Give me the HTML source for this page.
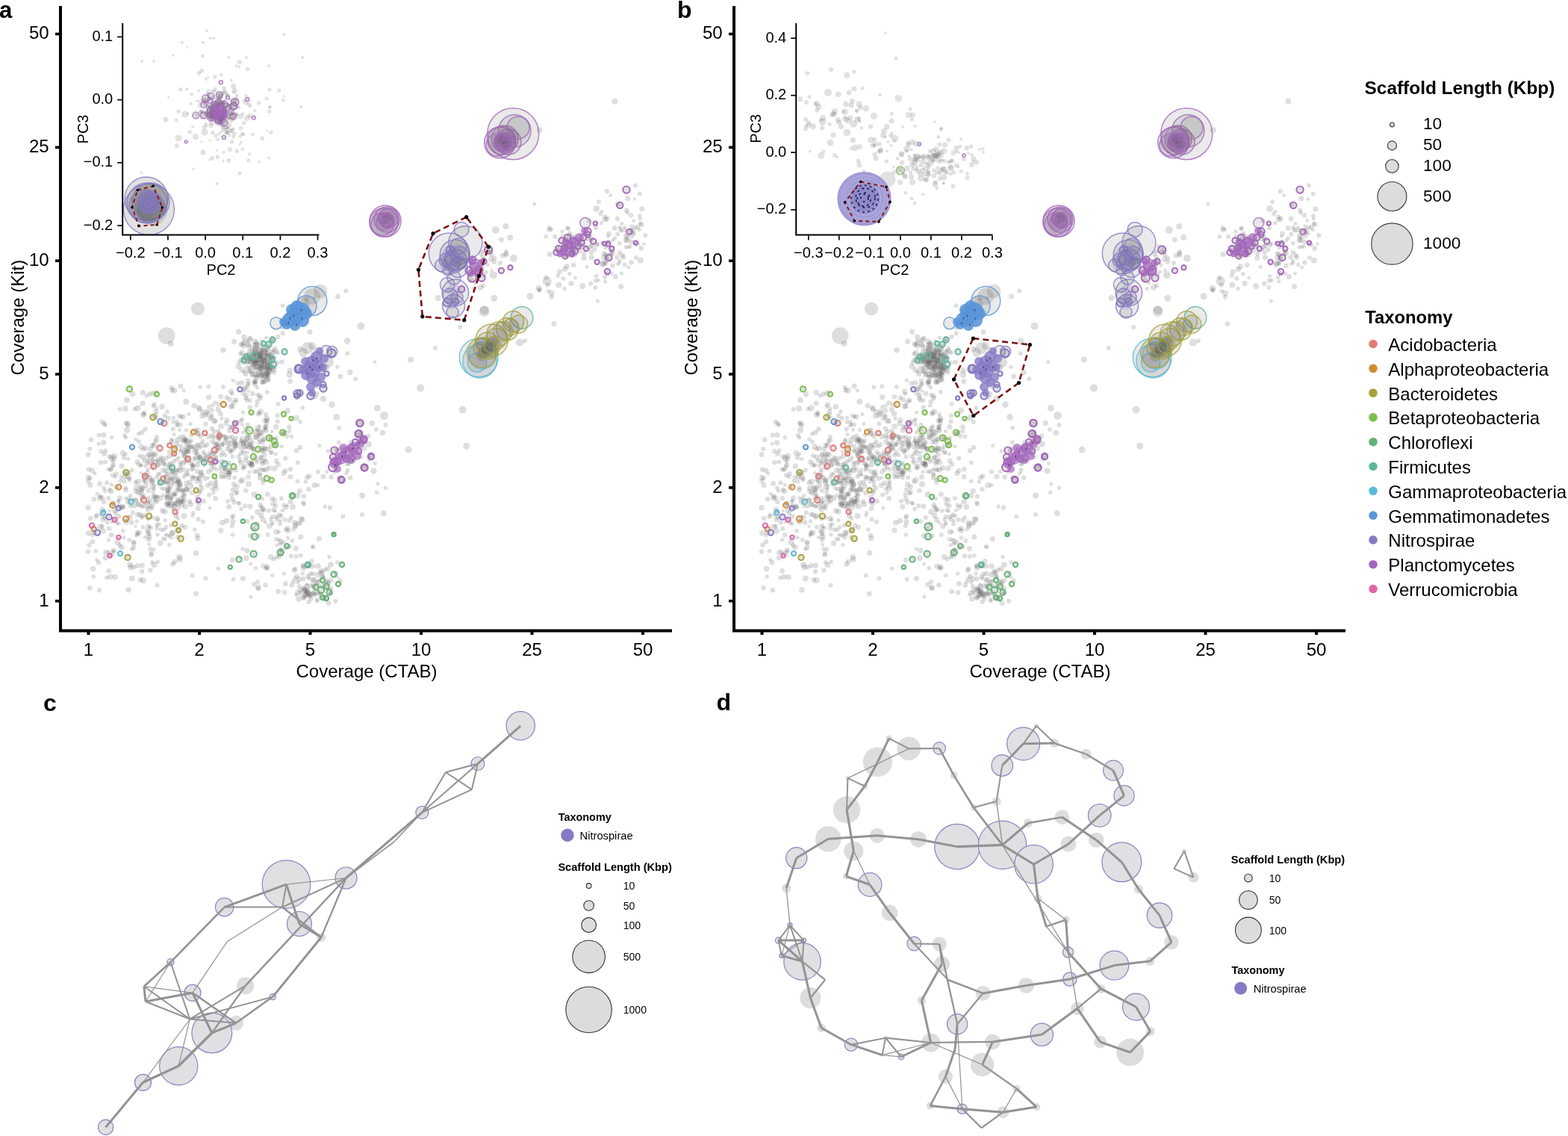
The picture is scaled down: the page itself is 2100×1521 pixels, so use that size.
<!DOCTYPE html>
<html><head><meta charset="utf-8"><style>html,body{margin:0;padding:0;background:#fff;overflow:hidden}svg{display:block}</style></head><body>
<svg width="2100" height="1521" viewBox="0 0 2100 1521" font-family="'Liberation Sans', Arial, Helvetica, sans-serif">
<rect width="100%" height="100%" fill="#fff"/>
<defs><g id="sc">
<g fill="#5a5a5a" fill-opacity="0.2">
<circle cx="246.2" cy="670.7" r="3.9"/>
<circle cx="250" cy="654.9" r="3.4"/>
<circle cx="168.6" cy="656.1" r="3.4"/>
<circle cx="345" cy="528.7" r="3"/>
<circle cx="141.3" cy="746.9" r="3.5"/>
<circle cx="394.8" cy="699.4" r="3.4"/>
<circle cx="268.2" cy="518.2" r="2.8"/>
<circle cx="249.5" cy="634.4" r="3.8"/>
<circle cx="265.5" cy="695.3" r="3.2"/>
<circle cx="307.1" cy="639.5" r="2.9"/>
<circle cx="358.7" cy="715.9" r="3"/>
<circle cx="181.6" cy="588.2" r="2.6"/>
<circle cx="337.2" cy="622.1" r="3.8"/>
<circle cx="230.3" cy="522.3" r="3.4"/>
<circle cx="340.8" cy="582.3" r="2.6"/>
<circle cx="334.8" cy="536" r="2.9"/>
<circle cx="346.1" cy="554.2" r="3.3"/>
<circle cx="244.8" cy="558.2" r="3.6"/>
<circle cx="153" cy="696.3" r="2.7"/>
<circle cx="237" cy="564.9" r="2.9"/>
<circle cx="396.6" cy="745" r="3"/>
<circle cx="371.6" cy="564.3" r="3.1"/>
<circle cx="362.8" cy="695.8" r="2.7"/>
<circle cx="401.9" cy="565" r="2.9"/>
<circle cx="339.1" cy="600.3" r="2.9"/>
<circle cx="284" cy="574.1" r="3.4"/>
<circle cx="222.8" cy="638.2" r="3.9"/>
<circle cx="255.3" cy="675.2" r="3.8"/>
<circle cx="168" cy="547" r="3.9"/>
<circle cx="352.2" cy="576.1" r="2.8"/>
<circle cx="172" cy="789.8" r="3.8"/>
<circle cx="290" cy="628.5" r="2.7"/>
<circle cx="184.1" cy="714.9" r="2.9"/>
<circle cx="353.9" cy="681.9" r="2.9"/>
<circle cx="165.9" cy="719.7" r="2.6"/>
<circle cx="181.2" cy="670.6" r="3.8"/>
<circle cx="293.1" cy="585.5" r="3.9"/>
<circle cx="193.1" cy="635.9" r="2.6"/>
<circle cx="166.1" cy="612.5" r="3.4"/>
<circle cx="153.2" cy="610.5" r="3.8"/>
<circle cx="399.3" cy="700.4" r="3.5"/>
<circle cx="284.5" cy="542.8" r="2.6"/>
<circle cx="121.2" cy="694" r="3.2"/>
<circle cx="326.8" cy="597.3" r="4"/>
<circle cx="136.8" cy="666.6" r="3.6"/>
<circle cx="376.1" cy="724.8" r="3.6"/>
<circle cx="345" cy="779.1" r="3"/>
<circle cx="367.6" cy="627.2" r="3.7"/>
<circle cx="365.4" cy="674.7" r="3.4"/>
<circle cx="225.9" cy="677.7" r="3.4"/>
<circle cx="138.3" cy="695" r="4"/>
<circle cx="370.1" cy="722.1" r="3.1"/>
<circle cx="328.2" cy="677.2" r="3.2"/>
<circle cx="289.4" cy="646.7" r="2.8"/>
<circle cx="317.5" cy="651.7" r="3.4"/>
<circle cx="381.9" cy="578" r="2.5"/>
<circle cx="202.3" cy="706.8" r="2.8"/>
<circle cx="306.4" cy="634.8" r="3.8"/>
<circle cx="209.8" cy="703.1" r="2.8"/>
<circle cx="240" cy="745.8" r="3.9"/>
<circle cx="370.3" cy="617.2" r="3.4"/>
<circle cx="206.8" cy="541.5" r="3.2"/>
<circle cx="357.8" cy="758.9" r="3.6"/>
<circle cx="390.5" cy="584.4" r="2.8"/>
<circle cx="245.7" cy="583.9" r="2.8"/>
<circle cx="235.1" cy="690.8" r="3.2"/>
<circle cx="206.5" cy="755.9" r="4"/>
<circle cx="246.2" cy="522.8" r="2.5"/>
<circle cx="320.5" cy="674" r="3"/>
<circle cx="154.4" cy="638.7" r="2.5"/>
<circle cx="355.6" cy="572.4" r="2.7"/>
<circle cx="128.6" cy="691.9" r="3.2"/>
<circle cx="297.7" cy="699.8" r="3.7"/>
<circle cx="393" cy="708.8" r="2.8"/>
<circle cx="252.8" cy="554.5" r="2.5"/>
<circle cx="166.9" cy="583.1" r="3"/>
<circle cx="317.2" cy="658.7" r="3.4"/>
<circle cx="334.3" cy="620" r="3.7"/>
<circle cx="385.5" cy="720.3" r="2.7"/>
<circle cx="246.5" cy="690.8" r="3.9"/>
<circle cx="224.3" cy="673.5" r="3.8"/>
<circle cx="346.1" cy="788" r="3.2"/>
<circle cx="303.9" cy="562.5" r="3.6"/>
<circle cx="352.3" cy="695.7" r="3.6"/>
<circle cx="176.9" cy="774.5" r="4"/>
<circle cx="398.4" cy="663.8" r="3.7"/>
<circle cx="363.2" cy="606.3" r="2.6"/>
<circle cx="242.9" cy="667.8" r="3.7"/>
<circle cx="347" cy="552.7" r="3"/>
<circle cx="343.5" cy="542.9" r="2.7"/>
<circle cx="264.8" cy="720.7" r="3.8"/>
<circle cx="139.9" cy="567.5" r="3.3"/>
<circle cx="199.1" cy="722.3" r="3.5"/>
<circle cx="277.4" cy="595.1" r="3.1"/>
<circle cx="175.4" cy="759.5" r="4"/>
<circle cx="267" cy="674.8" r="2.8"/>
<circle cx="270.4" cy="653.5" r="3.4"/>
<circle cx="264.6" cy="622.2" r="3.7"/>
<circle cx="278.2" cy="649.8" r="3.5"/>
<circle cx="134.1" cy="664.3" r="3.1"/>
<circle cx="193.1" cy="644.3" r="2.7"/>
<circle cx="240.8" cy="748.8" r="3.9"/>
<circle cx="253.2" cy="596.8" r="2.8"/>
<circle cx="152.5" cy="737.7" r="2.5"/>
<circle cx="171.3" cy="569.3" r="3.5"/>
<circle cx="208.4" cy="608.4" r="3.4"/>
<circle cx="145.4" cy="722.9" r="2.7"/>
<circle cx="263" cy="576.4" r="2.8"/>
<circle cx="268.8" cy="633.2" r="3.1"/>
<circle cx="234.9" cy="661.5" r="2.7"/>
<circle cx="174.2" cy="692.6" r="3.5"/>
<circle cx="292.4" cy="761.3" r="2.8"/>
<circle cx="329.8" cy="747.2" r="3.9"/>
<circle cx="206.6" cy="596.1" r="3.9"/>
<circle cx="372.4" cy="540.8" r="2.9"/>
<circle cx="325.7" cy="579.1" r="2.6"/>
<circle cx="356.3" cy="628.6" r="3.7"/>
<circle cx="151.5" cy="622.8" r="3.5"/>
<circle cx="260.8" cy="709.1" r="2.8"/>
<circle cx="125.9" cy="668.3" r="3.3"/>
<circle cx="279.9" cy="544.7" r="2.8"/>
<circle cx="174.1" cy="756.3" r="4"/>
<circle cx="133" cy="790.2" r="3.2"/>
<circle cx="336.8" cy="599.7" r="3.2"/>
<circle cx="264.4" cy="631.2" r="3.4"/>
<circle cx="118.8" cy="713.8" r="3.8"/>
<circle cx="167.6" cy="638.5" r="3.6"/>
<circle cx="232.5" cy="559.5" r="2.7"/>
<circle cx="374" cy="744.5" r="3.6"/>
<circle cx="364.6" cy="692" r="3.1"/>
<circle cx="288.9" cy="653.8" r="4"/>
<circle cx="348.4" cy="578.8" r="3.9"/>
<circle cx="330.9" cy="737.3" r="3.7"/>
<circle cx="370.2" cy="711.9" r="3.7"/>
<circle cx="336.9" cy="623.8" r="3.6"/>
<circle cx="135.5" cy="604.2" r="3.2"/>
<circle cx="118.1" cy="608.5" r="3.5"/>
<circle cx="296" cy="570.8" r="3.9"/>
<circle cx="308.2" cy="603" r="3.5"/>
<circle cx="280.2" cy="662.6" r="3.1"/>
<circle cx="405" cy="695.9" r="3.6"/>
<circle cx="335.9" cy="798.9" r="2.5"/>
<circle cx="189.4" cy="622.5" r="2.6"/>
<circle cx="171.7" cy="614.6" r="2.6"/>
<circle cx="187.8" cy="776.2" r="3.3"/>
<circle cx="262.3" cy="795" r="3.4"/>
<circle cx="403.6" cy="694.6" r="3.7"/>
<circle cx="137.1" cy="682.2" r="3.6"/>
<circle cx="161.4" cy="643.9" r="2.8"/>
<circle cx="258.7" cy="686.4" r="2.6"/>
<circle cx="389.1" cy="628.3" r="3.3"/>
<circle cx="288.4" cy="611.5" r="2.9"/>
<circle cx="305" cy="671" r="2.9"/>
<circle cx="322.8" cy="590.3" r="2.5"/>
<circle cx="160.4" cy="730.2" r="3.1"/>
<circle cx="375.3" cy="728.3" r="2.6"/>
<circle cx="239.6" cy="645.7" r="4"/>
<circle cx="185.7" cy="659.6" r="3.9"/>
<circle cx="324.6" cy="642.8" r="4"/>
<circle cx="351.8" cy="684.1" r="2.7"/>
<circle cx="296" cy="639" r="2.8"/>
<circle cx="130.1" cy="661.1" r="2.7"/>
<circle cx="243.4" cy="703.7" r="3.2"/>
<circle cx="191" cy="677.6" r="3.1"/>
<circle cx="340.6" cy="661.9" r="4"/>
<circle cx="391.3" cy="724" r="2.9"/>
<circle cx="148" cy="772.3" r="3.7"/>
<circle cx="296.2" cy="609.6" r="2.9"/>
<circle cx="313.7" cy="672.3" r="3.4"/>
<circle cx="170" cy="575.9" r="4"/>
<circle cx="380.6" cy="768" r="2.6"/>
<circle cx="132.6" cy="582.6" r="3.1"/>
<circle cx="295.8" cy="531.3" r="3.3"/>
<circle cx="311.1" cy="667.9" r="3.4"/>
<circle cx="223.2" cy="646" r="2.8"/>
<circle cx="214.7" cy="727.2" r="3.8"/>
<circle cx="349.7" cy="690.2" r="3.7"/>
<circle cx="176.8" cy="629.4" r="2.9"/>
<circle cx="349.9" cy="612.5" r="3.5"/>
<circle cx="401.9" cy="599.2" r="3.3"/>
<circle cx="239" cy="612.6" r="2.6"/>
<circle cx="139.1" cy="672.1" r="3.2"/>
<circle cx="313.7" cy="591.2" r="3.7"/>
<circle cx="137.1" cy="565" r="3.5"/>
<circle cx="138.7" cy="592.7" r="3.6"/>
<circle cx="316.3" cy="586.3" r="2.7"/>
<circle cx="218.8" cy="721.4" r="3"/>
<circle cx="149" cy="716.3" r="3.4"/>
<circle cx="379.9" cy="633.6" r="3.7"/>
<circle cx="203.4" cy="596.9" r="3.1"/>
<circle cx="187" cy="610.3" r="3"/>
<circle cx="220.4" cy="620.7" r="3.1"/>
<circle cx="171.5" cy="672" r="3.7"/>
<circle cx="278.2" cy="553.9" r="3.6"/>
<circle cx="370.5" cy="585.8" r="2.5"/>
<circle cx="264.5" cy="666" r="3.4"/>
<circle cx="133.6" cy="666.8" r="3.7"/>
<circle cx="139.6" cy="693.4" r="2.7"/>
<circle cx="331.3" cy="697.9" r="2.9"/>
<circle cx="178.9" cy="733.4" r="3.3"/>
<circle cx="336.8" cy="620.3" r="3"/>
<circle cx="395.8" cy="705.1" r="3.2"/>
<circle cx="234.1" cy="752" r="3.5"/>
<circle cx="362.5" cy="745.8" r="3.8"/>
<circle cx="372.7" cy="792.1" r="3.5"/>
<circle cx="347.7" cy="628.6" r="3.1"/>
<circle cx="157.4" cy="726.1" r="4"/>
<circle cx="223.9" cy="551.1" r="2.8"/>
<circle cx="238.2" cy="589.1" r="4"/>
<circle cx="132.2" cy="594.1" r="2.7"/>
<circle cx="248" cy="678.1" r="3.9"/>
<circle cx="168.5" cy="566.3" r="2.9"/>
<circle cx="323" cy="681.4" r="2.8"/>
<circle cx="168.6" cy="585.7" r="2.8"/>
<circle cx="334.7" cy="595.1" r="3.3"/>
<circle cx="352" cy="646.2" r="2.9"/>
<circle cx="214.2" cy="666.9" r="3.9"/>
<circle cx="255" cy="567.4" r="2.6"/>
<circle cx="389.8" cy="744.4" r="3.1"/>
<circle cx="268" cy="657.3" r="2.9"/>
<circle cx="402.2" cy="700.6" r="2.9"/>
<circle cx="118.2" cy="644.2" r="3.1"/>
<circle cx="346.1" cy="717.6" r="3.4"/>
<circle cx="160.6" cy="547.9" r="3"/>
<circle cx="190.2" cy="765.1" r="3.3"/>
<circle cx="192.3" cy="663" r="2.7"/>
<circle cx="353.2" cy="758.1" r="3.7"/>
<circle cx="138.9" cy="582.3" r="3.6"/>
<circle cx="143.2" cy="646.4" r="3.2"/>
<circle cx="392.1" cy="678.9" r="3.8"/>
<circle cx="203" cy="740.7" r="3.1"/>
<circle cx="354.6" cy="563.6" r="3.3"/>
<circle cx="267.4" cy="548.1" r="3.7"/>
<circle cx="205.3" cy="594.8" r="2.6"/>
<circle cx="203.7" cy="642.5" r="3.6"/>
<circle cx="219.3" cy="709.6" r="2.7"/>
<circle cx="229.3" cy="640.8" r="4"/>
<circle cx="355.6" cy="699.5" r="2.5"/>
<circle cx="224.4" cy="716.6" r="2.9"/>
<circle cx="278.6" cy="639.7" r="2.5"/>
<circle cx="402.6" cy="743.8" r="2.8"/>
<circle cx="293.7" cy="588.6" r="3.1"/>
<circle cx="271.5" cy="591" r="3"/>
<circle cx="228.7" cy="703.3" r="2.9"/>
<circle cx="173" cy="723.1" r="3"/>
<circle cx="389.1" cy="671.7" r="3.6"/>
<circle cx="211.2" cy="752.2" r="2.6"/>
<circle cx="311.5" cy="716" r="2.8"/>
<circle cx="231.7" cy="755.3" r="3.4"/>
<circle cx="141.1" cy="569.1" r="2.7"/>
<circle cx="151" cy="624.1" r="2.6"/>
<circle cx="382" cy="630.2" r="3.3"/>
<circle cx="353.1" cy="617.7" r="3"/>
<circle cx="231.2" cy="713.5" r="4"/>
<circle cx="344" cy="701.4" r="3.4"/>
<circle cx="120.4" cy="601" r="3"/>
<circle cx="303.7" cy="532.4" r="3.1"/>
<circle cx="262.7" cy="740.5" r="3.7"/>
<circle cx="292.3" cy="548.3" r="3.6"/>
<circle cx="376.9" cy="667.2" r="3"/>
<circle cx="260.1" cy="543.2" r="3.6"/>
<circle cx="401.2" cy="657.4" r="3.6"/>
<circle cx="357.3" cy="560.1" r="3.9"/>
<circle cx="296.9" cy="560.4" r="2.6"/>
<circle cx="185.9" cy="675.8" r="3.5"/>
<circle cx="210.5" cy="783.4" r="3"/>
<circle cx="249.3" cy="537.8" r="4"/>
<circle cx="272.6" cy="671" r="3.3"/>
<circle cx="191.7" cy="777.3" r="4"/>
<circle cx="354.1" cy="588" r="3.8"/>
<circle cx="184.8" cy="674.9" r="3.7"/>
<circle cx="168.8" cy="667.1" r="2.6"/>
<circle cx="305.9" cy="593.8" r="3.5"/>
<circle cx="328.9" cy="616.4" r="3.4"/>
<circle cx="172.9" cy="642.7" r="2.7"/>
<circle cx="227" cy="673.7" r="2.8"/>
<circle cx="265.7" cy="580.4" r="3.4"/>
<circle cx="211.3" cy="695.7" r="2.6"/>
<circle cx="309.6" cy="544.1" r="3.9"/>
<circle cx="289" cy="643.3" r="3.1"/>
<circle cx="295.9" cy="710.2" r="3.6"/>
<circle cx="333" cy="648.2" r="4"/>
<circle cx="358.1" cy="760.8" r="3.1"/>
<circle cx="240.8" cy="672.6" r="3.9"/>
<circle cx="267.5" cy="660.1" r="3.1"/>
<circle cx="377.2" cy="597.8" r="2.6"/>
<circle cx="325.4" cy="774.5" r="3.6"/>
<circle cx="203.4" cy="681" r="2.6"/>
<circle cx="151.1" cy="636.3" r="3.3"/>
<circle cx="316.5" cy="660.5" r="2.9"/>
<circle cx="203.8" cy="620.6" r="2.9"/>
<circle cx="395.3" cy="703" r="3.8"/>
<circle cx="179.3" cy="727.7" r="3.4"/>
<circle cx="344.8" cy="537.8" r="3.3"/>
<circle cx="185.7" cy="591.3" r="3"/>
<circle cx="351.5" cy="621.2" r="3"/>
<circle cx="204.3" cy="652" r="3.9"/>
<circle cx="398.4" cy="644.2" r="2.8"/>
<circle cx="207.8" cy="556.5" r="4"/>
<circle cx="193.3" cy="552.7" r="3.1"/>
<circle cx="233.5" cy="522.7" r="4"/>
<circle cx="309.3" cy="524.1" r="3.6"/>
<circle cx="192.8" cy="554.6" r="2.6"/>
<circle cx="180.4" cy="547.7" r="3"/>
<circle cx="295.5" cy="554.1" r="3.7"/>
<circle cx="184.6" cy="546.3" r="4.1"/>
<circle cx="229.5" cy="518.6" r="2.9"/>
<circle cx="209.5" cy="547" r="2.8"/>
<circle cx="191.2" cy="525.6" r="3.6"/>
<circle cx="279.6" cy="531.8" r="3.6"/>
<circle cx="293.2" cy="541.5" r="2.9"/>
<circle cx="205.1" cy="543.8" r="2.7"/>
<circle cx="307.5" cy="534.8" r="3.4"/>
<circle cx="242" cy="517" r="3.5"/>
<circle cx="206.3" cy="526.3" r="3.9"/>
<circle cx="177.6" cy="527.8" r="3.8"/>
<circle cx="200.7" cy="527.6" r="3.4"/>
<circle cx="192" cy="555.4" r="4.2"/>
<circle cx="169.9" cy="535.8" r="3.8"/>
<circle cx="220.8" cy="556.8" r="3.3"/>
<circle cx="191.1" cy="540" r="3.6"/>
<circle cx="217.1" cy="544.6" r="3.8"/>
<circle cx="141.8" cy="739.7" r="3.8"/>
<circle cx="149.8" cy="741.4" r="3.9"/>
<circle cx="125.3" cy="772" r="2.7"/>
<circle cx="146.2" cy="707.8" r="3.2"/>
<circle cx="154.1" cy="772.8" r="3.7"/>
<circle cx="128.3" cy="737.7" r="2.8"/>
<circle cx="144.8" cy="738.9" r="2.6"/>
<circle cx="145.6" cy="764.3" r="3.4"/>
<circle cx="158.9" cy="701.2" r="2.7"/>
<circle cx="117.9" cy="738.5" r="3.2"/>
<circle cx="138.2" cy="711" r="3.7"/>
<circle cx="120.5" cy="787.1" r="3.4"/>
<circle cx="143.1" cy="773.4" r="2.9"/>
<circle cx="124" cy="716.7" r="2.6"/>
<circle cx="132.1" cy="753.3" r="3.3"/>
<circle cx="129.7" cy="749.5" r="2.6"/>
<circle cx="156.4" cy="700.2" r="2.9"/>
<circle cx="124.7" cy="761.5" r="3.7"/>
<circle cx="154.8" cy="687.2" r="3.1"/>
<circle cx="134.5" cy="705.5" r="4"/>
<circle cx="118.4" cy="639.2" r="3.6"/>
<circle cx="149.5" cy="611.6" r="3.2"/>
<circle cx="141.6" cy="603.1" r="2.9"/>
<circle cx="146.4" cy="611.3" r="3.1"/>
<circle cx="126.8" cy="634" r="2.6"/>
<circle cx="118.1" cy="679.7" r="3.6"/>
<circle cx="141.2" cy="618.4" r="2.9"/>
<circle cx="135.2" cy="619.3" r="3.2"/>
<circle cx="147.8" cy="629.1" r="3"/>
<circle cx="149.4" cy="648.9" r="2.6"/>
<circle cx="198.8" cy="666.3" r="2.6"/>
<circle cx="194.6" cy="574.5" r="3.3"/>
<circle cx="203.7" cy="643.7" r="3.7"/>
<circle cx="254.4" cy="591.7" r="3"/>
<circle cx="221.1" cy="622.4" r="2.8"/>
<circle cx="210.3" cy="639" r="3.1"/>
<circle cx="185.7" cy="580.9" r="2.8"/>
<circle cx="339.7" cy="604.2" r="3"/>
<circle cx="290.9" cy="603" r="2.9"/>
<circle cx="324.4" cy="561.7" r="2.9"/>
<circle cx="352.6" cy="642.2" r="3"/>
<circle cx="209.1" cy="559.4" r="2.5"/>
<circle cx="241" cy="630.2" r="3.7"/>
<circle cx="249.4" cy="575.9" r="2.6"/>
<circle cx="259.6" cy="623.1" r="2.7"/>
<circle cx="304.2" cy="601" r="3.1"/>
<circle cx="326.4" cy="626.9" r="2.9"/>
<circle cx="233.4" cy="606.9" r="2.8"/>
<circle cx="230" cy="590.9" r="3"/>
<circle cx="271.8" cy="636.6" r="3"/>
<circle cx="267.7" cy="611.8" r="3.4"/>
<circle cx="279.3" cy="517.5" r="2.9"/>
<circle cx="284.8" cy="591.2" r="3.5"/>
<circle cx="355.9" cy="554.9" r="2.8"/>
<circle cx="311.4" cy="611.7" r="3"/>
<circle cx="225.3" cy="647.6" r="3.2"/>
<circle cx="295.9" cy="627.9" r="3.2"/>
<circle cx="226.4" cy="604.5" r="2.6"/>
<circle cx="230.1" cy="634.3" r="3.3"/>
<circle cx="167.3" cy="632.9" r="2.5"/>
<circle cx="245.1" cy="628.4" r="3.1"/>
<circle cx="181.6" cy="645.9" r="3.2"/>
<circle cx="257.4" cy="621.6" r="3"/>
<circle cx="211.5" cy="621.8" r="3.4"/>
<circle cx="182.7" cy="653.4" r="3.8"/>
<circle cx="123.8" cy="630" r="3.6"/>
<circle cx="205" cy="610.8" r="3.1"/>
<circle cx="288.3" cy="539.2" r="3"/>
<circle cx="285.7" cy="607" r="3.2"/>
<circle cx="182.6" cy="717.1" r="2.7"/>
<circle cx="284.3" cy="654.8" r="2.8"/>
<circle cx="198.2" cy="628.6" r="2.8"/>
<circle cx="201.6" cy="601.3" r="3.4"/>
<circle cx="298.9" cy="517.9" r="3"/>
<circle cx="284.6" cy="583.4" r="3.5"/>
<circle cx="170.9" cy="567" r="3.7"/>
<circle cx="198.7" cy="610" r="3.3"/>
<circle cx="253.9" cy="671.4" r="3.2"/>
<circle cx="265.8" cy="641.2" r="2.7"/>
<circle cx="272.2" cy="616.9" r="2.6"/>
<circle cx="241.7" cy="604.2" r="3.1"/>
<circle cx="223" cy="630.4" r="3.7"/>
<circle cx="298.2" cy="606.2" r="3.2"/>
<circle cx="198.1" cy="672.3" r="2.9"/>
<circle cx="241.3" cy="648.1" r="3.6"/>
<circle cx="275.4" cy="567.4" r="3.1"/>
<circle cx="164.1" cy="606.3" r="3.6"/>
<circle cx="208.2" cy="669.8" r="2.8"/>
<circle cx="329.9" cy="588.7" r="3.8"/>
<circle cx="325.2" cy="625.8" r="3.1"/>
<circle cx="168.7" cy="698.4" r="3.9"/>
<circle cx="242.8" cy="603.1" r="2.6"/>
<circle cx="196.3" cy="529.7" r="2.7"/>
<circle cx="326.1" cy="593.4" r="3.2"/>
<circle cx="238.7" cy="679.3" r="3.7"/>
<circle cx="205.5" cy="665.1" r="3.6"/>
<circle cx="201.1" cy="670.8" r="3.3"/>
<circle cx="281.8" cy="621.3" r="2.6"/>
<circle cx="268.3" cy="649.6" r="2.7"/>
<circle cx="328.2" cy="590.8" r="2.7"/>
<circle cx="257.5" cy="638.5" r="3.2"/>
<circle cx="257.8" cy="625" r="2.6"/>
<circle cx="251.3" cy="629.5" r="2.8"/>
<circle cx="292.2" cy="599.5" r="3.7"/>
<circle cx="179.4" cy="677.6" r="3.1"/>
<circle cx="172.2" cy="632.7" r="3.4"/>
<circle cx="349.2" cy="551.1" r="3.9"/>
<circle cx="283.2" cy="555.6" r="2.7"/>
<circle cx="273.9" cy="622.5" r="2.6"/>
<circle cx="245.7" cy="589" r="3.2"/>
<circle cx="319.3" cy="673.6" r="2.5"/>
<circle cx="271.6" cy="551.4" r="3.5"/>
<circle cx="382.3" cy="613.7" r="3.1"/>
<circle cx="280.9" cy="680.2" r="2.5"/>
<circle cx="274.6" cy="640.9" r="3"/>
<circle cx="264.1" cy="580.8" r="3.4"/>
<circle cx="225.5" cy="675.8" r="2.8"/>
<circle cx="169.3" cy="634.7" r="2.7"/>
<circle cx="295.9" cy="623.5" r="3.1"/>
<circle cx="198.3" cy="637.4" r="3"/>
<circle cx="288.6" cy="594.5" r="3.7"/>
<circle cx="250" cy="600.5" r="3.9"/>
<circle cx="291.1" cy="594.7" r="3.1"/>
<circle cx="283.1" cy="628.4" r="3.4"/>
<circle cx="246.3" cy="638.3" r="3"/>
<circle cx="315.8" cy="629.7" r="3"/>
<circle cx="199.2" cy="608" r="3.3"/>
<circle cx="283.8" cy="558.3" r="3.1"/>
<circle cx="212.8" cy="648.6" r="2.8"/>
<circle cx="188.6" cy="623.5" r="2.5"/>
<circle cx="189.8" cy="656.5" r="3.3"/>
<circle cx="302.2" cy="627.6" r="3.9"/>
<circle cx="238" cy="673.9" r="3.9"/>
<circle cx="269.9" cy="595.7" r="3.9"/>
<circle cx="288.5" cy="667.3" r="3.4"/>
<circle cx="283.7" cy="549.2" r="3.2"/>
<circle cx="367.8" cy="597" r="3.5"/>
<circle cx="264.2" cy="575.7" r="3.3"/>
<circle cx="279.2" cy="631.6" r="3.4"/>
<circle cx="155.8" cy="634.5" r="3.2"/>
<circle cx="266.4" cy="545.9" r="3.6"/>
<circle cx="325.4" cy="552.1" r="2.7"/>
<circle cx="269.2" cy="614.8" r="3"/>
<circle cx="263.8" cy="596.5" r="2.8"/>
<circle cx="286.5" cy="563.4" r="3.8"/>
<circle cx="292.1" cy="598.2" r="3.4"/>
<circle cx="242" cy="597.6" r="3.4"/>
<circle cx="306.5" cy="597.2" r="2.9"/>
<circle cx="257.5" cy="660.1" r="3.5"/>
<circle cx="327.6" cy="623.9" r="3.2"/>
<circle cx="372.7" cy="622.1" r="3.4"/>
<circle cx="351.6" cy="681.6" r="3.5"/>
<circle cx="232.3" cy="647.1" r="3.1"/>
<circle cx="206" cy="608.1" r="3.6"/>
<circle cx="195.1" cy="650.2" r="3.8"/>
<circle cx="234.9" cy="598.9" r="3.3"/>
<circle cx="279.8" cy="584.6" r="3.7"/>
<circle cx="138.4" cy="684.6" r="3"/>
<circle cx="198.4" cy="615.5" r="2.6"/>
<circle cx="256" cy="651.1" r="3.8"/>
<circle cx="210" cy="584.7" r="2.8"/>
<circle cx="353.5" cy="629.3" r="2.9"/>
<circle cx="217.5" cy="683.8" r="3.7"/>
<circle cx="229" cy="621" r="3.8"/>
<circle cx="228.5" cy="651" r="3.5"/>
<circle cx="210.2" cy="694.4" r="3.8"/>
<circle cx="203" cy="607.2" r="3"/>
<circle cx="237.9" cy="669" r="3.3"/>
<circle cx="421.8" cy="531.7" r="3.1"/>
<circle cx="189.1" cy="598.2" r="3.9"/>
<circle cx="194.9" cy="674.2" r="2.6"/>
<circle cx="195.4" cy="600.3" r="3.5"/>
<circle cx="270.8" cy="556.8" r="3.6"/>
<circle cx="245.7" cy="620" r="3.7"/>
<circle cx="263.2" cy="607.1" r="3"/>
<circle cx="227.4" cy="622.6" r="3.6"/>
<circle cx="226" cy="625.9" r="3.3"/>
<circle cx="319.2" cy="610.9" r="2.9"/>
<circle cx="268.6" cy="645.2" r="2.6"/>
<circle cx="191.7" cy="653.7" r="3.1"/>
<circle cx="355.2" cy="615.5" r="2.7"/>
<circle cx="197" cy="632.9" r="3.4"/>
<circle cx="308.2" cy="585.5" r="2.5"/>
<circle cx="275" cy="555.8" r="3.5"/>
<circle cx="241.3" cy="618.9" r="2.7"/>
<circle cx="329.4" cy="574.5" r="3.7"/>
<circle cx="238" cy="628.9" r="2.9"/>
<circle cx="293.1" cy="584.5" r="3.2"/>
<circle cx="338" cy="526.9" r="3.3"/>
<circle cx="294" cy="579.6" r="2.9"/>
<circle cx="263.7" cy="644.5" r="3.1"/>
<circle cx="227.7" cy="654.5" r="3.1"/>
<circle cx="261.5" cy="601.8" r="3.2"/>
<circle cx="228.1" cy="640.3" r="2.6"/>
<circle cx="242.5" cy="656.6" r="2.8"/>
<circle cx="247.7" cy="618.3" r="3.1"/>
<circle cx="330.3" cy="586.6" r="3.8"/>
<circle cx="204.8" cy="616.1" r="2.9"/>
<circle cx="208.5" cy="617.8" r="3.2"/>
<circle cx="251.5" cy="605" r="2.6"/>
<circle cx="263.7" cy="672.5" r="3.1"/>
<circle cx="223.4" cy="644.1" r="3.5"/>
<circle cx="357.2" cy="567.2" r="3"/>
<circle cx="277.2" cy="550.9" r="3.4"/>
<circle cx="252.7" cy="605.1" r="3.4"/>
<circle cx="318.7" cy="567.5" r="2.5"/>
<circle cx="240.5" cy="575.4" r="2.5"/>
<circle cx="190.7" cy="666.5" r="3.9"/>
<circle cx="350.9" cy="603.5" r="3.1"/>
<circle cx="220.5" cy="655.1" r="3.1"/>
<circle cx="234.1" cy="674.3" r="2.6"/>
<circle cx="281.2" cy="560.3" r="3.3"/>
<circle cx="297.3" cy="618.1" r="3.8"/>
<circle cx="265" cy="596" r="3.7"/>
<circle cx="315.5" cy="597.7" r="3"/>
<circle cx="307.3" cy="576.3" r="3.5"/>
<circle cx="254.1" cy="599.3" r="3.5"/>
<circle cx="218.8" cy="617.7" r="3"/>
<circle cx="224.3" cy="664.8" r="3.2"/>
<circle cx="149.1" cy="627.9" r="3"/>
<circle cx="268.7" cy="636.2" r="3.5"/>
<circle cx="258.5" cy="626.2" r="3.7"/>
<circle cx="230.1" cy="589.1" r="3.4"/>
<circle cx="371.6" cy="556.4" r="3.1"/>
<circle cx="285.8" cy="659.9" r="2.6"/>
<circle cx="260.9" cy="605.1" r="3.5"/>
<circle cx="204.1" cy="625.7" r="2.7"/>
<circle cx="242.7" cy="557.8" r="2.6"/>
<circle cx="270.1" cy="631.4" r="3.2"/>
<circle cx="337.7" cy="622" r="3.3"/>
<circle cx="322.1" cy="563.6" r="3"/>
<circle cx="236.2" cy="594.5" r="3.7"/>
<circle cx="260.1" cy="638.9" r="2.5"/>
<circle cx="263.9" cy="640.1" r="2.9"/>
<circle cx="211.7" cy="635.1" r="2.9"/>
<circle cx="140.6" cy="657.2" r="2.7"/>
<circle cx="288.6" cy="564" r="3.3"/>
<circle cx="171.4" cy="637.9" r="3.8"/>
<circle cx="255.9" cy="590.2" r="3.1"/>
<circle cx="209.1" cy="551.5" r="3.2"/>
<circle cx="238.6" cy="642" r="3.8"/>
<circle cx="324.4" cy="568.5" r="2.6"/>
<circle cx="321.8" cy="614.6" r="2.7"/>
<circle cx="236.6" cy="687.6" r="2.6"/>
<circle cx="268.6" cy="613" r="3.3"/>
<circle cx="190" cy="579" r="3.6"/>
<circle cx="322.1" cy="607.6" r="2.8"/>
<circle cx="226.3" cy="658.8" r="2.8"/>
<circle cx="206.2" cy="654.5" r="2.6"/>
<circle cx="249.7" cy="646.8" r="3.5"/>
<circle cx="385.2" cy="549.7" r="3.8"/>
<circle cx="264.3" cy="608.5" r="3.2"/>
<circle cx="209.7" cy="589.6" r="3.4"/>
<circle cx="356.3" cy="619" r="3.8"/>
<circle cx="362.1" cy="584.7" r="3.5"/>
<circle cx="163.2" cy="624.1" r="3.6"/>
<circle cx="353.9" cy="600.5" r="3.9"/>
<circle cx="218.9" cy="646.7" r="3"/>
<circle cx="251.2" cy="589.8" r="3.3"/>
<circle cx="227.8" cy="670.5" r="3.1"/>
<circle cx="214.3" cy="634.1" r="2.6"/>
<circle cx="129.4" cy="689.3" r="2.9"/>
<circle cx="173.8" cy="640.7" r="3.1"/>
<circle cx="184.3" cy="713.4" r="3.3"/>
<circle cx="182.2" cy="657.7" r="3.5"/>
<circle cx="220.9" cy="685.1" r="3.8"/>
<circle cx="163" cy="732.7" r="3.8"/>
<circle cx="265.1" cy="680.8" r="3.5"/>
<circle cx="199.1" cy="620.1" r="2.8"/>
<circle cx="183.8" cy="618.6" r="3.5"/>
<circle cx="158.7" cy="670.3" r="2.5"/>
<circle cx="224.2" cy="666" r="3.6"/>
<circle cx="230.6" cy="629.6" r="3.7"/>
<circle cx="149.3" cy="585.8" r="2.7"/>
<circle cx="139.6" cy="607.6" r="3.4"/>
<circle cx="164.2" cy="678.3" r="2.6"/>
<circle cx="213.4" cy="644.7" r="2.7"/>
<circle cx="237.6" cy="651" r="2.7"/>
<circle cx="145.5" cy="667" r="3.2"/>
<circle cx="237" cy="656.4" r="3.5"/>
<circle cx="174.8" cy="663.6" r="2.9"/>
<circle cx="199.7" cy="718.6" r="3.8"/>
<circle cx="120.8" cy="640.3" r="3.1"/>
<circle cx="298.3" cy="583.8" r="2.4"/>
<circle cx="191.1" cy="665.4" r="2.6"/>
<circle cx="189.3" cy="633.3" r="2.4"/>
<circle cx="201.7" cy="612.7" r="3.3"/>
<circle cx="205" cy="659.1" r="2.8"/>
<circle cx="212.7" cy="702" r="2.9"/>
<circle cx="166.4" cy="644.4" r="2.9"/>
<circle cx="155.6" cy="652.3" r="3.2"/>
<circle cx="176.7" cy="735.1" r="2.7"/>
<circle cx="233" cy="581.6" r="2.6"/>
<circle cx="233.8" cy="639.7" r="2.6"/>
<circle cx="221" cy="696.4" r="2.6"/>
<circle cx="148.7" cy="657.8" r="3.7"/>
<circle cx="198.7" cy="656.9" r="3.1"/>
<circle cx="139" cy="653.5" r="3"/>
<circle cx="151.7" cy="673.2" r="3.3"/>
<circle cx="204.1" cy="693.1" r="2.5"/>
<circle cx="230.1" cy="713.7" r="3.5"/>
<circle cx="232.9" cy="617.7" r="3"/>
<circle cx="241.6" cy="625.4" r="3.1"/>
<circle cx="215.2" cy="612.4" r="2.9"/>
<circle cx="239.5" cy="709.5" r="3.5"/>
<circle cx="246.7" cy="609.8" r="3.5"/>
<circle cx="207.8" cy="589.9" r="2.6"/>
<circle cx="198.1" cy="682" r="3.7"/>
<circle cx="160.5" cy="666.8" r="3.5"/>
<circle cx="268.5" cy="584.2" r="3.3"/>
<circle cx="184.9" cy="644.9" r="3.8"/>
<circle cx="197" cy="678.3" r="3.4"/>
<circle cx="257.2" cy="629.3" r="2.6"/>
<circle cx="288" cy="649.9" r="3.5"/>
<circle cx="227.4" cy="610.6" r="3.7"/>
<circle cx="159" cy="671.8" r="2.9"/>
<circle cx="258.1" cy="690.1" r="2.7"/>
<circle cx="192.1" cy="601.2" r="3.1"/>
<circle cx="203.7" cy="677.4" r="3.3"/>
<circle cx="231.6" cy="631.6" r="3.7"/>
<circle cx="202.3" cy="743" r="3.3"/>
<circle cx="195.1" cy="623.6" r="2.8"/>
<circle cx="188.9" cy="659.8" r="3.6"/>
<circle cx="134.5" cy="689.2" r="2.7"/>
<circle cx="168.2" cy="653.1" r="2.9"/>
<circle cx="241.1" cy="651.3" r="3.1"/>
<circle cx="162.5" cy="639" r="3"/>
<circle cx="153.1" cy="614" r="3.2"/>
<circle cx="274.7" cy="597.4" r="2.8"/>
<circle cx="251.5" cy="635.5" r="2.7"/>
<circle cx="225" cy="653.3" r="3.2"/>
<circle cx="168.2" cy="607.7" r="2.8"/>
<circle cx="145.4" cy="628.2" r="3"/>
<circle cx="246.1" cy="664.5" r="3.7"/>
<circle cx="216.8" cy="653.8" r="2.8"/>
<circle cx="182" cy="669" r="3"/>
<circle cx="186.3" cy="622.2" r="3.3"/>
<circle cx="187.8" cy="651.8" r="3.4"/>
<circle cx="249.7" cy="651.2" r="2.4"/>
<circle cx="171.7" cy="691.8" r="2.5"/>
<circle cx="218.1" cy="613.9" r="3.2"/>
<circle cx="220.6" cy="645.6" r="2.8"/>
<circle cx="222.8" cy="613.5" r="3"/>
<circle cx="218.7" cy="629.5" r="3.5"/>
<circle cx="165.4" cy="678.9" r="3"/>
<circle cx="191.7" cy="705.8" r="3"/>
<circle cx="193.6" cy="616.7" r="3.1"/>
<circle cx="163.9" cy="678.3" r="3.7"/>
<circle cx="197.7" cy="619" r="3.3"/>
<circle cx="199" cy="712.6" r="3.7"/>
<circle cx="191.9" cy="612" r="3.8"/>
<circle cx="227.6" cy="644" r="3.7"/>
<circle cx="120.9" cy="649.4" r="3.6"/>
<circle cx="133.6" cy="647.6" r="3.5"/>
<circle cx="186.4" cy="713.4" r="3.7"/>
<circle cx="146.7" cy="655.7" r="3.1"/>
<circle cx="118.9" cy="628.6" r="3.3"/>
<circle cx="203.5" cy="617.2" r="2.6"/>
<circle cx="153.3" cy="683.3" r="3.8"/>
<circle cx="234.5" cy="632.4" r="3.5"/>
<circle cx="197.3" cy="710.3" r="3.4"/>
<circle cx="306.6" cy="619.5" r="2.9"/>
<circle cx="351.7" cy="588.8" r="3.3"/>
<circle cx="313.4" cy="648.8" r="3.7"/>
<circle cx="331.1" cy="605.7" r="2.5"/>
<circle cx="311" cy="585.2" r="3.1"/>
<circle cx="380.7" cy="579.6" r="3.6"/>
<circle cx="292" cy="577" r="2.9"/>
<circle cx="337.4" cy="618.8" r="2.8"/>
<circle cx="330.3" cy="612.2" r="3.3"/>
<circle cx="346.4" cy="582.8" r="3"/>
<circle cx="334.8" cy="545.5" r="3.3"/>
<circle cx="301" cy="638.9" r="2.7"/>
<circle cx="331" cy="582.4" r="2.9"/>
<circle cx="315.2" cy="594.8" r="3.4"/>
<circle cx="331.7" cy="569" r="3.2"/>
<circle cx="350.9" cy="591.8" r="3.8"/>
<circle cx="324.9" cy="591.1" r="2.5"/>
<circle cx="308.1" cy="591.3" r="2.8"/>
<circle cx="302.9" cy="587.8" r="3.1"/>
<circle cx="289.2" cy="605.8" r="2.9"/>
<circle cx="320.5" cy="618" r="2.4"/>
<circle cx="295" cy="601.2" r="2.6"/>
<circle cx="284.9" cy="622" r="2.8"/>
<circle cx="308.1" cy="571.6" r="3.3"/>
<circle cx="287.2" cy="615.2" r="2.9"/>
<circle cx="333.5" cy="582.9" r="2.4"/>
<circle cx="378.8" cy="581.2" r="3.3"/>
<circle cx="360.5" cy="626.7" r="3.6"/>
<circle cx="286.9" cy="578" r="3"/>
<circle cx="251.9" cy="615.4" r="3.8"/>
<circle cx="323.2" cy="590.3" r="2.7"/>
<circle cx="280.2" cy="610.7" r="2.8"/>
<circle cx="220.9" cy="638.4" r="2.5"/>
<circle cx="338.3" cy="592.6" r="2.9"/>
<circle cx="359" cy="601.8" r="3.7"/>
<circle cx="310.9" cy="571.8" r="3.2"/>
<circle cx="258.1" cy="640.6" r="3.3"/>
<circle cx="286.3" cy="625.7" r="2.9"/>
<circle cx="314.6" cy="599.1" r="2.7"/>
<circle cx="326.3" cy="606.3" r="3.5"/>
<circle cx="356" cy="575.1" r="2.5"/>
<circle cx="332.5" cy="638.6" r="3.4"/>
<circle cx="328.7" cy="598.2" r="3.5"/>
<circle cx="324.5" cy="603.6" r="2.6"/>
<circle cx="344.8" cy="582.9" r="2.8"/>
<circle cx="350.1" cy="617.5" r="3.3"/>
<circle cx="362.5" cy="588.6" r="2.9"/>
<circle cx="334" cy="631.9" r="2.7"/>
<circle cx="341.7" cy="586.3" r="2.8"/>
<circle cx="311.6" cy="595.9" r="2.7"/>
<circle cx="322.2" cy="644.4" r="3.4"/>
<circle cx="287" cy="585.5" r="2.9"/>
<circle cx="309.1" cy="605.4" r="3.1"/>
<circle cx="309.6" cy="603.4" r="2.4"/>
<circle cx="306.4" cy="622.1" r="2.6"/>
<circle cx="334.2" cy="585.6" r="3.1"/>
<circle cx="312.1" cy="572.5" r="2.7"/>
<circle cx="314.3" cy="593" r="3.6"/>
<circle cx="342.9" cy="614.6" r="3.6"/>
<circle cx="302.9" cy="566.9" r="3.4"/>
<circle cx="323.5" cy="586.2" r="2.6"/>
<circle cx="387.3" cy="577.4" r="2.9"/>
<circle cx="384" cy="583.7" r="3.2"/>
<circle cx="336.1" cy="595.2" r="2.8"/>
<circle cx="340.2" cy="601.1" r="3.3"/>
<circle cx="349.3" cy="612.6" r="2.9"/>
<circle cx="281" cy="606.2" r="2.9"/>
<circle cx="365.6" cy="587" r="2.7"/>
<circle cx="387.4" cy="571.6" r="3.2"/>
<circle cx="241.6" cy="621.6" r="2.6"/>
<circle cx="303.4" cy="585.1" r="3.4"/>
<circle cx="347" cy="592.4" r="2.8"/>
<circle cx="316.4" cy="564.9" r="3.7"/>
<circle cx="282.6" cy="646.9" r="3.5"/>
<circle cx="369.7" cy="571.7" r="3.6"/>
<circle cx="388.7" cy="510.5" r="3.6"/>
<circle cx="335.8" cy="589.3" r="3"/>
<circle cx="369.3" cy="608.1" r="2.5"/>
<circle cx="322.9" cy="619.7" r="3.2"/>
<circle cx="266.7" cy="640.4" r="3.8"/>
<circle cx="298.3" cy="638" r="2.7"/>
<circle cx="344.1" cy="618.1" r="2.9"/>
<circle cx="322" cy="599.1" r="2.9"/>
<circle cx="364.4" cy="577.4" r="2.5"/>
<circle cx="334.6" cy="620.9" r="3.4"/>
<circle cx="346.6" cy="577.6" r="2.8"/>
<circle cx="314.1" cy="639.6" r="3"/>
<circle cx="190.3" cy="757.1" r="3.6"/>
<circle cx="146.7" cy="684.1" r="2.2"/>
<circle cx="179.8" cy="759.2" r="3"/>
<circle cx="170.2" cy="697.2" r="2.3"/>
<circle cx="177.9" cy="669.7" r="2.4"/>
<circle cx="181.4" cy="704.6" r="2.2"/>
<circle cx="194" cy="719.2" r="2.4"/>
<circle cx="172.4" cy="667.2" r="2.4"/>
<circle cx="151.6" cy="617.7" r="3"/>
<circle cx="189.4" cy="654.4" r="3.6"/>
<circle cx="136.8" cy="704.6" r="3"/>
<circle cx="149.6" cy="699.1" r="2.4"/>
<circle cx="122.1" cy="588.9" r="3.3"/>
<circle cx="125.8" cy="713.1" r="3.3"/>
<circle cx="190.3" cy="678" r="2.8"/>
<circle cx="199.6" cy="728.8" r="2.4"/>
<circle cx="123.9" cy="725.2" r="3.3"/>
<circle cx="152" cy="736.8" r="3.4"/>
<circle cx="222.3" cy="706" r="2.9"/>
<circle cx="201.4" cy="763.5" r="3.2"/>
<circle cx="150.6" cy="675.3" r="2.8"/>
<circle cx="226.7" cy="729.4" r="2.7"/>
<circle cx="162.7" cy="681.1" r="2.3"/>
<circle cx="199.2" cy="715.2" r="2.9"/>
<circle cx="177.8" cy="686.4" r="3.1"/>
<circle cx="224.9" cy="655" r="3.1"/>
<circle cx="149.4" cy="614.7" r="3.3"/>
<circle cx="143.5" cy="699.4" r="3"/>
<circle cx="175" cy="677.3" r="3"/>
<circle cx="184.3" cy="757.5" r="3.3"/>
<circle cx="119.4" cy="729.7" r="3.2"/>
<circle cx="226.6" cy="717.6" r="2.4"/>
<circle cx="164.7" cy="710.8" r="2.7"/>
<circle cx="257.5" cy="770.6" r="3"/>
<circle cx="201.2" cy="677.7" r="3.1"/>
<circle cx="159.4" cy="677.8" r="3.6"/>
<circle cx="194.8" cy="690.6" r="2.8"/>
<circle cx="231.2" cy="674.3" r="3.4"/>
<circle cx="198.4" cy="695.1" r="2.6"/>
<circle cx="238.7" cy="656.2" r="2.6"/>
<circle cx="229.4" cy="719.3" r="3.1"/>
<circle cx="238.2" cy="719.6" r="3.3"/>
<circle cx="238.5" cy="693.8" r="2.9"/>
<circle cx="205.7" cy="735.4" r="2.6"/>
<circle cx="264.1" cy="716.7" r="3.3"/>
<circle cx="221.4" cy="721.8" r="2.3"/>
<circle cx="210.1" cy="707.4" r="2.8"/>
<circle cx="211.1" cy="716" r="2.8"/>
<circle cx="247.6" cy="705.9" r="3.5"/>
<circle cx="198.8" cy="704.2" r="3.3"/>
<circle cx="200.2" cy="706" r="2.3"/>
<circle cx="275.4" cy="774.6" r="3"/>
<circle cx="271.8" cy="698.6" r="3.1"/>
<circle cx="224" cy="673.4" r="2.4"/>
<circle cx="178.9" cy="725.6" r="3.2"/>
<circle cx="159.1" cy="691.3" r="3.4"/>
<circle cx="221.7" cy="716.1" r="2.4"/>
<circle cx="201.2" cy="735" r="2.9"/>
<circle cx="203.8" cy="752.7" r="2.7"/>
<circle cx="215.6" cy="708.9" r="3"/>
<circle cx="248.9" cy="587.4" r="2.8"/>
<circle cx="241.3" cy="584.9" r="3"/>
<circle cx="249.1" cy="593.3" r="2.8"/>
<circle cx="249.6" cy="590" r="2.7"/>
<circle cx="247.2" cy="588.3" r="3.6"/>
<circle cx="245.4" cy="590.3" r="3.4"/>
<circle cx="251.2" cy="595.3" r="3.4"/>
<circle cx="248.2" cy="590.7" r="2.7"/>
<circle cx="256.4" cy="582.7" r="3"/>
<circle cx="301.6" cy="586.1" r="3"/>
<circle cx="296.9" cy="594.5" r="3.3"/>
<circle cx="297.7" cy="596.1" r="2.7"/>
<circle cx="290" cy="595.7" r="3.4"/>
<circle cx="298.7" cy="594.8" r="2.8"/>
<circle cx="292.6" cy="586.3" r="2.9"/>
<circle cx="301.4" cy="591.4" r="3.3"/>
<circle cx="299.3" cy="583" r="2.6"/>
<circle cx="331.6" cy="598" r="3.3"/>
<circle cx="330.5" cy="592.2" r="3"/>
<circle cx="334.3" cy="599.1" r="3.5"/>
<circle cx="346.4" cy="588.2" r="2.7"/>
<circle cx="337.8" cy="598.6" r="2.6"/>
<circle cx="326.1" cy="594" r="3.2"/>
<circle cx="343" cy="585.5" r="3.1"/>
<circle cx="334.1" cy="594.5" r="3"/>
<circle cx="259.9" cy="599.2" r="2.6"/>
<circle cx="267.1" cy="599.8" r="2.8"/>
<circle cx="272.5" cy="605.4" r="3.1"/>
<circle cx="263.8" cy="602.4" r="2.5"/>
<circle cx="274.6" cy="608.6" r="3.1"/>
<circle cx="247.6" cy="612.5" r="3.1"/>
<circle cx="257.6" cy="598.1" r="3.3"/>
<circle cx="246.2" cy="607.6" r="3.1"/>
<circle cx="256.4" cy="598.2" r="2.6"/>
<circle cx="247.2" cy="602.2" r="3.5"/>
<circle cx="247.4" cy="607" r="3.5"/>
<circle cx="249.6" cy="605.3" r="3.3"/>
<circle cx="251.8" cy="602.5" r="3.5"/>
<circle cx="354.1" cy="608.7" r="3.5"/>
<circle cx="352.5" cy="603.3" r="3.3"/>
<circle cx="363.6" cy="605.4" r="3.1"/>
<circle cx="348.3" cy="602" r="2.6"/>
<circle cx="355.2" cy="600.6" r="3"/>
<circle cx="351.7" cy="599.6" r="2.9"/>
<circle cx="362.7" cy="597.4" r="3.4"/>
<circle cx="312.7" cy="601.6" r="3.2"/>
<circle cx="301.6" cy="609.2" r="2.8"/>
<circle cx="316.8" cy="596.6" r="2.8"/>
<circle cx="316.3" cy="593.1" r="2.6"/>
<circle cx="321.9" cy="594.1" r="3"/>
<circle cx="313.3" cy="589.2" r="2.8"/>
<circle cx="260.5" cy="614.7" r="3.2"/>
<circle cx="266.2" cy="617.5" r="2.7"/>
<circle cx="273.6" cy="614.9" r="3.4"/>
<circle cx="265.6" cy="612.9" r="2.6"/>
<circle cx="267.7" cy="610.7" r="2.5"/>
<circle cx="262.1" cy="612.9" r="3.5"/>
<circle cx="255.7" cy="620.3" r="3.2"/>
<circle cx="258" cy="622.9" r="2.6"/>
<circle cx="300.7" cy="625.9" r="3"/>
<circle cx="296.1" cy="633.9" r="3.1"/>
<circle cx="305.9" cy="632.4" r="2.8"/>
<circle cx="302.6" cy="636" r="3.3"/>
<circle cx="301.5" cy="631.6" r="3.5"/>
<circle cx="301.3" cy="627.4" r="2.9"/>
<circle cx="307.2" cy="634.6" r="2.6"/>
<circle cx="306.9" cy="629.5" r="3.2"/>
<circle cx="309" cy="630.6" r="3.6"/>
<circle cx="307.4" cy="632.8" r="3.2"/>
<circle cx="230.8" cy="641.3" r="2.5"/>
<circle cx="224.1" cy="634.9" r="3.2"/>
<circle cx="236.5" cy="630.4" r="3"/>
<circle cx="233.8" cy="644.5" r="2.9"/>
<circle cx="239.4" cy="643.9" r="2.8"/>
<circle cx="237.9" cy="646.3" r="2.9"/>
<circle cx="237.7" cy="643.7" r="3.1"/>
<circle cx="235.4" cy="637.2" r="3.2"/>
<circle cx="246.2" cy="655.7" r="2.6"/>
<circle cx="254.4" cy="645.7" r="3.4"/>
<circle cx="239.9" cy="654.6" r="3.2"/>
<circle cx="252.2" cy="656.1" r="2.8"/>
<circle cx="244.9" cy="658.3" r="3.2"/>
<circle cx="247.1" cy="660.9" r="3.2"/>
<circle cx="240.8" cy="648.8" r="3.6"/>
<circle cx="249.7" cy="655.6" r="3.4"/>
<circle cx="244.6" cy="656.3" r="2.6"/>
<circle cx="229.4" cy="668.2" r="3.1"/>
<circle cx="224.3" cy="661.6" r="3.5"/>
<circle cx="218.4" cy="663.2" r="2.5"/>
<circle cx="229.7" cy="664.4" r="3.5"/>
<circle cx="224.7" cy="657.2" r="3"/>
<circle cx="223.1" cy="666.8" r="3.5"/>
<circle cx="224.4" cy="658.8" r="2.7"/>
<circle cx="231.9" cy="661.4" r="3.6"/>
<circle cx="245.5" cy="670" r="2.6"/>
<circle cx="233.7" cy="661.2" r="2.8"/>
<circle cx="243.2" cy="671.5" r="2.5"/>
<circle cx="238.5" cy="671.1" r="3.5"/>
<circle cx="245.6" cy="664.1" r="2.6"/>
<circle cx="234.8" cy="663.2" r="2.6"/>
<circle cx="243.5" cy="675.8" r="3.4"/>
<circle cx="242.8" cy="671.6" r="3.6"/>
<circle cx="211.5" cy="665.2" r="2.6"/>
<circle cx="207.6" cy="666.9" r="2.8"/>
<circle cx="209.4" cy="664.9" r="2.6"/>
<circle cx="207.5" cy="672.4" r="3.2"/>
<circle cx="211.1" cy="671" r="2.6"/>
<circle cx="207.4" cy="664.5" r="3.4"/>
<circle cx="199.1" cy="672.8" r="2.5"/>
<circle cx="223.2" cy="675.7" r="3.5"/>
<circle cx="231.5" cy="680.3" r="3"/>
<circle cx="228.9" cy="676.7" r="3.3"/>
<circle cx="233.3" cy="678" r="3.5"/>
<circle cx="234.5" cy="674.3" r="3.6"/>
<circle cx="229.1" cy="666.7" r="2.7"/>
<circle cx="347.8" cy="582.4" r="3.2"/>
<circle cx="344.6" cy="575.7" r="2.8"/>
<circle cx="342.1" cy="578" r="3.5"/>
<circle cx="345.4" cy="573" r="3.5"/>
<circle cx="347.6" cy="570.7" r="2.7"/>
<circle cx="351.3" cy="580.6" r="3"/>
<circle cx="356.2" cy="576.6" r="3.5"/>
<circle cx="357.9" cy="562.7" r="3.5"/>
<circle cx="356.2" cy="570.9" r="3.2"/>
<circle cx="354.7" cy="571.9" r="3.1"/>
<circle cx="356.8" cy="563.2" r="3"/>
<circle cx="241.6" cy="568.7" r="3.1"/>
<circle cx="236.7" cy="569.9" r="2.6"/>
<circle cx="237.9" cy="568.3" r="2.7"/>
<circle cx="225.6" cy="560.2" r="3.1"/>
<circle cx="231.7" cy="574.5" r="3.1"/>
<circle cx="232.2" cy="565" r="2.7"/>
<circle cx="240" cy="557" r="3.2"/>
<circle cx="381.4" cy="695.8" r="3"/>
<circle cx="375.2" cy="697.3" r="2.5"/>
<circle cx="378.4" cy="683.6" r="2.7"/>
<circle cx="370.1" cy="691.9" r="3.2"/>
<circle cx="374" cy="689.4" r="3.2"/>
<circle cx="187.2" cy="688.9" r="3.5"/>
<circle cx="183.3" cy="698" r="2.8"/>
<circle cx="190.3" cy="693" r="2.8"/>
<circle cx="184.1" cy="689" r="3.3"/>
<circle cx="176" cy="699.4" r="3.4"/>
<circle cx="190.4" cy="690.7" r="3.5"/>
<circle cx="344.2" cy="631.5" r="2.9"/>
<circle cx="348.1" cy="639.9" r="3.5"/>
<circle cx="348.2" cy="634.6" r="2.9"/>
<circle cx="351.6" cy="628.8" r="3.1"/>
<circle cx="340.9" cy="631.3" r="3.1"/>
<circle cx="348.2" cy="635.8" r="3"/>
<circle cx="289.7" cy="613.5" r="3.1"/>
<circle cx="281.4" cy="616" r="3.4"/>
<circle cx="285.7" cy="619.3" r="2.7"/>
<circle cx="291.4" cy="618.2" r="2.7"/>
<circle cx="278.2" cy="610.5" r="3"/>
<circle cx="283.1" cy="620.8" r="3.3"/>
<circle cx="284.2" cy="607.9" r="3.6"/>
<circle cx="275.2" cy="612.2" r="2.8"/>
<circle cx="211.1" cy="623.6" r="3.3"/>
<circle cx="236.3" cy="615.6" r="3"/>
<circle cx="215.7" cy="616.3" r="2.6"/>
<circle cx="212" cy="615.3" r="3.2"/>
<circle cx="211.5" cy="617.6" r="3.1"/>
<circle cx="216.4" cy="620.4" r="3.1"/>
<circle cx="206.4" cy="649.8" r="2.7"/>
<circle cx="203.5" cy="645.7" r="3.6"/>
<circle cx="200.4" cy="639.5" r="3.6"/>
<circle cx="191.9" cy="642.5" r="3"/>
<circle cx="196" cy="644.6" r="3.5"/>
<circle cx="193.4" cy="638.5" r="3.1"/>
<circle cx="339.8" cy="477.9" r="4.1"/>
<circle cx="355.1" cy="502.4" r="4"/>
<circle cx="337.8" cy="471.7" r="3.1"/>
<circle cx="357.1" cy="498.6" r="3.3"/>
<circle cx="355.7" cy="504.4" r="3.4"/>
<circle cx="348.8" cy="471.6" r="4.2"/>
<circle cx="349.6" cy="494.4" r="3.7"/>
<circle cx="342.9" cy="473.6" r="4"/>
<circle cx="353.3" cy="468.5" r="3.2"/>
<circle cx="336.1" cy="485" r="3.5"/>
<circle cx="347.4" cy="476.5" r="4.2"/>
<circle cx="371.3" cy="485.5" r="3"/>
<circle cx="361.1" cy="496.7" r="3.9"/>
<circle cx="351.6" cy="484.8" r="2.7"/>
<circle cx="323.7" cy="495.1" r="3.6"/>
<circle cx="324.4" cy="472.1" r="3.7"/>
<circle cx="346.3" cy="498.3" r="2.8"/>
<circle cx="343.5" cy="486.6" r="3.4"/>
<circle cx="360.7" cy="497.8" r="3.7"/>
<circle cx="338.1" cy="466.4" r="3.8"/>
<circle cx="348.5" cy="533" r="3.3"/>
<circle cx="354" cy="488" r="3.6"/>
<circle cx="354.7" cy="482.8" r="3.5"/>
<circle cx="357.8" cy="509.1" r="3.3"/>
<circle cx="319.6" cy="444.2" r="3.6"/>
<circle cx="332.3" cy="483.1" r="3.9"/>
<circle cx="359.7" cy="509.1" r="2.8"/>
<circle cx="343.2" cy="484.9" r="3.5"/>
<circle cx="358.3" cy="473.7" r="3.9"/>
<circle cx="335.8" cy="496.7" r="3.4"/>
<circle cx="366.4" cy="494.6" r="4.1"/>
<circle cx="350.9" cy="501.6" r="3.2"/>
<circle cx="349.5" cy="481.2" r="3.4"/>
<circle cx="367.2" cy="498.8" r="3"/>
<circle cx="357.6" cy="503.2" r="3.3"/>
<circle cx="338.2" cy="500.8" r="3.5"/>
<circle cx="342.3" cy="486.4" r="3.1"/>
<circle cx="334.3" cy="492.2" r="2.8"/>
<circle cx="358" cy="488.2" r="2.8"/>
<circle cx="364.5" cy="453.5" r="3.2"/>
<circle cx="340.4" cy="461.5" r="2.7"/>
<circle cx="358.5" cy="485" r="3.8"/>
<circle cx="357.7" cy="500.4" r="3.9"/>
<circle cx="342.9" cy="483.9" r="2.7"/>
<circle cx="335.1" cy="484.9" r="3.3"/>
<circle cx="333.2" cy="479.5" r="3.3"/>
<circle cx="326.9" cy="484.5" r="4.2"/>
<circle cx="343.9" cy="459.4" r="3.5"/>
<circle cx="367" cy="491.8" r="3"/>
<circle cx="334.3" cy="481.6" r="3.3"/>
<circle cx="352.7" cy="506.8" r="4"/>
<circle cx="351.1" cy="499.7" r="3.3"/>
<circle cx="341.3" cy="457.1" r="3.9"/>
<circle cx="360" cy="476.1" r="3.3"/>
<circle cx="351.9" cy="511.8" r="3.3"/>
<circle cx="339.6" cy="484.8" r="2.6"/>
<circle cx="326.9" cy="497.7" r="2.8"/>
<circle cx="366.4" cy="471.9" r="3"/>
<circle cx="351.4" cy="478.1" r="3.1"/>
<circle cx="332.1" cy="461.4" r="3.9"/>
<circle cx="345.3" cy="484.5" r="3.2"/>
<circle cx="349.4" cy="470.4" r="3.7"/>
<circle cx="351.8" cy="488.3" r="3.5"/>
<circle cx="342" cy="468.6" r="4.1"/>
<circle cx="326.3" cy="477.2" r="2.9"/>
<circle cx="377.6" cy="484.8" r="3.3"/>
<circle cx="343.4" cy="461.5" r="4"/>
<circle cx="355.8" cy="500.1" r="3.3"/>
<circle cx="343.4" cy="480.7" r="3"/>
<circle cx="363.6" cy="481.6" r="3.8"/>
<circle cx="357.2" cy="466.9" r="3.7"/>
<circle cx="354.7" cy="471.9" r="4"/>
<circle cx="362.5" cy="470.8" r="2.9"/>
<circle cx="360.2" cy="493.2" r="3.2"/>
<circle cx="348.5" cy="491.2" r="3.2"/>
<circle cx="347.8" cy="468.5" r="3.7"/>
<circle cx="369.2" cy="470.4" r="3.7"/>
<circle cx="363.9" cy="457.6" r="3.3"/>
<circle cx="361.1" cy="485.8" r="3.1"/>
<circle cx="367.7" cy="477.9" r="2.7"/>
<circle cx="331.2" cy="492.9" r="3.6"/>
<circle cx="342.7" cy="474.9" r="3.6"/>
<circle cx="357.9" cy="476" r="3"/>
<circle cx="326.8" cy="456" r="2.7"/>
<circle cx="341.7" cy="466.4" r="3.7"/>
<circle cx="353.7" cy="484.6" r="2.9"/>
<circle cx="357.6" cy="493" r="2.8"/>
<circle cx="331.4" cy="485.4" r="2.9"/>
<circle cx="347.2" cy="477.1" r="2.8"/>
<circle cx="353.9" cy="510.1" r="3.4"/>
<circle cx="349.2" cy="486.2" r="3.9"/>
<circle cx="350" cy="475.9" r="3.3"/>
<circle cx="363" cy="478.3" r="3.8"/>
<circle cx="347.2" cy="479.5" r="3.1"/>
<circle cx="344.7" cy="465.5" r="3.1"/>
<circle cx="340.9" cy="484.5" r="3.2"/>
<circle cx="353.2" cy="483.6" r="4.1"/>
<circle cx="322.8" cy="481.8" r="3.5"/>
<circle cx="362.3" cy="489.7" r="3.6"/>
<circle cx="340.5" cy="473.7" r="3.6"/>
<circle cx="339.5" cy="488" r="3.4"/>
<circle cx="359.4" cy="506.5" r="2.9"/>
<circle cx="363.9" cy="477.1" r="3.8"/>
<circle cx="359" cy="476.4" r="3.2"/>
<circle cx="362.5" cy="481.5" r="3"/>
<circle cx="341.8" cy="470" r="3.5"/>
<circle cx="360.9" cy="491.5" r="4.1"/>
<circle cx="342.4" cy="491.5" r="3.4"/>
<circle cx="359.6" cy="502.4" r="3.5"/>
<circle cx="336.4" cy="479.7" r="3.7"/>
<circle cx="354.9" cy="493.4" r="3.1"/>
<circle cx="360.4" cy="488.1" r="3.7"/>
<circle cx="350.3" cy="491.7" r="3.8"/>
<circle cx="346.3" cy="486.2" r="3.8"/>
<circle cx="348.2" cy="474.5" r="3.7"/>
<circle cx="347.1" cy="502" r="3"/>
<circle cx="342.5" cy="501.5" r="3.7"/>
<circle cx="364.1" cy="492.8" r="4"/>
<circle cx="358.4" cy="502" r="2.8"/>
<circle cx="350.7" cy="511.9" r="2.8"/>
<circle cx="343.1" cy="472.6" r="3.2"/>
<circle cx="353.4" cy="464.3" r="4.1"/>
<circle cx="362.2" cy="492.5" r="3.7"/>
<circle cx="342.8" cy="495.7" r="3.9"/>
<circle cx="349.8" cy="490.2" r="3.6"/>
<circle cx="357" cy="482" r="3.8"/>
<circle cx="359.2" cy="498.4" r="3.4"/>
<circle cx="352.2" cy="497.2" r="3.8"/>
<circle cx="350.8" cy="471.7" r="2.9"/>
<circle cx="345.3" cy="491.8" r="4"/>
<circle cx="357.5" cy="486.3" r="2.9"/>
<circle cx="340.1" cy="482.6" r="3.6"/>
<circle cx="341" cy="486.5" r="3.2"/>
<circle cx="357.5" cy="495.4" r="3.3"/>
<circle cx="345.1" cy="482.2" r="3.7"/>
<circle cx="347.6" cy="481.7" r="3.6"/>
<circle cx="348.5" cy="476.1" r="4.1"/>
<circle cx="348.5" cy="478.9" r="3.2"/>
<circle cx="354.4" cy="491.2" r="2.9"/>
<circle cx="343.8" cy="505.9" r="3.9"/>
<circle cx="349.4" cy="496.1" r="2.9"/>
<circle cx="351.8" cy="480.9" r="2.8"/>
<circle cx="345.7" cy="502.1" r="3.4"/>
<circle cx="358.4" cy="490.8" r="3.7"/>
<circle cx="353.6" cy="481.9" r="3.7"/>
<circle cx="354.9" cy="479.6" r="2.9"/>
<circle cx="338.3" cy="491.5" r="3.7"/>
<circle cx="354.3" cy="512.1" r="2.9"/>
<circle cx="353.3" cy="490.2" r="4.1"/>
<circle cx="349.9" cy="484.2" r="3.4"/>
<circle cx="356.4" cy="479.6" r="3.1"/>
<circle cx="341.6" cy="490.4" r="3.1"/>
<circle cx="351.1" cy="503" r="2.9"/>
<circle cx="346.8" cy="491.2" r="3.2"/>
<circle cx="346.9" cy="474.9" r="3.9"/>
<circle cx="341.6" cy="481.3" r="3.5"/>
<circle cx="338.1" cy="483.4" r="2.9"/>
<circle cx="326.7" cy="451.1" r="3.7"/>
<circle cx="337.4" cy="478.4" r="3.4"/>
<circle cx="324.3" cy="461" r="2.9"/>
<circle cx="356.7" cy="452.3" r="2.8"/>
<circle cx="334.1" cy="469.2" r="3.1"/>
<circle cx="333.4" cy="473.5" r="2.9"/>
<circle cx="322" cy="473.7" r="2.9"/>
<circle cx="345.6" cy="462.3" r="3.7"/>
<circle cx="335.4" cy="452.7" r="3.1"/>
<circle cx="330.6" cy="475" r="3.2"/>
<circle cx="333.2" cy="462.5" r="3.3"/>
<circle cx="313.6" cy="457.3" r="3.6"/>
<circle cx="333.9" cy="454.7" r="3.9"/>
<circle cx="326.9" cy="459.3" r="3.3"/>
<circle cx="332.6" cy="476.2" r="3.3"/>
<circle cx="331.2" cy="456.1" r="2.6"/>
<circle cx="326.2" cy="463.2" r="3.6"/>
<circle cx="322.7" cy="460.8" r="3.5"/>
<circle cx="298.9" cy="468.7" r="3.8"/>
<circle cx="342.2" cy="511.6" r="2.9"/>
<circle cx="342.4" cy="504.1" r="3.2"/>
<circle cx="357.8" cy="524.9" r="2.9"/>
<circle cx="336.2" cy="498" r="3"/>
<circle cx="343" cy="476.2" r="2.7"/>
<circle cx="334.4" cy="478" r="3.5"/>
<circle cx="341" cy="512.4" r="2.9"/>
<circle cx="333.5" cy="514.1" r="2.7"/>
<circle cx="338" cy="502.3" r="3.2"/>
<circle cx="328.1" cy="519.4" r="3.6"/>
<circle cx="348" cy="493.2" r="3.5"/>
<circle cx="312.3" cy="509.5" r="2.7"/>
<circle cx="320.3" cy="485.2" r="2.8"/>
<circle cx="318.9" cy="513.3" r="3.3"/>
<circle cx="342.3" cy="510.6" r="3.3"/>
<circle cx="339.7" cy="510.8" r="3"/>
<circle cx="349.6" cy="503.1" r="3.7"/>
<circle cx="328.9" cy="500.4" r="3.6"/>
<circle cx="319.3" cy="490.5" r="3.7"/>
<circle cx="332.1" cy="509.9" r="3.3"/>
<circle cx="333" cy="497.3" r="2.6"/>
<circle cx="341.5" cy="514.8" r="3.2"/>
<circle cx="338.2" cy="489.1" r="2.7"/>
<circle cx="344.5" cy="518.7" r="2.7"/>
<circle cx="324.1" cy="512.6" r="3.4"/>
<circle cx="331.3" cy="517.6" r="2.9"/>
<circle cx="331.4" cy="514.1" r="2.8"/>
<circle cx="359.9" cy="463.6" r="3.3"/>
<circle cx="351.3" cy="467.4" r="2.8"/>
<circle cx="362.6" cy="473.9" r="2.6"/>
<circle cx="353.6" cy="474" r="3"/>
<circle cx="356.4" cy="475.5" r="2.5"/>
<circle cx="350.3" cy="456.5" r="2.4"/>
<circle cx="352.8" cy="477.7" r="3.4"/>
<circle cx="356.8" cy="469" r="2.2"/>
<circle cx="355.3" cy="470.3" r="2.7"/>
<circle cx="359.4" cy="466.6" r="2.6"/>
<circle cx="356.5" cy="492.6" r="3.2"/>
<circle cx="356.3" cy="472.2" r="3"/>
<circle cx="372.3" cy="451" r="3.3"/>
<circle cx="365.6" cy="469.1" r="2.3"/>
<circle cx="368.1" cy="466.8" r="3.2"/>
<circle cx="372.3" cy="472.4" r="2.6"/>
<circle cx="310.8" cy="527.2" r="2.9"/>
<circle cx="327.1" cy="521.4" r="3.4"/>
<circle cx="316.9" cy="537.1" r="2.3"/>
<circle cx="348.3" cy="530.4" r="3.3"/>
<circle cx="329.2" cy="533" r="3.3"/>
<circle cx="330.7" cy="535.9" r="3"/>
<circle cx="312.9" cy="538.9" r="3.2"/>
<circle cx="329.7" cy="529.6" r="3.3"/>
<circle cx="332.8" cy="523.6" r="2.4"/>
<circle cx="325.9" cy="526.5" r="3.4"/>
<circle cx="311.1" cy="543.9" r="3.2"/>
<circle cx="315.4" cy="535.6" r="3.3"/>
<circle cx="413.4" cy="654.9" r="3.2"/>
<circle cx="384.7" cy="676.5" r="2.4"/>
<circle cx="407.2" cy="758.2" r="3.4"/>
<circle cx="339.9" cy="708.5" r="3.5"/>
<circle cx="311.2" cy="749.8" r="3.4"/>
<circle cx="355.5" cy="783.2" r="3.3"/>
<circle cx="406.1" cy="673.2" r="3"/>
<circle cx="335.1" cy="717.3" r="3.5"/>
<circle cx="419" cy="777" r="3.6"/>
<circle cx="417.1" cy="751.4" r="3.4"/>
<circle cx="310.9" cy="704.1" r="3.1"/>
<circle cx="312.6" cy="775.7" r="2.9"/>
<circle cx="329.2" cy="656.9" r="3.2"/>
<circle cx="340.4" cy="782.5" r="3.3"/>
<circle cx="351.6" cy="667.8" r="2.5"/>
<circle cx="382.6" cy="733.7" r="3.1"/>
<circle cx="360.7" cy="704.5" r="3.7"/>
<circle cx="306.7" cy="678.5" r="3.5"/>
<circle cx="337.8" cy="693.1" r="3"/>
<circle cx="335.5" cy="755.1" r="2.5"/>
<circle cx="366.7" cy="748.6" r="2.9"/>
<circle cx="387.5" cy="696.5" r="3.3"/>
<circle cx="312.3" cy="691" r="3.2"/>
<circle cx="373.4" cy="712.3" r="2.5"/>
<circle cx="364.7" cy="770.5" r="2.8"/>
<circle cx="325" cy="735" r="2.7"/>
<circle cx="312.2" cy="655.8" r="3.3"/>
<circle cx="405.8" cy="756.9" r="3.2"/>
<circle cx="405" cy="768" r="2.8"/>
<circle cx="345.7" cy="786.2" r="3.7"/>
<circle cx="376.9" cy="736.3" r="2.9"/>
<circle cx="310.9" cy="692.8" r="2.7"/>
<circle cx="375.8" cy="740" r="3.3"/>
<circle cx="409.3" cy="645.1" r="2.7"/>
<circle cx="312" cy="698.6" r="3.7"/>
<circle cx="356.1" cy="760.9" r="2.7"/>
<circle cx="342.5" cy="760.8" r="2.8"/>
<circle cx="387.6" cy="731.9" r="3.3"/>
<circle cx="303.5" cy="697.2" r="3.8"/>
<circle cx="345" cy="685.4" r="3.8"/>
<circle cx="370.8" cy="746" r="3.1"/>
<circle cx="374.8" cy="701.5" r="2.8"/>
<circle cx="334.9" cy="678" r="3.4"/>
<circle cx="310.5" cy="662" r="3.1"/>
<circle cx="418.8" cy="758.3" r="3.3"/>
<circle cx="359.8" cy="683.9" r="2.9"/>
<circle cx="364.7" cy="702" r="2.4"/>
<circle cx="370.9" cy="729.8" r="2.5"/>
<circle cx="427.4" cy="721.6" r="3.6"/>
<circle cx="385.5" cy="707.5" r="3.4"/>
<circle cx="402.7" cy="718.8" r="3.6"/>
<circle cx="369.2" cy="677" r="3.2"/>
<circle cx="389" cy="638.4" r="3.3"/>
<circle cx="350" cy="679.1" r="3"/>
<circle cx="364.7" cy="699.8" r="2.8"/>
<circle cx="348.9" cy="676.3" r="3.5"/>
<circle cx="396.3" cy="734.5" r="3.4"/>
<circle cx="383" cy="679.3" r="3.4"/>
<circle cx="373.9" cy="722.7" r="2.5"/>
<circle cx="358.4" cy="661.8" r="3.5"/>
<circle cx="379.4" cy="726.5" r="3.3"/>
<circle cx="407" cy="674.9" r="2.9"/>
<circle cx="364.2" cy="667.7" r="3.2"/>
<circle cx="368.3" cy="684.5" r="2.2"/>
<circle cx="366.7" cy="682.7" r="3.4"/>
<circle cx="382.6" cy="708.8" r="3.1"/>
<circle cx="418.1" cy="731.8" r="2.5"/>
<circle cx="376.7" cy="690.6" r="3.2"/>
<circle cx="380.1" cy="676.4" r="2.8"/>
<circle cx="371.1" cy="695.3" r="3.2"/>
<circle cx="375.8" cy="735.6" r="2.8"/>
<circle cx="368" cy="669.2" r="3.3"/>
<circle cx="385.8" cy="710.8" r="3.3"/>
<circle cx="390.3" cy="692.7" r="2.7"/>
<circle cx="432.5" cy="784.8" r="3.5"/>
<circle cx="427.4" cy="776.9" r="2.6"/>
<circle cx="409.3" cy="794.6" r="3.2"/>
<circle cx="409.2" cy="796.3" r="3.6"/>
<circle cx="428" cy="794.6" r="2.9"/>
<circle cx="400" cy="802" r="3.8"/>
<circle cx="407" cy="800.9" r="3.2"/>
<circle cx="402.2" cy="789.9" r="3.4"/>
<circle cx="434.1" cy="800.5" r="3.1"/>
<circle cx="426.7" cy="784" r="3"/>
<circle cx="443" cy="787.5" r="3.1"/>
<circle cx="431.4" cy="772.6" r="3.2"/>
<circle cx="420.4" cy="792.7" r="3"/>
<circle cx="381.1" cy="793.2" r="3.2"/>
<circle cx="435.4" cy="802.2" r="3.2"/>
<circle cx="408.6" cy="790.4" r="3.4"/>
<circle cx="442.9" cy="793.2" r="2.8"/>
<circle cx="398.7" cy="793.5" r="3.8"/>
<circle cx="410.9" cy="782.8" r="2.6"/>
<circle cx="430.1" cy="798.3" r="3.3"/>
<circle cx="438.1" cy="781.4" r="3.8"/>
<circle cx="411.2" cy="791.8" r="3.2"/>
<circle cx="393.1" cy="778.5" r="3.1"/>
<circle cx="425" cy="778.6" r="2.8"/>
<circle cx="426" cy="793.5" r="3.2"/>
<circle cx="443" cy="776.9" r="3.3"/>
<circle cx="422.6" cy="795.2" r="3.1"/>
<circle cx="382.4" cy="781.5" r="3.5"/>
<circle cx="411" cy="784.9" r="3.7"/>
<circle cx="440" cy="807.5" r="3.4"/>
<circle cx="424.5" cy="780.6" r="3.4"/>
<circle cx="400.5" cy="775.1" r="3.7"/>
<circle cx="405.8" cy="799.3" r="3.4"/>
<circle cx="412.1" cy="789.6" r="3.3"/>
<circle cx="421.4" cy="796.5" r="2.9"/>
<circle cx="440" cy="780.2" r="3.3"/>
<circle cx="411.9" cy="796" r="3.3"/>
<circle cx="425.7" cy="769.7" r="3.6"/>
<circle cx="434.8" cy="786.8" r="2.7"/>
<circle cx="419.3" cy="794.6" r="3.3"/>
<circle cx="406.4" cy="787.5" r="3.3"/>
<circle cx="420.4" cy="776.2" r="3.6"/>
<circle cx="420" cy="786.6" r="2.6"/>
<circle cx="420.1" cy="784" r="3.7"/>
<circle cx="407" cy="790.6" r="3.8"/>
<circle cx="424.8" cy="802.8" r="3"/>
<circle cx="449.2" cy="804.8" r="3.1"/>
<circle cx="443" cy="794.4" r="2.9"/>
<circle cx="396.6" cy="796.4" r="2.5"/>
<circle cx="432.2" cy="770.9" r="2.6"/>
<circle cx="400.7" cy="785" r="3.1"/>
<circle cx="395" cy="774.5" r="2.8"/>
<circle cx="394.2" cy="763.5" r="3.6"/>
<circle cx="424.9" cy="804.6" r="2.7"/>
<circle cx="398.9" cy="779.2" r="2.8"/>
<circle cx="407.7" cy="788.7" r="3.4"/>
<circle cx="406.3" cy="775.1" r="3.3"/>
<circle cx="441" cy="745.7" r="2.7"/>
<circle cx="406.3" cy="760.3" r="3.9"/>
<circle cx="419.6" cy="768.2" r="3.1"/>
<circle cx="426" cy="758" r="3.8"/>
<circle cx="390.8" cy="783.4" r="3.3"/>
<circle cx="443" cy="756.1" r="3.8"/>
<circle cx="415.8" cy="768.1" r="3.2"/>
<circle cx="397.3" cy="771.5" r="3.3"/>
<circle cx="416.2" cy="784.4" r="3.1"/>
<circle cx="419.8" cy="732.4" r="2.9"/>
<circle cx="412.9" cy="771.8" r="3.5"/>
<circle cx="395.1" cy="761.6" r="3.1"/>
<circle cx="413.7" cy="774.4" r="2.7"/>
<circle cx="413.1" cy="792.5" r="2.9"/>
<circle cx="416.6" cy="801.5" r="3.1"/>
<circle cx="415.5" cy="795.7" r="3.4"/>
<circle cx="410.6" cy="794.1" r="2.7"/>
<circle cx="415.1" cy="798.8" r="2.8"/>
<circle cx="413.6" cy="805.9" r="3.1"/>
<circle cx="410" cy="791.1" r="2.6"/>
<circle cx="402.4" cy="794.1" r="3.1"/>
<circle cx="413.8" cy="794.5" r="3.4"/>
<circle cx="408.1" cy="798.8" r="2.8"/>
<circle cx="412.3" cy="797.8" r="3"/>
<circle cx="416.6" cy="796.3" r="3.4"/>
<circle cx="431.8" cy="767" r="3.5"/>
<circle cx="434.1" cy="772.7" r="2.3"/>
<circle cx="451.6" cy="772.5" r="2.3"/>
<circle cx="437.4" cy="777.3" r="3"/>
<circle cx="438.9" cy="761.6" r="3.5"/>
<circle cx="455.5" cy="777.2" r="3.2"/>
<circle cx="435.3" cy="762.6" r="2.9"/>
<circle cx="428.8" cy="766.4" r="3.4"/>
<circle cx="430.6" cy="764.5" r="3.4"/>
<circle cx="452" cy="752.9" r="2.8"/>
<circle cx="450.3" cy="767.5" r="2.9"/>
<circle cx="470.6" cy="617.7" r="3.8"/>
<circle cx="427.7" cy="596.7" r="2.5"/>
<circle cx="485.1" cy="663.6" r="4"/>
<circle cx="516.4" cy="653.3" r="2.7"/>
<circle cx="435.2" cy="678.3" r="2.7"/>
<circle cx="504.7" cy="659.5" r="2.8"/>
<circle cx="421.2" cy="649.8" r="3.8"/>
<circle cx="398.7" cy="619.4" r="2.9"/>
<circle cx="502.3" cy="620.4" r="2.5"/>
<circle cx="444.4" cy="541.6" r="4.3"/>
<circle cx="505.9" cy="647.7" r="2.5"/>
<circle cx="512.3" cy="579.6" r="3.8"/>
<circle cx="490.4" cy="623.8" r="2.7"/>
<circle cx="425.7" cy="649.6" r="2.7"/>
<circle cx="442" cy="679.8" r="3.3"/>
<circle cx="414.1" cy="637.5" r="3.2"/>
<circle cx="493.7" cy="594.8" r="4.2"/>
<circle cx="498.2" cy="566.7" r="3.6"/>
<circle cx="450.7" cy="558.4" r="4.3"/>
<circle cx="437.7" cy="631.7" r="2.6"/>
<circle cx="513.8" cy="687.1" r="3.9"/>
<circle cx="411.3" cy="639.4" r="3.4"/>
<circle cx="454.2" cy="572.8" r="2.8"/>
<circle cx="500.6" cy="630.6" r="4"/>
<circle cx="487.4" cy="600.2" r="3.6"/>
<circle cx="432.9" cy="638.2" r="3.4"/>
<circle cx="493" cy="583.8" r="3.3"/>
<circle cx="405.3" cy="545.9" r="2.9"/>
<circle cx="397.1" cy="603.6" r="3.3"/>
<circle cx="505.3" cy="546.4" r="4.5"/>
<circle cx="406.9" cy="664.5" r="3.2"/>
<circle cx="425.7" cy="631.6" r="3.2"/>
<circle cx="397" cy="559.6" r="3.9"/>
<circle cx="485" cy="689" r="3"/>
<circle cx="458.5" cy="599" r="2.9"/>
<circle cx="453.6" cy="639.2" r="2.6"/>
<circle cx="470.3" cy="592.5" r="3.3"/>
<circle cx="465.4" cy="629.6" r="3.1"/>
<circle cx="469.9" cy="603" r="3.4"/>
<circle cx="452.5" cy="601.9" r="3.2"/>
<circle cx="439.2" cy="604" r="2.8"/>
<circle cx="451.1" cy="603" r="3.3"/>
<circle cx="482.1" cy="605.1" r="3.3"/>
<circle cx="448" cy="632.7" r="2.2"/>
<circle cx="465.1" cy="620.9" r="3.2"/>
<circle cx="468.3" cy="614.3" r="2.8"/>
<circle cx="482.5" cy="589.6" r="3.2"/>
<circle cx="468.2" cy="599.7" r="2.4"/>
<circle cx="479.9" cy="595.6" r="2.8"/>
<circle cx="455" cy="609.4" r="2.3"/>
<circle cx="449.9" cy="617" r="3"/>
<circle cx="463.8" cy="633.9" r="2.6"/>
<circle cx="494.7" cy="614.5" r="3.4"/>
<circle cx="466.9" cy="620.3" r="3.4"/>
<circle cx="481.4" cy="581.8" r="3.2"/>
<circle cx="469.6" cy="599.8" r="3.2"/>
<circle cx="484" cy="594.7" r="2.6"/>
<circle cx="483.5" cy="612.3" r="2.8"/>
<circle cx="466.9" cy="616.5" r="3.3"/>
<circle cx="458.1" cy="612.8" r="2.6"/>
<circle cx="443.7" cy="638.7" r="3.2"/>
<circle cx="473.2" cy="599" r="2.5"/>
<circle cx="453.8" cy="592.2" r="2.9"/>
<circle cx="469.2" cy="639.6" r="3.2"/>
<circle cx="424" cy="527.7" r="3.4"/>
<circle cx="465.1" cy="456.5" r="4.4"/>
<circle cx="401.8" cy="467.4" r="3.6"/>
<circle cx="425" cy="516.5" r="4.2"/>
<circle cx="388.2" cy="495.9" r="3.6"/>
<circle cx="410.4" cy="407.4" r="4.3"/>
<circle cx="468.9" cy="498.6" r="3.6"/>
<circle cx="378.3" cy="438.2" r="3.2"/>
<circle cx="378.7" cy="446.3" r="3.2"/>
<circle cx="411.3" cy="400.3" r="2.8"/>
<circle cx="465.1" cy="473.2" r="3"/>
<circle cx="414.9" cy="444.5" r="3.5"/>
<circle cx="387.7" cy="501.7" r="4.4"/>
<circle cx="432.8" cy="533.9" r="4.1"/>
<circle cx="423.7" cy="468.3" r="3.9"/>
<circle cx="406.7" cy="401.4" r="3.4"/>
<circle cx="451.7" cy="491.2" r="2.6"/>
<circle cx="452.6" cy="397" r="3.5"/>
<circle cx="387.7" cy="435" r="3"/>
<circle cx="431.5" cy="496.6" r="4.3"/>
<circle cx="420.6" cy="399" r="2.6"/>
<circle cx="378.5" cy="409.2" r="2.9"/>
<circle cx="808.9" cy="344.6" r="3.6"/>
<circle cx="762.8" cy="366.7" r="2.6"/>
<circle cx="838.6" cy="315.8" r="3.7"/>
<circle cx="813" cy="366.9" r="3.1"/>
<circle cx="760.2" cy="323.6" r="3.6"/>
<circle cx="844.9" cy="288.2" r="3.3"/>
<circle cx="820.3" cy="339.1" r="3.6"/>
<circle cx="851.2" cy="304.5" r="2.5"/>
<circle cx="815.4" cy="313" r="3.5"/>
<circle cx="797.9" cy="305" r="3.1"/>
<circle cx="791.4" cy="318.3" r="3.3"/>
<circle cx="832.4" cy="365.9" r="2.5"/>
<circle cx="844.1" cy="330.2" r="2.6"/>
<circle cx="831.1" cy="307.2" r="3.1"/>
<circle cx="811" cy="340.7" r="3.2"/>
<circle cx="818.9" cy="336.1" r="3.4"/>
<circle cx="811.6" cy="352" r="2.7"/>
<circle cx="789" cy="334.1" r="2.5"/>
<circle cx="819.4" cy="366" r="2.6"/>
<circle cx="864.3" cy="315.1" r="3.1"/>
<circle cx="798.7" cy="369.7" r="2.6"/>
<circle cx="837.6" cy="308.4" r="3.2"/>
<circle cx="836.3" cy="304.8" r="2.5"/>
<circle cx="848" cy="308.3" r="3.6"/>
<circle cx="815.2" cy="324.5" r="3.5"/>
<circle cx="831.6" cy="383.7" r="3.5"/>
<circle cx="806.6" cy="325.4" r="2.8"/>
<circle cx="829.6" cy="348.9" r="2.4"/>
<circle cx="836.7" cy="354.4" r="2.8"/>
<circle cx="770" cy="340.7" r="3.4"/>
<circle cx="792.4" cy="344.8" r="3.5"/>
<circle cx="738.9" cy="397.7" r="3"/>
<circle cx="829.8" cy="338.3" r="3.2"/>
<circle cx="824.4" cy="370.5" r="3.6"/>
<circle cx="761.3" cy="342.1" r="2.7"/>
<circle cx="834.8" cy="344.4" r="3.3"/>
<circle cx="812.2" cy="344.1" r="2.9"/>
<circle cx="820.6" cy="355.8" r="3.3"/>
<circle cx="833.6" cy="341.8" r="3.1"/>
<circle cx="770.7" cy="319.5" r="3.7"/>
<circle cx="792.5" cy="328.9" r="3.1"/>
<circle cx="809" cy="339.6" r="3.3"/>
<circle cx="812.7" cy="347.3" r="3.8"/>
<circle cx="788" cy="319.4" r="3.7"/>
<circle cx="791.8" cy="338.3" r="3"/>
<circle cx="841.5" cy="358.1" r="2.5"/>
<circle cx="800.4" cy="403" r="2.5"/>
<circle cx="796.2" cy="334.2" r="3.1"/>
<circle cx="807.1" cy="353.9" r="3.8"/>
<circle cx="810.6" cy="353.1" r="2.8"/>
<circle cx="809.7" cy="371.2" r="2.8"/>
<circle cx="856.1" cy="307.6" r="2.7"/>
<circle cx="812.8" cy="256.2" r="3.1"/>
<circle cx="806.2" cy="283" r="2.3"/>
<circle cx="805.6" cy="298.5" r="2.6"/>
<circle cx="818" cy="340.3" r="3.3"/>
<circle cx="800.7" cy="326.9" r="2.3"/>
<circle cx="738.8" cy="307.3" r="2.5"/>
<circle cx="798.8" cy="327.4" r="3.7"/>
<circle cx="791" cy="379.7" r="3.1"/>
<circle cx="846.6" cy="316.6" r="2.5"/>
<circle cx="789.4" cy="295.5" r="3.3"/>
<circle cx="804.1" cy="286.4" r="2.8"/>
<circle cx="814.5" cy="323.3" r="2.4"/>
<circle cx="832.6" cy="309" r="2.6"/>
<circle cx="791.4" cy="321.5" r="3"/>
<circle cx="810.7" cy="377" r="2.6"/>
<circle cx="753.4" cy="316" r="2.6"/>
<circle cx="760.7" cy="306.3" r="2.9"/>
<circle cx="753" cy="309.9" r="2.7"/>
<circle cx="766.2" cy="335.9" r="3"/>
<circle cx="759.3" cy="342.3" r="2.9"/>
<circle cx="731.3" cy="316.8" r="2.8"/>
<circle cx="757.9" cy="331.9" r="3.5"/>
<circle cx="763.3" cy="312.4" r="2.8"/>
<circle cx="735.6" cy="307.8" r="3.2"/>
<circle cx="757.7" cy="324.5" r="3.9"/>
<circle cx="736.1" cy="340.5" r="3.6"/>
<circle cx="735.8" cy="304.9" r="3.1"/>
<circle cx="743.1" cy="316.8" r="3.1"/>
<circle cx="758.2" cy="342.6" r="3"/>
<circle cx="768.2" cy="334.6" r="2.7"/>
<circle cx="756.1" cy="321.6" r="2.6"/>
<circle cx="759.3" cy="356.8" r="3.7"/>
<circle cx="764.8" cy="330.7" r="3.2"/>
<circle cx="747.4" cy="369" r="2.8"/>
<circle cx="721.9" cy="387.9" r="2.9"/>
<circle cx="738.8" cy="392.5" r="3.9"/>
<circle cx="734.3" cy="389.8" r="2.7"/>
<circle cx="722.8" cy="389.1" r="2.8"/>
<circle cx="756" cy="386.4" r="2.6"/>
<circle cx="721.8" cy="386" r="4.3"/>
<circle cx="733.7" cy="381.5" r="3.2"/>
<circle cx="820.5" cy="322.2" r="2.4"/>
<circle cx="839.4" cy="322.3" r="3.1"/>
<circle cx="827.3" cy="313.4" r="3.1"/>
<circle cx="829.8" cy="351.8" r="2.6"/>
<circle cx="845" cy="323.8" r="3.5"/>
<circle cx="832.9" cy="299.3" r="2.6"/>
<circle cx="823" cy="319.1" r="2.9"/>
<circle cx="829.7" cy="325.8" r="2.9"/>
<circle cx="859.1" cy="300.6" r="3.5"/>
<circle cx="827.4" cy="353.5" r="2.4"/>
<circle cx="858.7" cy="332.5" r="3.2"/>
<circle cx="845.5" cy="351.5" r="3.2"/>
<circle cx="811.2" cy="331.3" r="2.9"/>
<circle cx="846.9" cy="312.2" r="3"/>
<circle cx="857.4" cy="299.5" r="2.8"/>
<circle cx="826.5" cy="344.3" r="3.1"/>
<circle cx="814.3" cy="316.4" r="2.2"/>
<circle cx="827.1" cy="292.7" r="3.3"/>
<circle cx="838" cy="331" r="2.5"/>
<circle cx="845.2" cy="309.6" r="3.5"/>
<circle cx="838.3" cy="321.2" r="3.6"/>
<circle cx="840" cy="284.8" r="2.6"/>
<circle cx="856.7" cy="289" r="2.8"/>
<circle cx="830" cy="304.3" r="2.5"/>
<circle cx="846.4" cy="303.3" r="3"/>
<circle cx="841.2" cy="330.6" r="2.6"/>
<circle cx="857.4" cy="292.9" r="2.5"/>
<circle cx="854.1" cy="304.1" r="3"/>
<circle cx="851.9" cy="345" r="2.9"/>
<circle cx="840.8" cy="265.8" r="3.5"/>
<circle cx="862.5" cy="326.6" r="2.2"/>
<circle cx="849.8" cy="313.2" r="2.4"/>
<circle cx="856.7" cy="259.4" r="2.9"/>
<circle cx="849.8" cy="266.6" r="2.3"/>
<circle cx="853.3" cy="327" r="3.6"/>
<circle cx="840.7" cy="318" r="3.5"/>
<circle cx="859.8" cy="279.7" r="3.5"/>
<circle cx="848.7" cy="295.6" r="2.5"/>
<circle cx="758.2" cy="339.5" r="4"/>
<circle cx="757.7" cy="319.9" r="3"/>
<circle cx="762.4" cy="331.4" r="3.2"/>
<circle cx="766.9" cy="339.2" r="2.7"/>
<circle cx="755.9" cy="329" r="3.4"/>
<circle cx="750" cy="340.5" r="3.2"/>
<circle cx="765.6" cy="316.2" r="2.8"/>
<circle cx="782.2" cy="327.9" r="2.7"/>
<circle cx="778.8" cy="330.2" r="3.8"/>
<circle cx="765.8" cy="325" r="3.3"/>
<circle cx="775.7" cy="334.8" r="3.9"/>
<circle cx="762.4" cy="315.7" r="3.8"/>
<circle cx="753" cy="334.3" r="3.6"/>
<circle cx="770.2" cy="317" r="2.9"/>
<circle cx="767" cy="332.6" r="3.3"/>
<circle cx="747.4" cy="332.5" r="3.2"/>
<circle cx="756.7" cy="338" r="3"/>
<circle cx="759.5" cy="327.8" r="2.8"/>
<circle cx="760.2" cy="305.2" r="2.9"/>
<circle cx="776.9" cy="327.7" r="3.7"/>
<circle cx="790.2" cy="330.4" r="3.5"/>
<circle cx="755.6" cy="331.2" r="3.7"/>
<circle cx="782" cy="339.7" r="3.1"/>
<circle cx="762.4" cy="325.5" r="3.4"/>
<circle cx="782" cy="345.5" r="3.6"/>
<circle cx="775.6" cy="322.4" r="3.8"/>
<circle cx="768.2" cy="336.9" r="2.8"/>
<circle cx="776.3" cy="326.2" r="3.5"/>
<circle cx="753.3" cy="328.7" r="3"/>
<circle cx="768.7" cy="334.1" r="3.8"/>
<circle cx="767.9" cy="340.5" r="2.9"/>
<circle cx="801.4" cy="375.3" r="2.5"/>
<circle cx="797.3" cy="384.9" r="2.8"/>
<circle cx="797.8" cy="375.8" r="3"/>
<circle cx="780.2" cy="383" r="4"/>
<circle cx="754.3" cy="373" r="2.9"/>
<circle cx="770.6" cy="372" r="2.4"/>
<circle cx="765" cy="379.5" r="3.7"/>
<circle cx="756.4" cy="360.2" r="3.7"/>
<circle cx="749.3" cy="363.9" r="3.4"/>
<circle cx="786.1" cy="357.2" r="2.5"/>
<circle cx="731.3" cy="371.7" r="3.2"/>
<circle cx="807.8" cy="352.4" r="3.8"/>
<circle cx="748.3" cy="381.6" r="4"/>
<circle cx="768.2" cy="354.8" r="3.4"/>
<circle cx="810.5" cy="294" r="3.6"/>
<circle cx="813.3" cy="292.9" r="3.3"/>
<circle cx="810.3" cy="290.3" r="3.1"/>
<circle cx="802" cy="270.2" r="3"/>
<circle cx="817.7" cy="261.7" r="2.4"/>
<circle cx="839.2" cy="281.6" r="3.3"/>
<circle cx="823.2" cy="305.4" r="3.4"/>
<circle cx="827.6" cy="273.5" r="3.5"/>
<circle cx="661.6" cy="350.4" r="3.4"/>
<circle cx="647.8" cy="368" r="3.4"/>
<circle cx="645.1" cy="357.9" r="3.6"/>
<circle cx="653.2" cy="354.7" r="2.6"/>
<circle cx="655.8" cy="333.9" r="3.3"/>
<circle cx="647.1" cy="336.4" r="2.9"/>
<circle cx="644.1" cy="339.5" r="3.5"/>
<circle cx="653.8" cy="337.4" r="3.4"/>
<circle cx="678.1" cy="336.2" r="2.5"/>
<circle cx="669.9" cy="352.3" r="3"/>
<circle cx="651.5" cy="364.1" r="2.5"/>
<circle cx="678" cy="341.1" r="3.5"/>
<circle cx="662.2" cy="345.5" r="3.1"/>
<circle cx="658.2" cy="341.6" r="3.2"/>
<circle cx="657.1" cy="338.1" r="3"/>
<circle cx="673" cy="342.3" r="3.3"/>
<circle cx="649.8" cy="329.7" r="3"/>
<circle cx="648.7" cy="350.3" r="3.3"/>
<circle cx="677.3" cy="339.3" r="3.4"/>
<circle cx="646.5" cy="344.6" r="3.3"/>
<circle cx="657.4" cy="347.2" r="3.4"/>
<circle cx="634.3" cy="386.5" r="2.7"/>
<circle cx="632" cy="363.4" r="3.5"/>
<circle cx="631.2" cy="375.4" r="3.6"/>
<circle cx="658.3" cy="362" r="2.2"/>
<circle cx="647.2" cy="382.6" r="3.1"/>
<circle cx="629.2" cy="367.7" r="2.7"/>
<circle cx="636.3" cy="378.5" r="2.6"/>
<circle cx="633.5" cy="365.5" r="3.3"/>
<circle cx="223.2" cy="449.5" r="11.3"/>
<circle cx="265" cy="413.4" r="9"/>
<circle cx="228.7" cy="460.3" r="4"/>
<circle cx="483.4" cy="436.8" r="5"/>
<circle cx="463.2" cy="389.5" r="3"/>
<circle cx="501.8" cy="484.7" r="2.5"/>
<circle cx="550" cy="481.5" r="4"/>
<circle cx="582.8" cy="465.7" r="3"/>
<circle cx="648.6" cy="417.1" r="7"/>
<circle cx="616.2" cy="438.1" r="3"/>
<circle cx="455.8" cy="503.9" r="3.5"/>
<circle cx="476.3" cy="507.3" r="3"/>
<circle cx="563.1" cy="519.6" r="5"/>
<circle cx="619.6" cy="548.6" r="5"/>
<circle cx="514.4" cy="556.5" r="5.5"/>
<circle cx="516.5" cy="569.1" r="3"/>
<circle cx="503.9" cy="574.9" r="3"/>
<circle cx="547.3" cy="602" r="4.5"/>
<circle cx="624.6" cy="597.2" r="4.5"/>
<circle cx="459.2" cy="691.4" r="3"/>
<circle cx="695.9" cy="458.6" r="5"/>
<circle cx="703" cy="456.5" r="3"/>
<circle cx="742" cy="433.6" r="3.5"/>
<circle cx="709.9" cy="396.8" r="4.5"/>
<circle cx="661.7" cy="399.2" r="4.5"/>
<circle cx="732.7" cy="376.3" r="6"/>
<circle cx="663.7" cy="307.9" r="5"/>
<circle cx="677.3" cy="303.1" r="4"/>
<circle cx="687.9" cy="345.7" r="5"/>
<circle cx="660.7" cy="368.2" r="5"/>
<circle cx="586.7" cy="399" r="4"/>
<circle cx="643" cy="384.8" r="4"/>
<circle cx="671.4" cy="320.9" r="3.5"/>
<circle cx="683.2" cy="317.9" r="4"/>
<circle cx="722.7" cy="174.2" r="4"/>
<circle cx="823.3" cy="135.8" r="4"/>
<circle cx="715.8" cy="272.9" r="2.5"/>
<circle cx="798.6" cy="279.4" r="4.5"/>
<circle cx="850.9" cy="248.2" r="3"/>
<circle cx="857.8" cy="348.8" r="4"/>
<circle cx="648.7" cy="414.9" r="6"/>
<circle cx="429" cy="390" r="9.5"/>
<circle cx="418" cy="397" r="11"/>
<circle cx="648" cy="472" r="8"/>
<circle cx="652" cy="467" r="8"/>
<circle cx="656" cy="462" r="8"/>
<circle cx="660" cy="458" r="7"/>
<circle cx="645" cy="477" r="7"/>
<circle cx="650" cy="470" r="6"/>
<circle cx="655" cy="465" r="6"/>
<circle cx="663" cy="455" r="6"/>
<circle cx="644" cy="474" r="6"/>
<circle cx="519" cy="291" r="7"/>
<circle cx="521" cy="289" r="6"/>
<circle cx="516" cy="293" r="6"/>
<circle cx="523" cy="292" r="5"/>
<circle cx="517" cy="288" r="5"/>
<circle cx="675" cy="190" r="7"/>
<circle cx="678" cy="188" r="6"/>
<circle cx="672" cy="192" r="6"/>
<circle cx="674" cy="186" r="6"/>
<circle cx="679" cy="192" r="5"/>
<circle cx="670" cy="189" r="5"/>
<circle cx="676" cy="194" r="5"/>
<circle cx="412" cy="466" r="8"/>
<circle cx="406" cy="472" r="6"/>
<circle cx="418" cy="463" r="5"/>
<circle cx="440" cy="485" r="7"/>
<circle cx="436" cy="492" r="5"/>
</g>
<g fill="#5a5a5a" fill-opacity="0.13" stroke-width="1.5" stroke-opacity="0.8">
<circle cx="687.2" cy="179.2" r="34.5" stroke="#A466BC"/>
<circle cx="669.4" cy="191" r="20.7" stroke="#A466BC"/>
<circle cx="672" cy="188" r="19" stroke="#A466BC"/>
<circle cx="676" cy="186" r="18" stroke="#A466BC"/>
<circle cx="681" cy="190" r="17" stroke="#A466BC"/>
<circle cx="666" cy="194" r="15" stroke="#A466BC"/>
<circle cx="689.2" cy="175.2" r="21.7" stroke="#A466BC"/>
<circle cx="694" cy="171" r="15" stroke="#A466BC"/>
<circle cx="674" cy="190" r="11" stroke="#A466BC"/>
<circle cx="678" cy="188" r="10" stroke="#A466BC"/>
<circle cx="671" cy="193" r="9.5" stroke="#A466BC"/>
<circle cx="680" cy="192" r="9" stroke="#A466BC"/>
<circle cx="675" cy="186" r="8" stroke="#A466BC"/>
<circle cx="670" cy="188" r="8" stroke="#A466BC"/>
<circle cx="677" cy="195" r="7.5" stroke="#A466BC"/>
<circle cx="516" cy="296" r="21" stroke="#A466BC"/>
<circle cx="514" cy="298" r="19" stroke="#A466BC"/>
<circle cx="518" cy="294" r="17" stroke="#A466BC"/>
<circle cx="512" cy="300" r="15" stroke="#A466BC"/>
<circle cx="520" cy="292" r="13" stroke="#A466BC"/>
<circle cx="515" cy="297" r="11" stroke="#A466BC"/>
<circle cx="519" cy="295" r="9" stroke="#A466BC"/>
<circle cx="513" cy="293" r="7" stroke="#A466BC"/>
<circle cx="601.5" cy="339.2" r="27.2" stroke="#8679C6"/>
<circle cx="623.4" cy="325" r="22.5" stroke="#8679C6"/>
<circle cx="618.1" cy="307.3" r="9.9" stroke="#8679C6"/>
<circle cx="609.2" cy="341" r="20" stroke="#8679C6"/>
<circle cx="613.4" cy="358.8" r="12.6" stroke="#8679C6"/>
<circle cx="599.2" cy="381.2" r="9.8" stroke="#8679C6"/>
<circle cx="609.8" cy="391.9" r="17.8" stroke="#8679C6"/>
<circle cx="607.5" cy="409.6" r="15" stroke="#8679C6"/>
<circle cx="590.9" cy="355.2" r="8.3" stroke="#8679C6"/>
<circle cx="605" cy="345" r="10" stroke="#8679C6"/>
<circle cx="612" cy="350" r="7" stroke="#8679C6"/>
<circle cx="611" cy="348" r="14" stroke="#8679C6"/>
<circle cx="605" cy="352" r="11" stroke="#8679C6"/>
<circle cx="616" cy="342" r="12" stroke="#8679C6"/>
<circle cx="597" cy="348" r="9" stroke="#8679C6"/>
<circle cx="614" cy="330" r="11" stroke="#8679C6"/>
<circle cx="608" cy="372" r="9" stroke="#8679C6"/>
<circle cx="603" cy="396" r="10" stroke="#8679C6"/>
<circle cx="612" cy="398" r="8" stroke="#8679C6"/>
<circle cx="606" cy="418" r="8" stroke="#8679C6"/>
<circle cx="617" cy="352" r="8" stroke="#8679C6"/>
<circle cx="600" cy="362" r="7" stroke="#8679C6"/>
<circle cx="637" cy="355.2" r="8" stroke="#A466BC"/>
<circle cx="783.8" cy="298.5" r="7" stroke="#A466BC"/>
<circle cx="641.2" cy="478.8" r="25.9" stroke="#5ABBD8"/>
<circle cx="642.6" cy="483.2" r="22.8" stroke="#5ABBD8"/>
<circle cx="639" cy="485.4" r="12.7" stroke="#5ABBD8"/>
<circle cx="646" cy="476" r="18" stroke="#5ABBD8"/>
<circle cx="699" cy="425.3" r="14.8" stroke="#5DB79E"/>
<circle cx="658.5" cy="455.7" r="21.7" stroke="#A9A23A"/>
<circle cx="667.9" cy="447" r="16" stroke="#A9A23A"/>
<circle cx="679.5" cy="440.5" r="15" stroke="#A9A23A"/>
<circle cx="687.5" cy="430.4" r="14" stroke="#A9A23A"/>
<circle cx="694.7" cy="434" r="12" stroke="#A9A23A"/>
<circle cx="645.5" cy="472.3" r="20" stroke="#A9A23A"/>
<circle cx="652.7" cy="460" r="15" stroke="#A9A23A"/>
<circle cx="664.3" cy="453.5" r="14" stroke="#A9A23A"/>
<circle cx="673.7" cy="443.4" r="13" stroke="#A9A23A"/>
<circle cx="655.6" cy="468.7" r="12" stroke="#A9A23A"/>
<circle cx="648" cy="466" r="14" stroke="#A9A23A"/>
<circle cx="660" cy="462" r="11" stroke="#A9A23A"/>
<circle cx="684" cy="438" r="11" stroke="#A9A23A"/>
<circle cx="418.3" cy="403.1" r="19.5" stroke="#5A95D8"/>
<circle cx="410" cy="410" r="14" stroke="#5A95D8"/>
<circle cx="369.8" cy="432.7" r="8" stroke="#5A95D8"/>
<circle cx="437" cy="470" r="7.4" stroke="#8679C6"/>
<circle cx="444.7" cy="470.6" r="7" stroke="#8679C6"/>
</g>
<g fill="#5a5a5a" fill-opacity="0.18" stroke-width="1.9">
<circle cx="517" cy="299" r="5.7" stroke="#A466BC"/>
<circle cx="599.2" cy="404.9" r="5.7" stroke="#8679C6"/>
<circle cx="609.8" cy="403.7" r="4.4" stroke="#8679C6"/>
<circle cx="603" cy="335" r="5.7" stroke="#8679C6"/>
<circle cx="641" cy="362" r="5.7" stroke="#A466BC"/>
<circle cx="633" cy="348" r="4.7" stroke="#A466BC"/>
<circle cx="654.2" cy="334.5" r="5.2" stroke="#A466BC"/>
<circle cx="671.4" cy="362.3" r="3.7" stroke="#A466BC"/>
<circle cx="683.4" cy="358.2" r="3.2" stroke="#A466BC"/>
<circle cx="618.1" cy="387.2" r="4.2" stroke="#A466BC"/>
<circle cx="632.3" cy="371.8" r="5.7" stroke="#A466BC"/>
<circle cx="645" cy="372" r="4.7" stroke="#A466BC"/>
<circle cx="628" cy="362" r="4.7" stroke="#A466BC"/>
<circle cx="648" cy="350" r="3.7" stroke="#A466BC"/>
<circle cx="839" cy="254.1" r="4.7" stroke="#A466BC"/>
<circle cx="830.2" cy="274.8" r="4.2" stroke="#A466BC"/>
<circle cx="797.3" cy="299.1" r="2.7" stroke="#A466BC"/>
<circle cx="843" cy="310.3" r="3.7" stroke="#A466BC"/>
<circle cx="794.7" cy="323.2" r="3.7" stroke="#A466BC"/>
<circle cx="809.5" cy="326.1" r="2.7" stroke="#A466BC"/>
<circle cx="814.4" cy="326.7" r="3.2" stroke="#A466BC"/>
<circle cx="819.3" cy="333" r="3.2" stroke="#A466BC"/>
<circle cx="851.3" cy="325.1" r="2.7" stroke="#A466BC"/>
<circle cx="784.8" cy="333" r="3.2" stroke="#A466BC"/>
<circle cx="815.4" cy="344.9" r="4.2" stroke="#A466BC"/>
<circle cx="799.6" cy="350.8" r="3.2" stroke="#A466BC"/>
<circle cx="813.4" cy="363.6" r="3.7" stroke="#A466BC"/>
<circle cx="787" cy="310" r="4.7" stroke="#A466BC"/>
<circle cx="781" cy="318" r="4.2" stroke="#A466BC"/>
<circle cx="444" cy="473" r="5.7" stroke="#8679C6"/>
<circle cx="400" cy="494" r="5.7" stroke="#8679C6"/>
<circle cx="398" cy="527" r="4.7" stroke="#8679C6"/>
<circle cx="433" cy="520" r="4.7" stroke="#8679C6"/>
<circle cx="416" cy="530" r="4.7" stroke="#8679C6"/>
<circle cx="482" cy="566.6" r="4.7" stroke="#A466BC"/>
<circle cx="480" cy="581" r="4.7" stroke="#A466BC"/>
<circle cx="487" cy="588" r="4.7" stroke="#A466BC"/>
<circle cx="497" cy="611" r="4.2" stroke="#A466BC"/>
<circle cx="488" cy="626" r="4.7" stroke="#A466BC"/>
<circle cx="457" cy="642" r="4.2" stroke="#A466BC"/>
<circle cx="448" cy="618" r="4.7" stroke="#A466BC"/>
<circle cx="365" cy="455" r="3.7" stroke="#5DB79E"/>
<circle cx="360" cy="461" r="3.7" stroke="#5DB79E"/>
<circle cx="340" cy="476" r="4.2" stroke="#5DB79E"/>
<circle cx="330" cy="478" r="3.7" stroke="#5DB79E"/>
<circle cx="364" cy="481" r="4.2" stroke="#5DB79E"/>
<circle cx="366" cy="488" r="4.2" stroke="#5DB79E"/>
<circle cx="381" cy="471" r="3.7" stroke="#5DB79E"/>
<circle cx="327" cy="482" r="3.7" stroke="#5DB79E"/>
<circle cx="353" cy="460" r="3.2" stroke="#5DB79E"/>
<circle cx="432" cy="777" r="3.2" stroke="#62B273"/>
<circle cx="423" cy="786" r="3.7" stroke="#62B273"/>
<circle cx="430" cy="790" r="4.2" stroke="#62B273"/>
<circle cx="437" cy="785" r="3.7" stroke="#62B273"/>
<circle cx="441" cy="793" r="3.7" stroke="#62B273"/>
<circle cx="432" cy="800" r="3.2" stroke="#62B273"/>
<circle cx="437" cy="801" r="3.2" stroke="#62B273"/>
<circle cx="447" cy="769" r="3.7" stroke="#62B273"/>
<circle cx="453" cy="782" r="3.2" stroke="#62B273"/>
<circle cx="458" cy="756" r="3.2" stroke="#62B273"/>
<circle cx="447" cy="716" r="2.2" stroke="#62B273"/>
<circle cx="412" cy="756" r="3.2" stroke="#62B273"/>
<circle cx="346" cy="665.3" r="3.2" stroke="#62B273"/>
<circle cx="391.4" cy="664" r="3.7" stroke="#62B273"/>
<circle cx="325.4" cy="697.9" r="2.7" stroke="#62B273"/>
<circle cx="341.4" cy="705.4" r="5.2" stroke="#62B273"/>
<circle cx="341.1" cy="718.3" r="4.2" stroke="#62B273"/>
<circle cx="384.3" cy="731.1" r="3.2" stroke="#62B273"/>
<circle cx="375.7" cy="739.6" r="4.2" stroke="#62B273"/>
<circle cx="339.6" cy="741.7" r="4.2" stroke="#62B273"/>
<circle cx="320" cy="748.9" r="3.7" stroke="#62B273"/>
<circle cx="308.3" cy="759.3" r="2.7" stroke="#62B273"/>
<circle cx="447.1" cy="715.5" r="2.7" stroke="#62B273"/>
<circle cx="391.7" cy="663.8" r="3.7" stroke="#62B273"/>
<circle cx="412.4" cy="756.4" r="3.7" stroke="#5DB79E"/>
<circle cx="173.5" cy="520.9" r="3.7" stroke="#7BBF4C"/>
<circle cx="209.9" cy="527.7" r="3.2" stroke="#7BBF4C"/>
<circle cx="336.5" cy="552.3" r="3.2" stroke="#7BBF4C"/>
<circle cx="379.9" cy="554.5" r="3.2" stroke="#7BBF4C"/>
<circle cx="390" cy="560.3" r="2.7" stroke="#7BBF4C"/>
<circle cx="334" cy="576.2" r="4.7" stroke="#7BBF4C"/>
<circle cx="378.5" cy="579.1" r="3.7" stroke="#7BBF4C"/>
<circle cx="360.4" cy="586.3" r="3.9" stroke="#7BBF4C"/>
<circle cx="367.3" cy="590.7" r="3.7" stroke="#7BBF4C"/>
<circle cx="368.8" cy="595.7" r="3.7" stroke="#7BBF4C"/>
<circle cx="345.6" cy="601.5" r="3.7" stroke="#7BBF4C"/>
<circle cx="339.4" cy="611.6" r="3.7" stroke="#7BBF4C"/>
<circle cx="312.9" cy="624.7" r="3.7" stroke="#7BBF4C"/>
<circle cx="287.3" cy="637.7" r="2.9" stroke="#7BBF4C"/>
<circle cx="357.2" cy="640.6" r="3.7" stroke="#7BBF4C"/>
<circle cx="363.6" cy="642.7" r="3.2" stroke="#7BBF4C"/>
<circle cx="219.8" cy="566.5" r="3.7" stroke="#E07A74"/>
<circle cx="274.3" cy="579.8" r="3.2" stroke="#E07A74"/>
<circle cx="293.8" cy="583.4" r="3.2" stroke="#E07A74"/>
<circle cx="214" cy="600" r="3.7" stroke="#E07A74"/>
<circle cx="227.3" cy="596.4" r="3.2" stroke="#E07A74"/>
<circle cx="233.1" cy="607.3" r="3.2" stroke="#E07A74"/>
<circle cx="287.3" cy="602.7" r="3.7" stroke="#E07A74"/>
<circle cx="251.6" cy="614.5" r="3.7" stroke="#E07A74"/>
<circle cx="282" cy="615.7" r="3.7" stroke="#E07A74"/>
<circle cx="205.6" cy="624.4" r="3.7" stroke="#E07A74"/>
<circle cx="194.3" cy="637.7" r="3.7" stroke="#E07A74"/>
<circle cx="218.3" cy="640.6" r="3.2" stroke="#E07A74"/>
<circle cx="192.6" cy="669.5" r="3.7" stroke="#E07A74"/>
<circle cx="234.5" cy="685.4" r="3.2" stroke="#E07A74"/>
<circle cx="299.3" cy="541.5" r="3.7" stroke="#D28B30"/>
<circle cx="259.1" cy="578.4" r="3.2" stroke="#D28B30"/>
<circle cx="233.4" cy="601.5" r="3.7" stroke="#D28B30"/>
<circle cx="159" cy="652.1" r="3.5" stroke="#D28B30"/>
<circle cx="150.6" cy="676.4" r="3.5" stroke="#D28B30"/>
<circle cx="168.5" cy="694.8" r="3.7" stroke="#D28B30"/>
<circle cx="125.7" cy="708.3" r="3.2" stroke="#D28B30"/>
<circle cx="204.9" cy="558.8" r="3.7" stroke="#A9A23A"/>
<circle cx="168.7" cy="632.6" r="3.7" stroke="#A9A23A"/>
<circle cx="262.7" cy="656.5" r="3.2" stroke="#A9A23A"/>
<circle cx="199.4" cy="691.1" r="3.7" stroke="#A9A23A"/>
<circle cx="234.3" cy="701.4" r="3.2" stroke="#A9A23A"/>
<circle cx="238.9" cy="710" r="3.2" stroke="#A9A23A"/>
<circle cx="242.1" cy="721.1" r="3.7" stroke="#A9A23A"/>
<circle cx="171" cy="746.4" r="3.7" stroke="#A9A23A"/>
<circle cx="175.6" cy="671.7" r="3.5" stroke="#5ABBD8"/>
<circle cx="138.3" cy="686.5" r="3.2" stroke="#5ABBD8"/>
<circle cx="161.1" cy="741.1" r="3.2" stroke="#5ABBD8"/>
<circle cx="215" cy="564.6" r="3.7" stroke="#5A95D8"/>
<circle cx="177" cy="598.6" r="3.2" stroke="#5A95D8"/>
<circle cx="230.5" cy="626.1" r="3.7" stroke="#5DB79E"/>
<circle cx="273.3" cy="618.9" r="3.7" stroke="#5DB79E"/>
<circle cx="300.8" cy="621" r="3.7" stroke="#5DB79E"/>
<circle cx="215.2" cy="645.7" r="3.5" stroke="#5DB79E"/>
<circle cx="158.6" cy="680.4" r="3.2" stroke="#8679C6"/>
<circle cx="146" cy="692.2" r="3.7" stroke="#8679C6"/>
<circle cx="130.4" cy="713.1" r="3.7" stroke="#8679C6"/>
<circle cx="321.3" cy="521.2" r="3.2" stroke="#8679C6"/>
<circle cx="397.7" cy="530" r="3.7" stroke="#8679C6"/>
<circle cx="380.6" cy="533" r="2.7" stroke="#8679C6"/>
<circle cx="314.8" cy="566.8" r="3.2" stroke="#A466BC"/>
<circle cx="288.3" cy="618.1" r="3.2" stroke="#A466BC"/>
<circle cx="266" cy="669.8" r="2.9" stroke="#A466BC"/>
<circle cx="315.5" cy="576.2" r="3.7" stroke="#DC66AA"/>
<circle cx="153.5" cy="695.8" r="3.2" stroke="#DC66AA"/>
<circle cx="122.9" cy="703.6" r="3.2" stroke="#DC66AA"/>
<circle cx="158.9" cy="719.3" r="2.7" stroke="#DC66AA"/>
<circle cx="147.1" cy="744" r="2.7" stroke="#DC66AA"/>
<circle cx="400.6" cy="493.5" r="4.7" stroke="#8679C6"/>
<circle cx="437.5" cy="500.3" r="3.2" stroke="#8679C6"/>
<circle cx="401.5" cy="526.2" r="4.2" stroke="#8679C6"/>
<circle cx="433" cy="515" r="3.7" stroke="#8679C6"/>
<circle cx="481.8" cy="566.4" r="4.7" stroke="#A466BC"/>
<circle cx="480.6" cy="580.6" r="4.7" stroke="#A466BC"/>
<circle cx="487.1" cy="589.5" r="4.2" stroke="#A466BC"/>
<circle cx="497.2" cy="611.4" r="3.7" stroke="#A466BC"/>
<circle cx="488.3" cy="626.2" r="4.2" stroke="#A466BC"/>
<circle cx="457.5" cy="642.7" r="4.2" stroke="#A466BC"/>
<circle cx="448" cy="603.1" r="4.7" stroke="#A466BC"/>
<circle cx="445.7" cy="625.6" r="5.7" stroke="#A466BC"/>
<circle cx="752" cy="322" r="3.7" stroke="#A466BC"/>
<circle cx="760" cy="318" r="4.2" stroke="#A466BC"/>
<circle cx="770" cy="336" r="4.2" stroke="#A466BC"/>
<circle cx="779" cy="325" r="3.7" stroke="#A466BC"/>
<circle cx="748" cy="333" r="4.2" stroke="#A466BC"/>
<circle cx="757" cy="343" r="3.7" stroke="#A466BC"/>
<circle cx="787" cy="314" r="3.7" stroke="#A466BC"/>
<circle cx="763" cy="328" r="4.2" stroke="#A466BC"/>
<circle cx="768" cy="322" r="3.7" stroke="#A466BC"/>
<circle cx="756" cy="332" r="4.2" stroke="#A466BC"/>
<circle cx="774" cy="330" r="3.7" stroke="#A466BC"/>
<circle cx="745" cy="338" r="3.7" stroke="#A466BC"/>
<circle cx="766" cy="340" r="3.7" stroke="#A466BC"/>
<circle cx="470" cy="600" r="4.7" stroke="#A466BC"/>
<circle cx="458" cy="610" r="4.7" stroke="#A466BC"/>
<circle cx="476" cy="592" r="4.2" stroke="#A466BC"/>
<circle cx="452" cy="618" r="4.7" stroke="#A466BC"/>
<circle cx="464" cy="614" r="4.2" stroke="#A466BC"/>
<circle cx="480" cy="604" r="4.2" stroke="#A466BC"/>
<circle cx="446" cy="612" r="4.2" stroke="#A466BC"/>
</g>
<g fill="#5A95D8" fill-opacity="0.88">
<circle cx="396" cy="422" r="12"/>
<circle cx="388" cy="428" r="10"/>
<circle cx="404" cy="416" r="11"/>
<circle cx="384" cy="434" r="7"/>
<circle cx="405" cy="429" r="9"/>
<circle cx="395" cy="436" r="7"/>
<circle cx="398" cy="411" r="9"/>
<circle cx="410" cy="420" r="8"/>
<circle cx="380" cy="431" r="6"/>
<circle cx="391" cy="415" r="8"/>
</g>
<g fill="#2a2a40" fill-opacity="0.55">
<ellipse cx="393.3" cy="422.9" rx="1" ry="1.6"/>
<ellipse cx="388.3" cy="425.9" rx="1" ry="1.6"/>
<ellipse cx="403.5" cy="415.2" rx="1" ry="1.6"/>
<ellipse cx="386.1" cy="432.7" rx="1" ry="1.6"/>
<ellipse cx="404.3" cy="426.5" rx="1" ry="1.6"/>
<ellipse cx="396.9" cy="435.2" rx="1" ry="1.6"/>
</g>
<g fill="#8679C6" fill-opacity="0.8">
<circle cx="424" cy="478" r="8"/>
<circle cx="418" cy="485" r="9"/>
<circle cx="414" cy="492" r="8"/>
<circle cx="420" cy="497" r="9"/>
<circle cx="426" cy="490" r="8"/>
<circle cx="410" cy="502" r="7"/>
<circle cx="418" cy="506" r="8"/>
<circle cx="424" cy="512" r="6"/>
<circle cx="416" cy="518" r="6"/>
<circle cx="418" cy="526" r="5"/>
<circle cx="430" cy="505" r="6"/>
<circle cx="406" cy="495" r="6"/>
<circle cx="428" cy="470" r="5"/>
<circle cx="434" cy="480" r="6"/>
<circle cx="432" cy="492" r="6"/>
<circle cx="409" cy="484" r="6"/>
</g>
<g fill="#2a2a40" fill-opacity="0.55">
<ellipse cx="424.4" cy="479.8" rx="1" ry="1.6"/>
<ellipse cx="419.3" cy="482.4" rx="1" ry="1.6"/>
<ellipse cx="415.1" cy="491.5" rx="1" ry="1.6"/>
<ellipse cx="418.3" cy="494.9" rx="1" ry="1.6"/>
<ellipse cx="428.1" cy="491.5" rx="1" ry="1.6"/>
<ellipse cx="411" cy="500.2" rx="1" ry="1.6"/>
</g>
<g fill="#A466BC" fill-opacity="0.7">
<circle cx="465" cy="607" r="9"/>
<circle cx="456" cy="614" r="8"/>
<circle cx="474" cy="600" r="8"/>
<circle cx="448" cy="620" r="7"/>
<circle cx="482" cy="594" r="6"/>
<circle cx="470" cy="614" r="7"/>
<circle cx="460" cy="600" r="6"/>
<circle cx="452" cy="628" r="5"/>
<circle cx="478" cy="610" r="6"/>
<circle cx="486" cy="590" r="4"/>
</g>
<g fill="#2a2a40" fill-opacity="0.55">
<ellipse cx="463.2" cy="605.3" rx="1" ry="1.6"/>
<ellipse cx="458" cy="611.2" rx="1" ry="1.6"/>
<ellipse cx="472.4" cy="600.3" rx="1" ry="1.6"/>
<ellipse cx="449.3" cy="622.8" rx="1" ry="1.6"/>
<ellipse cx="481.4" cy="593" rx="1" ry="1.6"/>
<ellipse cx="472" cy="616.2" rx="1" ry="1.6"/>
</g>
<g fill="#A466BC" fill-opacity="0.72">
<circle cx="636" cy="357" r="7"/>
<circle cx="640" cy="364" r="6"/>
<circle cx="632" cy="350" r="5"/>
<circle cx="644" cy="352" r="5"/>
<circle cx="630" cy="366" r="5"/>
</g>
<g fill="#A466BC" fill-opacity="0.72">
<circle cx="762" cy="331" r="7"/>
<circle cx="770" cy="325" r="7"/>
<circle cx="755" cy="337" r="6"/>
<circle cx="776" cy="318" r="6"/>
<circle cx="783" cy="309" r="5"/>
<circle cx="766" cy="339" r="5"/>
<circle cx="758" cy="324" r="5"/>
<circle cx="750" cy="340" r="4.5"/>
</g>
<g fill="#8679C6" fill-opacity="0.22">
<circle cx="606" cy="345" r="16"/>
<circle cx="612" cy="338" r="12"/>
<circle cx="600" cy="352" r="12"/>
<circle cx="608" cy="390" r="10"/>
<circle cx="606" cy="405" r="9"/>
</g>
<g fill="#A466BC" fill-opacity="0.25">
<circle cx="516" cy="296" r="19"/>
<circle cx="518" cy="293" r="13"/>
<circle cx="675" cy="188" r="16"/>
</g>
</g></defs>
<use href="#sc"/>
<use href="#sc" x="902"/>
<g fill="#5a5a5a" fill-opacity="0.18">
<circle cx="324.7" cy="200" r="2.3"/>
<circle cx="263" cy="153.5" r="2.5"/>
<circle cx="309.9" cy="107.4" r="2.1"/>
<circle cx="292.3" cy="153" r="1.9"/>
<circle cx="278.3" cy="142.6" r="2.5"/>
<circle cx="295.4" cy="177.5" r="1.4"/>
<circle cx="360.8" cy="149" r="2.6"/>
<circle cx="283.7" cy="143.3" r="1.8"/>
<circle cx="271.2" cy="150.3" r="2.7"/>
<circle cx="275.5" cy="166.2" r="2.5"/>
<circle cx="360.2" cy="211.6" r="2"/>
<circle cx="255.5" cy="138.8" r="2"/>
<circle cx="296.5" cy="159.6" r="2.6"/>
<circle cx="298.9" cy="215.9" r="1.6"/>
<circle cx="379.3" cy="134.3" r="2.4"/>
<circle cx="296.4" cy="100.1" r="2.4"/>
<circle cx="326.3" cy="180.1" r="2.5"/>
<circle cx="320.8" cy="232.1" r="2.6"/>
<circle cx="258.2" cy="169.5" r="2"/>
<circle cx="189.3" cy="231.1" r="1.9"/>
<circle cx="310.3" cy="152.8" r="2.4"/>
<circle cx="341.1" cy="148" r="2"/>
<circle cx="225.7" cy="130.3" r="1.6"/>
<circle cx="250.5" cy="119.4" r="2.2"/>
<circle cx="302.8" cy="171" r="1.8"/>
<circle cx="326.8" cy="134.5" r="2.2"/>
<circle cx="285.2" cy="166.6" r="1.4"/>
<circle cx="320.3" cy="89.4" r="1.9"/>
<circle cx="266.4" cy="97.9" r="2.6"/>
<circle cx="333.5" cy="139.9" r="2.8"/>
<circle cx="346.5" cy="137.8" r="2.6"/>
<circle cx="251.3" cy="152.1" r="1.7"/>
<circle cx="309.8" cy="134.1" r="1.4"/>
<circle cx="316.7" cy="88.4" r="2"/>
<circle cx="299.1" cy="139.4" r="1.7"/>
<circle cx="281.1" cy="188.4" r="1.6"/>
<circle cx="326.6" cy="164.6" r="2.6"/>
<circle cx="361.1" cy="143.5" r="2"/>
<circle cx="290.5" cy="246" r="2.1"/>
<circle cx="290.7" cy="141" r="1.6"/>
<circle cx="331.4" cy="92.5" r="2.6"/>
<circle cx="256.4" cy="126.2" r="2.2"/>
<circle cx="313.1" cy="123.5" r="2.1"/>
<circle cx="280.3" cy="214.1" r="1.3"/>
<circle cx="250.8" cy="63.4" r="1.3"/>
<circle cx="241.8" cy="119.7" r="2.6"/>
<circle cx="264.1" cy="135.2" r="1.9"/>
<circle cx="380.2" cy="128.8" r="1.5"/>
<circle cx="307.4" cy="159.5" r="1.3"/>
<circle cx="270.1" cy="156.9" r="2.6"/>
<circle cx="279.8" cy="133.6" r="2.1"/>
<circle cx="269.9" cy="189.6" r="1.6"/>
<circle cx="305.5" cy="170.9" r="1.9"/>
<circle cx="278.8" cy="103.5" r="1.4"/>
<circle cx="271.2" cy="75" r="2.5"/>
<circle cx="293.3" cy="145.4" r="2"/>
<circle cx="357.8" cy="175.1" r="1.6"/>
<circle cx="284.3" cy="121.8" r="2.3"/>
<circle cx="287.2" cy="160.2" r="1.9"/>
<circle cx="259.1" cy="226.1" r="1.7"/>
<circle cx="239" cy="149.1" r="2.7"/>
<circle cx="338.4" cy="179.9" r="2.1"/>
<circle cx="281.4" cy="51.2" r="1.8"/>
<circle cx="276" cy="105.9" r="2.1"/>
<circle cx="363" cy="177.2" r="2.8"/>
<circle cx="285.4" cy="160.4" r="3.6"/>
<circle cx="299" cy="153.7" r="1.9"/>
<circle cx="304.6" cy="126.7" r="2.6"/>
<circle cx="291.7" cy="147.9" r="3"/>
<circle cx="275.9" cy="156.4" r="2.5"/>
<circle cx="284.7" cy="156.2" r="1.9"/>
<circle cx="283" cy="154.6" r="3.1"/>
<circle cx="304.5" cy="128.1" r="2.6"/>
<circle cx="295.3" cy="164.7" r="2.7"/>
<circle cx="266.2" cy="121.6" r="2"/>
<circle cx="275.5" cy="152.2" r="3.1"/>
<circle cx="315.5" cy="133.4" r="2.9"/>
<circle cx="295.3" cy="127.8" r="3.3"/>
<circle cx="286.4" cy="128.4" r="2.2"/>
<circle cx="307.7" cy="142.6" r="2.9"/>
<circle cx="312.7" cy="115.6" r="3.6"/>
<circle cx="307.8" cy="150.5" r="2.4"/>
<circle cx="287" cy="155.3" r="2.8"/>
<circle cx="305.9" cy="156.1" r="3.5"/>
<circle cx="293.1" cy="133.3" r="2"/>
<circle cx="318" cy="143.6" r="2.2"/>
<circle cx="282.3" cy="168.5" r="3"/>
<circle cx="291.3" cy="186.8" r="2.4"/>
<circle cx="293.2" cy="179" r="2.1"/>
<circle cx="289.5" cy="140.9" r="2.9"/>
<circle cx="291.3" cy="164.4" r="3.5"/>
<circle cx="277.2" cy="153.3" r="2.9"/>
<circle cx="292.1" cy="159.1" r="2.5"/>
<circle cx="292.5" cy="159.6" r="3.5"/>
<circle cx="322.5" cy="155.9" r="3.5"/>
<circle cx="293.1" cy="147.2" r="2.7"/>
<circle cx="315.2" cy="155" r="3.1"/>
<circle cx="294.1" cy="151.8" r="2.8"/>
<circle cx="305.4" cy="157.2" r="2.6"/>
<circle cx="306.1" cy="141.1" r="2"/>
<circle cx="301.7" cy="123.1" r="2.8"/>
<circle cx="303.8" cy="152.9" r="2.5"/>
<circle cx="283.2" cy="146.6" r="3.2"/>
<circle cx="314.2" cy="121.6" r="3.4"/>
<circle cx="315" cy="152.2" r="1.9"/>
<circle cx="315.4" cy="135.3" r="3.2"/>
<circle cx="296.1" cy="154.9" r="3.3"/>
<circle cx="276.5" cy="137" r="2.6"/>
<circle cx="298.5" cy="137" r="2.3"/>
<circle cx="285.9" cy="160.1" r="2.9"/>
<circle cx="298.7" cy="146.3" r="1.9"/>
<circle cx="270" cy="148.3" r="2.1"/>
<circle cx="293.3" cy="155.2" r="1.9"/>
<circle cx="269.8" cy="150.7" r="3"/>
<circle cx="298.1" cy="155.9" r="3.5"/>
<circle cx="278.1" cy="146.3" r="3"/>
<circle cx="291.3" cy="131.9" r="1.9"/>
<circle cx="299.2" cy="140.8" r="1.9"/>
<circle cx="282.2" cy="164.8" r="2.9"/>
<circle cx="305.6" cy="171" r="2.7"/>
<circle cx="310.4" cy="174.9" r="3.3"/>
<circle cx="314.1" cy="137.4" r="2.2"/>
<circle cx="300" cy="118.1" r="2.8"/>
<circle cx="329.6" cy="128.4" r="2.5"/>
<circle cx="329.1" cy="137.4" r="3.2"/>
<circle cx="308.9" cy="151" r="2.9"/>
<circle cx="273" cy="134.3" r="3"/>
<circle cx="313.5" cy="179.4" r="2.8"/>
<circle cx="302" cy="143.1" r="3.6"/>
<circle cx="268" cy="141.2" r="3.1"/>
<circle cx="305.2" cy="140.4" r="1.9"/>
<circle cx="285.7" cy="155.3" r="2.8"/>
<circle cx="300" cy="136.9" r="2"/>
<circle cx="310.5" cy="152.7" r="2.8"/>
<circle cx="317.4" cy="153.7" r="2.2"/>
<circle cx="322.7" cy="171.4" r="2.7"/>
<circle cx="309.2" cy="139" r="2"/>
<circle cx="295.1" cy="165.7" r="3"/>
<circle cx="297.5" cy="125.2" r="3"/>
<circle cx="293.7" cy="165.9" r="2.5"/>
<circle cx="281.5" cy="150.8" r="2.8"/>
<circle cx="289.8" cy="151" r="3.3"/>
<circle cx="269.3" cy="136" r="3.1"/>
<circle cx="287.9" cy="102.8" r="2.5"/>
<circle cx="292.9" cy="150.8" r="3"/>
<circle cx="275.7" cy="140.4" r="3.6"/>
<circle cx="297.8" cy="160.2" r="3.1"/>
<circle cx="301" cy="134.1" r="1.9"/>
<circle cx="273.4" cy="170.4" r="2.7"/>
<circle cx="278.6" cy="153.6" r="2.9"/>
<circle cx="274" cy="136.6" r="3.4"/>
<circle cx="294.1" cy="135.5" r="2.3"/>
<circle cx="299.7" cy="123.9" r="3.5"/>
<circle cx="303.8" cy="177.6" r="3.4"/>
<circle cx="306.1" cy="156" r="2.9"/>
<circle cx="312.3" cy="172.5" r="2.3"/>
<circle cx="288.5" cy="138.6" r="2.2"/>
<circle cx="299" cy="167" r="3.1"/>
<circle cx="298.9" cy="172.4" r="2.4"/>
<circle cx="284.9" cy="138.4" r="2.1"/>
<circle cx="297.5" cy="154" r="3.1"/>
<circle cx="287" cy="154" r="3.4"/>
<circle cx="292.1" cy="147.4" r="3.1"/>
<circle cx="279.6" cy="140.9" r="2.7"/>
<circle cx="309" cy="146.6" r="2.9"/>
<circle cx="284" cy="139.2" r="2.4"/>
<circle cx="294.7" cy="128.7" r="2.6"/>
<circle cx="282.7" cy="149.1" r="3.2"/>
<circle cx="316.8" cy="152.7" r="2.6"/>
<circle cx="297.8" cy="169.6" r="2.8"/>
<circle cx="309.9" cy="159" r="2.1"/>
<circle cx="298.3" cy="137.3" r="2.4"/>
<circle cx="295.1" cy="154.6" r="2.1"/>
<circle cx="307" cy="167.1" r="3.3"/>
<circle cx="295.4" cy="157.2" r="2.8"/>
<circle cx="294.1" cy="141.8" r="2.9"/>
<circle cx="290.4" cy="149.8" r="2.6"/>
<circle cx="292.7" cy="138.8" r="2.7"/>
<circle cx="291.7" cy="138.8" r="2.7"/>
<circle cx="291" cy="124" r="2.8"/>
<circle cx="295.2" cy="135.5" r="2.4"/>
<circle cx="294.7" cy="130.1" r="2.9"/>
<circle cx="298.8" cy="137.5" r="3.1"/>
<circle cx="287.1" cy="122" r="2.2"/>
<circle cx="289.4" cy="133.2" r="3.2"/>
<circle cx="288.1" cy="119.3" r="2.6"/>
<circle cx="290.6" cy="142.8" r="2.8"/>
<circle cx="278.4" cy="126.8" r="3"/>
<circle cx="294.3" cy="137.7" r="2.1"/>
<circle cx="275.4" cy="150.8" r="2.9"/>
<circle cx="291.1" cy="141.9" r="2.1"/>
<circle cx="278.2" cy="125.8" r="2.3"/>
<circle cx="268.1" cy="149.2" r="2.5"/>
<circle cx="278.9" cy="121.9" r="2.6"/>
<circle cx="274.3" cy="131.7" r="2.2"/>
<circle cx="274.8" cy="135.3" r="2.4"/>
<circle cx="295.3" cy="155.4" r="2.5"/>
<circle cx="285.9" cy="137.4" r="2.3"/>
<circle cx="292.4" cy="128.3" r="2.8"/>
<circle cx="287.1" cy="149.4" r="2.5"/>
<circle cx="304" cy="143.3" r="2.5"/>
<circle cx="302.5" cy="173.8" r="3"/>
<circle cx="300.9" cy="145.2" r="2.4"/>
<circle cx="320" cy="143.4" r="2.2"/>
<circle cx="297.6" cy="139.4" r="2.8"/>
<circle cx="325" cy="152.5" r="2.3"/>
<circle cx="313.9" cy="157.8" r="2.5"/>
<circle cx="311" cy="156.9" r="2.5"/>
<circle cx="299.4" cy="151.2" r="2.3"/>
<circle cx="308.8" cy="142.1" r="2.9"/>
<circle cx="310" cy="134.4" r="3.1"/>
<circle cx="317.3" cy="128.2" r="2.6"/>
<circle cx="301.4" cy="144.2" r="3.2"/>
<circle cx="299" cy="147.5" r="2.8"/>
<circle cx="303.5" cy="164.1" r="2.5"/>
<circle cx="305.6" cy="158.8" r="2.1"/>
<circle cx="288.7" cy="163.8" r="2.1"/>
<circle cx="301.8" cy="153.6" r="2.6"/>
<circle cx="301.9" cy="170.5" r="2.9"/>
<circle cx="296.5" cy="164.2" r="2.9"/>
<circle cx="317.3" cy="202.3" r="2.6"/>
<circle cx="335.4" cy="142" r="1.9"/>
<circle cx="284.7" cy="177.7" r="2.6"/>
<circle cx="307.7" cy="181.1" r="2"/>
<circle cx="321.5" cy="182.7" r="2.4"/>
<circle cx="308.4" cy="175.3" r="2.7"/>
<circle cx="322.8" cy="190.4" r="1.8"/>
<circle cx="290.2" cy="201.4" r="1.5"/>
<circle cx="305.1" cy="178.3" r="2.4"/>
<circle cx="254.1" cy="177" r="2.8"/>
<circle cx="289" cy="181.6" r="2.6"/>
<circle cx="347" cy="216.4" r="2"/>
<circle cx="299.7" cy="204" r="2.1"/>
<circle cx="312.7" cy="152" r="2.6"/>
<circle cx="297.6" cy="175.2" r="2"/>
<circle cx="291.1" cy="210.1" r="2.8"/>
<circle cx="310.5" cy="189.8" r="2.9"/>
<circle cx="324.2" cy="179.1" r="2.5"/>
<circle cx="303.5" cy="177.4" r="2.4"/>
<circle cx="351.2" cy="185.3" r="2.9"/>
<circle cx="334.1" cy="206.1" r="2.2"/>
<circle cx="312.7" cy="183.5" r="2.3"/>
<circle cx="332.8" cy="214.8" r="2.6"/>
<circle cx="321.1" cy="193.3" r="1.7"/>
<circle cx="276.8" cy="168.8" r="1.6"/>
<circle cx="248" cy="153" r="4.5"/>
<circle cx="222" cy="160" r="3.5"/>
<circle cx="236" cy="161" r="2.5"/>
<circle cx="239" cy="185" r="4.5"/>
<circle cx="237" cy="195" r="3"/>
<circle cx="274" cy="177" r="4.5"/>
<circle cx="262" cy="183" r="4"/>
<circle cx="272" cy="204" r="3.5"/>
<circle cx="284" cy="212" r="3"/>
<circle cx="306" cy="215" r="3"/>
<circle cx="308" cy="200" r="3"/>
<circle cx="331" cy="158" r="4"/>
<circle cx="357" cy="132" r="2.5"/>
<circle cx="361" cy="120" r="2.5"/>
<circle cx="374" cy="121" r="2.5"/>
<circle cx="362" cy="143" r="2"/>
<circle cx="232" cy="74" r="2"/>
<circle cx="206" cy="82" r="2"/>
<circle cx="190" cy="82" r="2"/>
<circle cx="244" cy="57" r="2"/>
<circle cx="277" cy="41" r="2"/>
<circle cx="272" cy="57" r="2"/>
<circle cx="286" cy="51" r="2"/>
<circle cx="306" cy="77" r="2"/>
<circle cx="330" cy="77" r="2"/>
<circle cx="360" cy="88" r="2"/>
<circle cx="380" cy="46" r="2"/>
<circle cx="405" cy="77" r="2"/>
<circle cx="403" cy="143" r="2"/>
<circle cx="321" cy="83" r="3"/>
<circle cx="270" cy="95" r="3"/>
<circle cx="335" cy="155" r="3.5"/>
<circle cx="288.4" cy="157.1" r="2.6"/>
<circle cx="284.4" cy="131.9" r="2.9"/>
<circle cx="295.8" cy="156.6" r="3.7"/>
<circle cx="295" cy="163.6" r="2.8"/>
<circle cx="282.4" cy="142.8" r="3.5"/>
<circle cx="310.3" cy="160.1" r="3.8"/>
<circle cx="277.3" cy="151.9" r="3.4"/>
<circle cx="296.9" cy="157" r="3.7"/>
<circle cx="290.7" cy="150.5" r="2.7"/>
<circle cx="297.1" cy="159.8" r="3.5"/>
<circle cx="285.3" cy="152.6" r="3.9"/>
<circle cx="286.4" cy="160" r="2.8"/>
<circle cx="288" cy="149.6" r="2.7"/>
<circle cx="290.9" cy="153.4" r="3.1"/>
<circle cx="287.2" cy="141.7" r="3.7"/>
<circle cx="289.7" cy="150.5" r="3.6"/>
<circle cx="282.1" cy="157.7" r="4"/>
<circle cx="287" cy="149.1" r="3"/>
<circle cx="286" cy="150.1" r="2.7"/>
<circle cx="283.6" cy="157" r="3.7"/>
<circle cx="294.2" cy="133.4" r="3.7"/>
<circle cx="283.2" cy="156.1" r="2.6"/>
<circle cx="296.4" cy="137.9" r="2.9"/>
<circle cx="286.7" cy="151.1" r="3.7"/>
<circle cx="280.5" cy="156.2" r="3.9"/>
<circle cx="204" cy="282" r="20"/>
<circle cx="195" cy="282" r="12"/>
<circle cx="198" cy="270" r="14"/>
<circle cx="201" cy="274" r="10"/>
<circle cx="1245.1" cy="202.7" r="2.6"/>
<circle cx="1301.3" cy="207" r="2.3"/>
<circle cx="1205.7" cy="244.1" r="3.6"/>
<circle cx="1233.3" cy="239.1" r="4.1"/>
<circle cx="1260.3" cy="227.7" r="3.4"/>
<circle cx="1300.7" cy="196.1" r="2.9"/>
<circle cx="1260.1" cy="173.3" r="2.6"/>
<circle cx="1243.3" cy="233.8" r="3.7"/>
<circle cx="1264.1" cy="237.4" r="4"/>
<circle cx="1252.8" cy="244.1" r="3.1"/>
<circle cx="1275.2" cy="215.5" r="3"/>
<circle cx="1281.2" cy="202.9" r="2.1"/>
<circle cx="1250" cy="202.9" r="4.1"/>
<circle cx="1274" cy="215.2" r="2.8"/>
<circle cx="1243.5" cy="234.3" r="2.3"/>
<circle cx="1263.9" cy="245.4" r="1.9"/>
<circle cx="1207.1" cy="205.9" r="3.6"/>
<circle cx="1177.4" cy="203.1" r="2.5"/>
<circle cx="1273.1" cy="233.1" r="2.4"/>
<circle cx="1307.5" cy="217" r="3.5"/>
<circle cx="1251.3" cy="208.3" r="3"/>
<circle cx="1219.5" cy="231.1" r="2.7"/>
<circle cx="1196.7" cy="223.7" r="1.9"/>
<circle cx="1224.8" cy="217.7" r="4.1"/>
<circle cx="1202.1" cy="212.3" r="2.6"/>
<circle cx="1227" cy="192.8" r="4"/>
<circle cx="1219.2" cy="213.1" r="3.3"/>
<circle cx="1287.1" cy="229.2" r="2.5"/>
<circle cx="1236.9" cy="210.6" r="3.2"/>
<circle cx="1244" cy="224.3" r="2.4"/>
<circle cx="1257.3" cy="205.4" r="3.1"/>
<circle cx="1260.8" cy="171.8" r="2.4"/>
<circle cx="1222" cy="190.5" r="3.7"/>
<circle cx="1220.6" cy="236.8" r="3.7"/>
<circle cx="1239.8" cy="240.8" r="3.3"/>
<circle cx="1253.3" cy="209.2" r="3.4"/>
<circle cx="1243.6" cy="230.3" r="2.9"/>
<circle cx="1214.3" cy="199.4" r="4.1"/>
<circle cx="1258.9" cy="239" r="3"/>
<circle cx="1236.3" cy="260.2" r="2.1"/>
<circle cx="1239.4" cy="225.2" r="3.3"/>
<circle cx="1228.3" cy="209.3" r="4"/>
<circle cx="1226.7" cy="210.9" r="4.1"/>
<circle cx="1255.7" cy="207.6" r="3.9"/>
<circle cx="1259" cy="232.2" r="2.8"/>
<circle cx="1264.3" cy="215.8" r="2.7"/>
<circle cx="1254.7" cy="252.1" r="2.2"/>
<circle cx="1255.8" cy="206.6" r="3.1"/>
<circle cx="1256.9" cy="210.1" r="3.1"/>
<circle cx="1214.1" cy="202.2" r="2.8"/>
<circle cx="1224.1" cy="207.6" r="2.2"/>
<circle cx="1280.9" cy="221.4" r="3.2"/>
<circle cx="1245.4" cy="210" r="3.4"/>
<circle cx="1205" cy="226.4" r="3.8"/>
<circle cx="1208.1" cy="217.7" r="3.3"/>
<circle cx="1276.5" cy="249.3" r="3"/>
<circle cx="1273.2" cy="225.4" r="4.1"/>
<circle cx="1271.3" cy="217.5" r="2.4"/>
<circle cx="1262.6" cy="214.3" r="1.8"/>
<circle cx="1240.6" cy="240.3" r="3.4"/>
<circle cx="1264.7" cy="226.6" r="3.5"/>
<circle cx="1229.6" cy="229.3" r="3.5"/>
<circle cx="1197.4" cy="230.8" r="3"/>
<circle cx="1253.7" cy="200.1" r="4.1"/>
<circle cx="1258.5" cy="193.4" r="3"/>
<circle cx="1217.5" cy="208.9" r="2"/>
<circle cx="1280.8" cy="198.3" r="3.6"/>
<circle cx="1264" cy="202.4" r="4.2"/>
<circle cx="1156.9" cy="228.5" r="2"/>
<circle cx="1211.8" cy="236.2" r="3.8"/>
<circle cx="1187.4" cy="215.9" r="2.7"/>
<circle cx="1216.3" cy="191.2" r="3.2"/>
<circle cx="1283.5" cy="223.4" r="1.8"/>
<circle cx="1235.2" cy="228.4" r="3.6"/>
<circle cx="1263.5" cy="245" r="2"/>
<circle cx="1252.4" cy="246.7" r="4"/>
<circle cx="1277.3" cy="230.8" r="2.8"/>
<circle cx="1231.3" cy="215" r="1.8"/>
<circle cx="1295.6" cy="238" r="3"/>
<circle cx="1227.8" cy="213.7" r="3.4"/>
<circle cx="1252.6" cy="213.4" r="3.6"/>
<circle cx="1270.3" cy="187.5" r="3.1"/>
<circle cx="1237.1" cy="209.3" r="3.6"/>
<circle cx="1237.7" cy="233.6" r="3.3"/>
<circle cx="1269.6" cy="216.6" r="2.2"/>
<circle cx="1250.8" cy="228.1" r="2.8"/>
<circle cx="1242.8" cy="208.9" r="3.1"/>
<circle cx="1233.6" cy="221" r="3.3"/>
<circle cx="1209.2" cy="231.5" r="2.3"/>
<circle cx="1261" cy="207.9" r="2.9"/>
<circle cx="1262.8" cy="226.1" r="3.6"/>
<circle cx="1232" cy="233.3" r="3.1"/>
<circle cx="1268.4" cy="230.8" r="2.6"/>
<circle cx="1221.5" cy="220.5" r="3.8"/>
<circle cx="1253.1" cy="208.9" r="3.7"/>
<circle cx="1255.2" cy="230.5" r="2.9"/>
<circle cx="1259.9" cy="203.7" r="3.3"/>
<circle cx="1249.8" cy="207.7" r="2.9"/>
<circle cx="1255.4" cy="224.7" r="2.4"/>
<circle cx="1244.1" cy="211.7" r="3.8"/>
<circle cx="1232.7" cy="210.3" r="2.2"/>
<circle cx="1228" cy="223.1" r="2.3"/>
<circle cx="1258.1" cy="216.3" r="2.9"/>
<circle cx="1242" cy="229.3" r="2.6"/>
<circle cx="1248.3" cy="214.3" r="2.7"/>
<circle cx="1231.9" cy="210.1" r="2.6"/>
<circle cx="1240" cy="218.4" r="2.6"/>
<circle cx="1223.1" cy="226.1" r="2.9"/>
<circle cx="1227.4" cy="226.9" r="2.6"/>
<circle cx="1236.2" cy="215.5" r="3.2"/>
<circle cx="1225.2" cy="213.8" r="3.7"/>
<circle cx="1256.7" cy="183.6" r="2.5"/>
<circle cx="1259.6" cy="214.3" r="2.7"/>
<circle cx="1214.7" cy="225.5" r="3.9"/>
<circle cx="1249" cy="208.4" r="2.2"/>
<circle cx="1251" cy="235.2" r="3.4"/>
<circle cx="1246.1" cy="218.4" r="4"/>
<circle cx="1242.9" cy="221" r="2.9"/>
<circle cx="1266" cy="230.7" r="3.1"/>
<circle cx="1220.6" cy="200.2" r="2.2"/>
<circle cx="1142.2" cy="187.8" r="3.8"/>
<circle cx="1102.2" cy="157.8" r="3.9"/>
<circle cx="1203.3" cy="131.7" r="4.8"/>
<circle cx="1146.9" cy="148.4" r="2.1"/>
<circle cx="1141.5" cy="135.4" r="3.6"/>
<circle cx="1113.9" cy="154.2" r="2.6"/>
<circle cx="1178.4" cy="127" r="2.4"/>
<circle cx="1160" cy="145.2" r="4.2"/>
<circle cx="1071.9" cy="132.8" r="3.5"/>
<circle cx="1170.2" cy="155.2" r="4.6"/>
<circle cx="1079.3" cy="171.9" r="3.3"/>
<circle cx="1110.9" cy="166.1" r="2.7"/>
<circle cx="1084" cy="129.7" r="2.5"/>
<circle cx="1101.2" cy="171.2" r="3.2"/>
<circle cx="1194.3" cy="152.4" r="2.4"/>
<circle cx="1081.3" cy="98.1" r="2.9"/>
<circle cx="1126.5" cy="169.6" r="3.6"/>
<circle cx="1147.7" cy="148.5" r="2.7"/>
<circle cx="1150.5" cy="139.3" r="4"/>
<circle cx="1129.8" cy="149.3" r="2.1"/>
<circle cx="1134.1" cy="100.8" r="4.1"/>
<circle cx="1115.5" cy="152.1" r="3.6"/>
<circle cx="1151.9" cy="162.4" r="2.1"/>
<circle cx="1094.2" cy="147.7" r="2.9"/>
<circle cx="1132.1" cy="158" r="2.1"/>
<circle cx="1193.6" cy="194.8" r="2.1"/>
<circle cx="1122.6" cy="126.3" r="3.8"/>
<circle cx="1099.6" cy="208.3" r="4.4"/>
<circle cx="1101.9" cy="163.2" r="4.8"/>
<circle cx="1166.2" cy="187.2" r="3.9"/>
<circle cx="1094" cy="138.9" r="3.8"/>
<circle cx="1150.4" cy="159" r="3.1"/>
<circle cx="1132.4" cy="159.2" r="4.1"/>
<circle cx="1083.7" cy="167.2" r="3.2"/>
<circle cx="1152.4" cy="144.1" r="3.5"/>
<circle cx="1079.9" cy="168.1" r="2.4"/>
<circle cx="1096.3" cy="143.1" r="3.9"/>
<circle cx="1134.3" cy="177.4" r="5"/>
<circle cx="1198.2" cy="185.4" r="4.9"/>
<circle cx="1117.5" cy="152.9" r="3.5"/>
<circle cx="1131.4" cy="149.8" r="4.3"/>
<circle cx="1133" cy="139.3" r="3.8"/>
<circle cx="1138.7" cy="158.1" r="3.6"/>
<circle cx="1116.1" cy="180.8" r="3.6"/>
<circle cx="1139.3" cy="199" r="2"/>
<circle cx="1187.8" cy="169.6" r="3.8"/>
<circle cx="1154" cy="171.2" r="2.3"/>
<circle cx="1216.8" cy="154" r="3.9"/>
<circle cx="1122.3" cy="160.7" r="3.8"/>
<circle cx="1166.3" cy="169.3" r="3.1"/>
<circle cx="1149.6" cy="215.6" r="3"/>
<circle cx="1222.4" cy="153.7" r="3.5"/>
<circle cx="1187.9" cy="202.3" r="2"/>
<circle cx="1171" cy="195.1" r="2.5"/>
<circle cx="1184.1" cy="175.3" r="3.8"/>
<circle cx="1225.4" cy="168.8" r="2.3"/>
<circle cx="1171.6" cy="206.4" r="3.2"/>
<circle cx="1185.4" cy="183.2" r="2"/>
<circle cx="1182.8" cy="181.2" r="3.8"/>
<circle cx="1212" cy="235.4" r="2.8"/>
<circle cx="1136" cy="161.9" r="3.6"/>
<circle cx="1151.4" cy="196.3" r="3.5"/>
<circle cx="1179" cy="202" r="3.7"/>
<circle cx="1221.5" cy="159.7" r="2.6"/>
<circle cx="1172.2" cy="192.8" r="3.6"/>
<circle cx="1198.2" cy="188.8" r="1.9"/>
<circle cx="1084.7" cy="202.5" r="2"/>
<circle cx="1179.7" cy="200.8" r="3.3"/>
<circle cx="1168.5" cy="194.7" r="3.3"/>
<circle cx="1194.6" cy="178" r="1.9"/>
<circle cx="1121.5" cy="210.7" r="1.9"/>
<circle cx="1207.9" cy="207" r="3.5"/>
<circle cx="1171.3" cy="186.8" r="3"/>
<circle cx="1189.5" cy="189.6" r="1.9"/>
<circle cx="1192.9" cy="181.4" r="2.8"/>
<circle cx="1285.8" cy="195.9" r="2.5"/>
<circle cx="1287" cy="186.4" r="2.1"/>
<circle cx="1216.9" cy="193.9" r="3.2"/>
<circle cx="1284.2" cy="204.2" r="1.9"/>
<circle cx="1276.8" cy="205" r="3.4"/>
<circle cx="1273.4" cy="223.3" r="3.3"/>
<circle cx="1249.6" cy="216.5" r="2.1"/>
<circle cx="1249.7" cy="213.2" r="2.6"/>
<circle cx="1295.6" cy="232.3" r="2.4"/>
<circle cx="1294.8" cy="198.2" r="3.2"/>
<circle cx="1301.3" cy="220.8" r="3.4"/>
<circle cx="1265.6" cy="193.9" r="3.5"/>
<circle cx="1316.3" cy="199.1" r="2.2"/>
<circle cx="1303.3" cy="216" r="2"/>
<circle cx="1303.6" cy="212.1" r="3.4"/>
<circle cx="1186" cy="44" r="2"/>
<circle cx="1200" cy="78" r="2.5"/>
<circle cx="1113" cy="93" r="3"/>
<circle cx="1144" cy="96" r="2.5"/>
<circle cx="1109" cy="124" r="5"/>
<circle cx="1137" cy="124" r="3.5"/>
<circle cx="1144" cy="119" r="3.5"/>
<circle cx="1155" cy="118" r="2.5"/>
<circle cx="1080" cy="137" r="3"/>
<circle cx="1092" cy="139" r="2.5"/>
<circle cx="1140" cy="141" r="3.5"/>
<circle cx="1118" cy="149" r="4"/>
<circle cx="1079" cy="160" r="3"/>
<circle cx="1083" cy="164" r="3"/>
<circle cx="1089" cy="169" r="4"/>
<circle cx="1099" cy="161" r="2.5"/>
<circle cx="1124" cy="164" r="3.5"/>
<circle cx="1143" cy="166" r="5"/>
<circle cx="1148" cy="160" r="4"/>
<circle cx="1194" cy="162" r="3.5"/>
<circle cx="1209" cy="170" r="2"/>
<circle cx="1219" cy="146" r="2.5"/>
<circle cx="1252" cy="163" r="2"/>
<circle cx="1112" cy="191" r="4.5"/>
<circle cx="1103" cy="203" r="2.5"/>
<circle cx="1118" cy="208" r="3"/>
<circle cx="1178" cy="193" r="3"/>
<circle cx="1145" cy="198" r="4.5"/>
<circle cx="1188.8" cy="240.1" r="10.7"/>
<circle cx="1173" cy="212" r="3.5"/>
<circle cx="1151" cy="221" r="3.5"/>
<circle cx="1213" cy="258" r="2.5"/>
<circle cx="1222" cy="244" r="4"/>
<circle cx="1225" cy="272" r="2.5"/>
<circle cx="1221" cy="266" r="2.5"/>
<circle cx="1312" cy="200" r="2"/>
<circle cx="1317" cy="204" r="2"/>
<circle cx="1291" cy="213" r="3"/>
<circle cx="1297" cy="205" r="2"/>
</g>
<g fill="#5a5a5a" fill-opacity="0.18" stroke-width="1.3" stroke-opacity="0.85">
<circle cx="275.5" cy="131.9" r="5" stroke="#A466BC"/>
<circle cx="293.9" cy="127.3" r="4.5" stroke="#A466BC"/>
<circle cx="305" cy="130.6" r="2.5" stroke="#A466BC"/>
<circle cx="295.8" cy="110.2" r="2.5" stroke="#A466BC"/>
<circle cx="314.9" cy="136.5" r="5" stroke="#A466BC"/>
<circle cx="331.4" cy="133.2" r="2.5" stroke="#A466BC"/>
<circle cx="339.9" cy="157.6" r="2.5" stroke="#A466BC"/>
<circle cx="262.3" cy="154.3" r="4.5" stroke="#A466BC"/>
<circle cx="272.8" cy="154.3" r="4.5" stroke="#A466BC"/>
<circle cx="300.5" cy="164.1" r="4.5" stroke="#A466BC"/>
<circle cx="312.3" cy="156.2" r="4" stroke="#A466BC"/>
<circle cx="249.2" cy="189.8" r="2" stroke="#A466BC"/>
<circle cx="299.8" cy="183.9" r="2.5" stroke="#A466BC"/>
<circle cx="272.8" cy="140.5" r="4" stroke="#A466BC"/>
<circle cx="313" cy="142" r="5" stroke="#A466BC"/>
<circle cx="282" cy="158" r="4" stroke="#A466BC"/>
<circle cx="309" cy="150" r="4" stroke="#A466BC"/>
<circle cx="312.8" cy="141.7" r="4.1" stroke="#A466BC"/>
<circle cx="286.2" cy="144.6" r="4.5" stroke="#A466BC"/>
<circle cx="286.1" cy="153.1" r="4.9" stroke="#A466BC"/>
<circle cx="295.6" cy="154.2" r="4.9" stroke="#A466BC"/>
<circle cx="293.5" cy="151" r="5.3" stroke="#A466BC"/>
<circle cx="297.4" cy="154.9" r="3.8" stroke="#A466BC"/>
<circle cx="292.5" cy="155.4" r="4.3" stroke="#A466BC"/>
<circle cx="300.4" cy="154.6" r="3.1" stroke="#A466BC"/>
<circle cx="297.7" cy="150.6" r="3.6" stroke="#A466BC"/>
<circle cx="289.4" cy="153.6" r="5.1" stroke="#A466BC"/>
<circle cx="288.1" cy="140.4" r="4.9" stroke="#A466BC"/>
<circle cx="290.3" cy="141.6" r="4.5" stroke="#A466BC"/>
<circle cx="292.7" cy="138.1" r="4.9" stroke="#A466BC"/>
<circle cx="280.7" cy="134.4" r="3.7" stroke="#A466BC"/>
<circle cx="282.6" cy="128.7" r="4.3" stroke="#A466BC"/>
<circle cx="296" cy="146" r="4.8" stroke="#A466BC"/>
<circle cx="291.7" cy="161.3" r="4.1" stroke="#A466BC"/>
<circle cx="287.1" cy="146.7" r="3.6" stroke="#A466BC"/>
<circle cx="300.6" cy="139.4" r="4.6" stroke="#A466BC"/>
<circle cx="298" cy="152.4" r="5.4" stroke="#A466BC"/>
<circle cx="295.9" cy="157.5" r="4.7" stroke="#A466BC"/>
<circle cx="282.9" cy="147.3" r="5.4" stroke="#A466BC"/>
<circle cx="294.2" cy="142.2" r="4.1" stroke="#A466BC"/>
<circle cx="282.4" cy="153.9" r="4.7" stroke="#A466BC"/>
<circle cx="292.2" cy="160.3" r="4.1" stroke="#A466BC"/>
<circle cx="299.6" cy="148.6" r="3.9" stroke="#A466BC"/>
<circle cx="296.9" cy="159.3" r="5.5" stroke="#A466BC"/>
<circle cx="303.2" cy="143.3" r="5.1" stroke="#A466BC"/>
<circle cx="282.4" cy="148.6" r="5.2" stroke="#A466BC"/>
<circle cx="300.1" cy="150.8" r="3.9" stroke="#A466BC"/>
<circle cx="196" cy="266" r="29" stroke="#8679C6"/>
<circle cx="199.4" cy="280.4" r="34" stroke="#8679C6"/>
<circle cx="197" cy="272" r="27" stroke="#8679C6"/>
<circle cx="202" cy="270" r="25" stroke="#8679C6"/>
<circle cx="195" cy="276" r="22" stroke="#8679C6"/>
<circle cx="201" cy="278" r="20" stroke="#8679C6"/>
<circle cx="1205.8" cy="228.3" r="5.5" stroke="#7BBF4C"/>
<circle cx="1231.4" cy="192.8" r="2.2" stroke="#A466BC"/>
<circle cx="1291" cy="208.1" r="2.2" stroke="#A466BC"/>
</g>
<g fill="#8679C6" fill-opacity="0.32">
<circle cx="200" cy="271" r="16"/>
<circle cx="196" cy="266" r="11"/>
<circle cx="205" cy="276" r="11"/>
<circle cx="197" cy="278" r="10"/>
<circle cx="204" cy="265" r="9"/>
</g>
<g fill="#A466BC" fill-opacity="0.4">
<circle cx="293" cy="150" r="9"/>
<circle cx="288" cy="147" r="7"/>
<circle cx="298" cy="154" r="7"/>
<circle cx="296" cy="145" r="6"/>
<circle cx="290" cy="156" r="6"/>
</g>
<g fill="none" stroke="#8679C6" stroke-width="1" stroke-opacity="0.9">
<circle cx="200" cy="271" r="12"/>
<circle cx="199" cy="268" r="9"/>
<circle cx="202" cy="274" r="7"/>
<circle cx="198" cy="273" r="5"/>
<circle cx="201" cy="270" r="15"/>
</g>
<circle cx="1157.5" cy="266.2" r="35.5" fill="#a29dd6" stroke="#9a94d4" stroke-width="1.2"/>
<circle cx="1158" cy="266" r="20" fill="#8f89c8"/>
<g fill="none" stroke="#b9b5e3" stroke-width="1">
<circle cx="1158" cy="266" r="31"/>
<circle cx="1158" cy="266" r="27"/>
<circle cx="1158" cy="266" r="22"/>
<circle cx="1158" cy="266" r="18"/>
</g>
<g fill="none" stroke="#1c1c50" stroke-width="1.6" stroke-dasharray="3 4">
<circle cx="1158" cy="266" r="18"/>
<circle cx="1159" cy="265" r="13"/>
<circle cx="1157" cy="267" r="9"/>
<circle cx="1158" cy="265" r="5"/>
</g>
<path d="M624.6 290.7 L580 312.6 L560.4 361.1 L565.8 423.8 L621.7 428.6 L641.5 369.6 L654.2 330.4 Z" fill="none" stroke="#7a1414" stroke-width="2.6" stroke-dasharray="8 5"/>
<circle cx="624.6" cy="290.7" r="2.6" fill="#000"/>
<circle cx="580" cy="312.6" r="2.6" fill="#000"/>
<circle cx="560.4" cy="361.1" r="2.6" fill="#000"/>
<circle cx="565.8" cy="423.8" r="2.6" fill="#000"/>
<circle cx="621.7" cy="428.6" r="2.6" fill="#000"/>
<circle cx="641.5" cy="369.6" r="2.6" fill="#000"/>
<circle cx="654.2" cy="330.4" r="2.6" fill="#000"/>
<path d="M184.2 254.5 L205.2 249 L217.4 277.8 L210.1 301 L185.8 302.6 L176.9 277.5 Z" fill="none" stroke="#8a1818" stroke-width="2" stroke-dasharray="5 4"/>
<circle cx="184.2" cy="254.5" r="1.8" fill="#000"/>
<circle cx="205.2" cy="249" r="1.8" fill="#000"/>
<circle cx="217.4" cy="277.8" r="1.8" fill="#000"/>
<circle cx="210.1" cy="301" r="1.8" fill="#000"/>
<circle cx="185.8" cy="302.6" r="1.8" fill="#000"/>
<circle cx="176.9" cy="277.5" r="1.8" fill="#000"/>
<path d="M1152.6 243.4 L1186.9 250.2 L1192 270.3 L1176.9 296.9 L1144.3 295.7 L1131.6 270.9 Z" fill="none" stroke="#8a1818" stroke-width="2" stroke-dasharray="5 4"/>
<circle cx="1152.6" cy="243.4" r="1.8" fill="#000"/>
<circle cx="1186.9" cy="250.2" r="1.8" fill="#000"/>
<circle cx="1192" cy="270.3" r="1.8" fill="#000"/>
<circle cx="1176.9" cy="296.9" r="1.8" fill="#000"/>
<circle cx="1144.3" cy="295.7" r="1.8" fill="#000"/>
<circle cx="1131.6" cy="270.9" r="1.8" fill="#000"/>
<path d="M1303.4 453 L1379.4 461.5 L1364.5 512.6 L1303.7 556.6 L1277.5 508.1 Z" fill="none" stroke="#7a1414" stroke-width="2.6" stroke-dasharray="8 5"/>
<circle cx="1303.4" cy="453" r="2.6" fill="#000"/>
<circle cx="1379.4" cy="461.5" r="2.6" fill="#000"/>
<circle cx="1364.5" cy="512.6" r="2.6" fill="#000"/>
<circle cx="1303.7" cy="556.6" r="2.6" fill="#000"/>
<circle cx="1277.5" cy="508.1" r="2.6" fill="#000"/>
<path d="M81 8 V844.5 H900" fill="none" stroke="#000" stroke-width="4" stroke-linejoin="miter"/>
<line x1="74" y1="45.5" x2="81" y2="45.5" stroke="#000" stroke-width="3.6"/>
<text x="65.6" y="52.3" font-size="24" text-anchor="end" font-weight="normal" fill="#000">50</text>
<line x1="74" y1="197.3" x2="81" y2="197.3" stroke="#000" stroke-width="3.6"/>
<text x="65.6" y="204.1" font-size="24" text-anchor="end" font-weight="normal" fill="#000">25</text>
<line x1="74" y1="349.2" x2="81" y2="349.2" stroke="#000" stroke-width="3.6"/>
<text x="65.6" y="356" font-size="24" text-anchor="end" font-weight="normal" fill="#000">10</text>
<line x1="74" y1="501" x2="81" y2="501" stroke="#000" stroke-width="3.6"/>
<text x="65.6" y="507.8" font-size="24" text-anchor="end" font-weight="normal" fill="#000">5</text>
<line x1="74" y1="652.9" x2="81" y2="652.9" stroke="#000" stroke-width="3.6"/>
<text x="65.6" y="659.7" font-size="24" text-anchor="end" font-weight="normal" fill="#000">2</text>
<line x1="74" y1="804.7" x2="81" y2="804.7" stroke="#000" stroke-width="3.6"/>
<text x="65.6" y="811.5" font-size="24" text-anchor="end" font-weight="normal" fill="#000">1</text>
<line x1="118.5" y1="844" x2="118.5" y2="850" stroke="#000" stroke-width="4"/>
<text x="118.5" y="878.4" font-size="24" text-anchor="middle" font-weight="normal" fill="#000">1</text>
<line x1="267" y1="844" x2="267" y2="850" stroke="#000" stroke-width="4"/>
<text x="267" y="878.4" font-size="24" text-anchor="middle" font-weight="normal" fill="#000">2</text>
<line x1="415.5" y1="844" x2="415.5" y2="850" stroke="#000" stroke-width="4"/>
<text x="415.5" y="878.4" font-size="24" text-anchor="middle" font-weight="normal" fill="#000">5</text>
<line x1="564" y1="844" x2="564" y2="850" stroke="#000" stroke-width="4"/>
<text x="564" y="878.4" font-size="24" text-anchor="middle" font-weight="normal" fill="#000">10</text>
<line x1="712.5" y1="844" x2="712.5" y2="850" stroke="#000" stroke-width="4"/>
<text x="712.5" y="878.4" font-size="24" text-anchor="middle" font-weight="normal" fill="#000">25</text>
<line x1="861" y1="844" x2="861" y2="850" stroke="#000" stroke-width="4"/>
<text x="861" y="878.4" font-size="24" text-anchor="middle" font-weight="normal" fill="#000">50</text>
<text x="491" y="906.9" font-size="24" text-anchor="middle" font-weight="normal" fill="#000">Coverage (CTAB)</text>
<text x="31.9" y="425.2" font-size="24" text-anchor="middle" font-weight="normal" fill="#000" transform="rotate(-90 31.9 425.2)">Coverage (Kit)</text>
<path d="M983 8 V844.5 H1802" fill="none" stroke="#000" stroke-width="4" stroke-linejoin="miter"/>
<line x1="976" y1="45.5" x2="983" y2="45.5" stroke="#000" stroke-width="3.6"/>
<text x="967.6" y="52.3" font-size="24" text-anchor="end" font-weight="normal" fill="#000">50</text>
<line x1="976" y1="197.3" x2="983" y2="197.3" stroke="#000" stroke-width="3.6"/>
<text x="967.6" y="204.1" font-size="24" text-anchor="end" font-weight="normal" fill="#000">25</text>
<line x1="976" y1="349.2" x2="983" y2="349.2" stroke="#000" stroke-width="3.6"/>
<text x="967.6" y="356" font-size="24" text-anchor="end" font-weight="normal" fill="#000">10</text>
<line x1="976" y1="501" x2="983" y2="501" stroke="#000" stroke-width="3.6"/>
<text x="967.6" y="507.8" font-size="24" text-anchor="end" font-weight="normal" fill="#000">5</text>
<line x1="976" y1="652.9" x2="983" y2="652.9" stroke="#000" stroke-width="3.6"/>
<text x="967.6" y="659.7" font-size="24" text-anchor="end" font-weight="normal" fill="#000">2</text>
<line x1="976" y1="804.7" x2="983" y2="804.7" stroke="#000" stroke-width="3.6"/>
<text x="967.6" y="811.5" font-size="24" text-anchor="end" font-weight="normal" fill="#000">1</text>
<line x1="1020.5" y1="844" x2="1020.5" y2="850" stroke="#000" stroke-width="4"/>
<text x="1020.5" y="878.4" font-size="24" text-anchor="middle" font-weight="normal" fill="#000">1</text>
<line x1="1169" y1="844" x2="1169" y2="850" stroke="#000" stroke-width="4"/>
<text x="1169" y="878.4" font-size="24" text-anchor="middle" font-weight="normal" fill="#000">2</text>
<line x1="1317.5" y1="844" x2="1317.5" y2="850" stroke="#000" stroke-width="4"/>
<text x="1317.5" y="878.4" font-size="24" text-anchor="middle" font-weight="normal" fill="#000">5</text>
<line x1="1466" y1="844" x2="1466" y2="850" stroke="#000" stroke-width="4"/>
<text x="1466" y="878.4" font-size="24" text-anchor="middle" font-weight="normal" fill="#000">10</text>
<line x1="1614.5" y1="844" x2="1614.5" y2="850" stroke="#000" stroke-width="4"/>
<text x="1614.5" y="878.4" font-size="24" text-anchor="middle" font-weight="normal" fill="#000">25</text>
<line x1="1763" y1="844" x2="1763" y2="850" stroke="#000" stroke-width="4"/>
<text x="1763" y="878.4" font-size="24" text-anchor="middle" font-weight="normal" fill="#000">50</text>
<text x="1393" y="906.9" font-size="24" text-anchor="middle" font-weight="normal" fill="#000">Coverage (CTAB)</text>
<text x="933.9" y="425.2" font-size="24" text-anchor="middle" font-weight="normal" fill="#000" transform="rotate(-90 933.9 425.2)">Coverage (Kit)</text>
<path d="M164.2 31 V314.6 H427.4" fill="none" stroke="#000" stroke-width="2"/>
<line x1="174.8" y1="315.5" x2="174.8" y2="321.5" stroke="#000" stroke-width="1.7"/>
<text x="174.8" y="344.5" font-size="20" text-anchor="middle" font-weight="normal" fill="#000">−0.2</text>
<line x1="224.9" y1="315.5" x2="224.9" y2="321.5" stroke="#000" stroke-width="1.7"/>
<text x="224.9" y="344.5" font-size="20" text-anchor="middle" font-weight="normal" fill="#000">−0.1</text>
<line x1="275.1" y1="315.5" x2="275.1" y2="321.5" stroke="#000" stroke-width="1.7"/>
<text x="275.1" y="344.5" font-size="20" text-anchor="middle" font-weight="normal" fill="#000">0.0</text>
<line x1="325.2" y1="315.5" x2="325.2" y2="321.5" stroke="#000" stroke-width="1.7"/>
<text x="325.2" y="344.5" font-size="20" text-anchor="middle" font-weight="normal" fill="#000">0.1</text>
<line x1="375.4" y1="315.5" x2="375.4" y2="321.5" stroke="#000" stroke-width="1.7"/>
<text x="375.4" y="344.5" font-size="20" text-anchor="middle" font-weight="normal" fill="#000">0.2</text>
<line x1="425.5" y1="315.5" x2="425.5" y2="321.5" stroke="#000" stroke-width="1.7"/>
<text x="425.5" y="344.5" font-size="20" text-anchor="middle" font-weight="normal" fill="#000">0.3</text>
<line x1="157.2" y1="49.4" x2="164.2" y2="49.4" stroke="#000" stroke-width="1.7"/>
<text x="151.2" y="55" font-size="20" text-anchor="end" font-weight="normal" fill="#000">0.1</text>
<line x1="157.2" y1="133.6" x2="164.2" y2="133.6" stroke="#000" stroke-width="1.7"/>
<text x="151.2" y="139.2" font-size="20" text-anchor="end" font-weight="normal" fill="#000">0.0</text>
<line x1="157.2" y1="217.8" x2="164.2" y2="217.8" stroke="#000" stroke-width="1.7"/>
<text x="151.2" y="223.4" font-size="20" text-anchor="end" font-weight="normal" fill="#000">−0.1</text>
<line x1="157.2" y1="302" x2="164.2" y2="302" stroke="#000" stroke-width="1.7"/>
<text x="151.2" y="307.6" font-size="20" text-anchor="end" font-weight="normal" fill="#000">−0.2</text>
<text x="296" y="368.3" font-size="20" text-anchor="middle" font-weight="normal" fill="#000">PC2</text>
<text x="117.5" y="173" font-size="20" text-anchor="middle" font-weight="normal" fill="#000" transform="rotate(-90 117.5 173)">PC3</text>
<path d="M1066.2 31 V314.6 H1329.6" fill="none" stroke="#000" stroke-width="2"/>
<line x1="1082.8" y1="315.5" x2="1082.8" y2="321.5" stroke="#000" stroke-width="1.7"/>
<text x="1082.8" y="344.5" font-size="20" text-anchor="middle" font-weight="normal" fill="#000">−0.3</text>
<line x1="1123.8" y1="315.5" x2="1123.8" y2="321.5" stroke="#000" stroke-width="1.7"/>
<text x="1123.8" y="344.5" font-size="20" text-anchor="middle" font-weight="normal" fill="#000">−0.2</text>
<line x1="1164.8" y1="315.5" x2="1164.8" y2="321.5" stroke="#000" stroke-width="1.7"/>
<text x="1164.8" y="344.5" font-size="20" text-anchor="middle" font-weight="normal" fill="#000">−0.1</text>
<line x1="1205.9" y1="315.5" x2="1205.9" y2="321.5" stroke="#000" stroke-width="1.7"/>
<text x="1205.9" y="344.5" font-size="20" text-anchor="middle" font-weight="normal" fill="#000">0.0</text>
<line x1="1246.9" y1="315.5" x2="1246.9" y2="321.5" stroke="#000" stroke-width="1.7"/>
<text x="1246.9" y="344.5" font-size="20" text-anchor="middle" font-weight="normal" fill="#000">0.1</text>
<line x1="1287.9" y1="315.5" x2="1287.9" y2="321.5" stroke="#000" stroke-width="1.7"/>
<text x="1287.9" y="344.5" font-size="20" text-anchor="middle" font-weight="normal" fill="#000">0.2</text>
<line x1="1328.9" y1="315.5" x2="1328.9" y2="321.5" stroke="#000" stroke-width="1.7"/>
<text x="1328.9" y="344.5" font-size="20" text-anchor="middle" font-weight="normal" fill="#000">0.3</text>
<line x1="1059.2" y1="51.2" x2="1066.2" y2="51.2" stroke="#000" stroke-width="1.7"/>
<text x="1053.2" y="56.8" font-size="20" text-anchor="end" font-weight="normal" fill="#000">0.4</text>
<line x1="1059.2" y1="127.7" x2="1066.2" y2="127.7" stroke="#000" stroke-width="1.7"/>
<text x="1053.2" y="133.3" font-size="20" text-anchor="end" font-weight="normal" fill="#000">0.2</text>
<line x1="1059.2" y1="204.1" x2="1066.2" y2="204.1" stroke="#000" stroke-width="1.7"/>
<text x="1053.2" y="209.7" font-size="20" text-anchor="end" font-weight="normal" fill="#000">0.0</text>
<line x1="1059.2" y1="280.8" x2="1066.2" y2="280.8" stroke="#000" stroke-width="1.7"/>
<text x="1053.2" y="286.4" font-size="20" text-anchor="end" font-weight="normal" fill="#000">−0.2</text>
<text x="1197.8" y="368.3" font-size="20" text-anchor="middle" font-weight="normal" fill="#000">PC2</text>
<text x="1019.5" y="172.3" font-size="20" text-anchor="middle" font-weight="normal" fill="#000" transform="rotate(-90 1019.5 172.3)">PC3</text>
<g>
<circle cx="697.2" cy="971.8" r="19.2" fill="#dfe0e2" stroke="#8885c0" stroke-width="1.2"/>
<circle cx="639.9" cy="1022.5" r="9" fill="#dfe0e2" stroke="#8885c0" stroke-width="1.2"/>
<circle cx="565.3" cy="1087.8" r="8.5" fill="#dfe0e2" stroke="#8885c0" stroke-width="1.2"/>
<circle cx="463.5" cy="1175.5" r="14.5" fill="#dfe0e2" stroke="#8885c0" stroke-width="1.2"/>
<circle cx="383.5" cy="1184.1" r="32.3" fill="#dfe0e2" stroke="#8885c0" stroke-width="1.2"/>
<circle cx="300.6" cy="1214.6" r="12.2" fill="#dfe0e2" stroke="#8885c0" stroke-width="1.2"/>
<circle cx="400.9" cy="1237" r="16.5" fill="#dfe0e2" stroke="#8885c0" stroke-width="1.2"/>
<circle cx="430.2" cy="1255" r="6" fill="#dcdddd"/>
<circle cx="228.4" cy="1288.3" r="4.6" fill="#dfe0e2" stroke="#8885c0" stroke-width="1.2"/>
<circle cx="257.9" cy="1329.3" r="11" fill="#dfe0e2" stroke="#8885c0" stroke-width="1.2"/>
<circle cx="328.6" cy="1319.9" r="11.6" fill="#dcdddd"/>
<circle cx="365.3" cy="1334.6" r="4.1" fill="#dfe0e2" stroke="#8885c0" stroke-width="1.2"/>
<circle cx="316" cy="1369.8" r="10" fill="#dcdddd"/>
<circle cx="283.8" cy="1383" r="26.9" fill="#dfe0e2" stroke="#8885c0" stroke-width="1.2"/>
<circle cx="239.2" cy="1427.2" r="25.6" fill="#dfe0e2" stroke="#8885c0" stroke-width="1.2"/>
<circle cx="191.5" cy="1449.3" r="11" fill="#dfe0e2" stroke="#8885c0" stroke-width="1.2"/>
<circle cx="141.6" cy="1509.2" r="10.1" fill="#dfe0e2" stroke="#8885c0" stroke-width="1.2"/>
</g><g stroke="#939393" stroke-linecap="butt" stroke-linejoin="round" fill="none">
<line x1="141.6" y1="1509.2" x2="191.5" y2="1449.3" stroke-width="3"/>
<line x1="191.5" y1="1449.3" x2="239.2" y2="1427.2" stroke-width="3.2"/>
<line x1="239.2" y1="1427.2" x2="283.8" y2="1383" stroke-width="3.5"/>
<line x1="283.8" y1="1383" x2="316" y2="1369.8" stroke-width="3"/>
<line x1="316" y1="1369.8" x2="365.3" y2="1334.6" stroke-width="2.5"/>
<line x1="365.3" y1="1334.6" x2="430.2" y2="1255" stroke-width="3"/>
<line x1="430.2" y1="1255" x2="463.5" y2="1175.5" stroke-width="2.2"/>
<line x1="430.2" y1="1255" x2="400.9" y2="1237" stroke-width="3"/>
<line x1="400.9" y1="1237" x2="383.5" y2="1184.1" stroke-width="3"/>
<line x1="383.5" y1="1184.1" x2="463.5" y2="1175.5" stroke-width="1.2"/>
<line x1="383.5" y1="1184.1" x2="300.6" y2="1214.6" stroke-width="3"/>
<line x1="383.5" y1="1184.1" x2="378.1" y2="1214.6" stroke-width="2"/>
<line x1="300.6" y1="1214.6" x2="378.1" y2="1214.6" stroke-width="2"/>
<line x1="378.1" y1="1214.6" x2="463.5" y2="1175.5" stroke-width="2"/>
<line x1="378.1" y1="1214.6" x2="430.2" y2="1255" stroke-width="2.5"/>
<line x1="378.1" y1="1214.6" x2="304.2" y2="1260.7" stroke-width="1.2"/>
<line x1="304.2" y1="1260.7" x2="257.9" y2="1329.3" stroke-width="1.2"/>
<line x1="463.5" y1="1175.5" x2="328.6" y2="1319.9" stroke-width="2.5"/>
<line x1="300.6" y1="1214.6" x2="228.4" y2="1288.3" stroke-width="2.6"/>
<line x1="228.4" y1="1288.3" x2="192.8" y2="1320.8" stroke-width="2.6"/>
<line x1="228.4" y1="1288.3" x2="195" y2="1341" stroke-width="1.2"/>
<line x1="228.4" y1="1288.3" x2="254.3" y2="1364.5" stroke-width="2"/>
<line x1="192.8" y1="1320.8" x2="195" y2="1341" stroke-width="3"/>
<line x1="192.8" y1="1320.8" x2="257.9" y2="1329.3" stroke-width="1.3"/>
<line x1="192.8" y1="1320.8" x2="254.3" y2="1364.5" stroke-width="2"/>
<line x1="195" y1="1341" x2="257.9" y2="1329.3" stroke-width="3.2"/>
<line x1="195" y1="1341" x2="254.3" y2="1364.5" stroke-width="2"/>
<line x1="257.9" y1="1329.3" x2="283.8" y2="1383" stroke-width="3"/>
<line x1="257.9" y1="1329.3" x2="316" y2="1369.8" stroke-width="2.6"/>
<line x1="254.3" y1="1364.5" x2="328.6" y2="1319.9" stroke-width="2"/>
<line x1="254.3" y1="1364.5" x2="365.3" y2="1334.6" stroke-width="2"/>
<line x1="254.3" y1="1364.5" x2="316" y2="1369.8" stroke-width="2"/>
<line x1="254.3" y1="1364.5" x2="191.5" y2="1449.3" stroke-width="1.2"/>
<line x1="254.3" y1="1364.5" x2="239.2" y2="1427.2" stroke-width="1.2"/>
<line x1="283.8" y1="1383" x2="328.6" y2="1319.9" stroke-width="2.2"/>
<line x1="463.5" y1="1175.5" x2="565.3" y2="1087.8" stroke-width="3"/>
<line x1="463.5" y1="1175.5" x2="526.8" y2="1128" stroke-width="1.6"/>
<line x1="526.8" y1="1128" x2="565.3" y2="1087.8" stroke-width="1.6"/>
<line x1="565.3" y1="1087.8" x2="639.9" y2="1022.5" stroke-width="2"/>
<line x1="565.3" y1="1087.8" x2="596.9" y2="1034" stroke-width="2"/>
<line x1="565.3" y1="1087.8" x2="631.9" y2="1057.1" stroke-width="2"/>
<line x1="639.9" y1="1022.5" x2="596.9" y2="1034" stroke-width="2"/>
<line x1="639.9" y1="1022.5" x2="631.9" y2="1057.1" stroke-width="2"/>
<line x1="596.9" y1="1034" x2="631.9" y2="1057.1" stroke-width="2"/>
<line x1="639.9" y1="1022.5" x2="697.2" y2="971.8" stroke-width="3"/>
</g>
<g>
<circle cx="1190.6" cy="988.6" r="4" fill="#dcdddd"/>
<circle cx="1217.2" cy="1002.4" r="15.8" fill="#dcdddd"/>
<circle cx="1258.1" cy="1002" r="8.3" fill="#dfe0e2" stroke="#8885c0" stroke-width="1.2"/>
<circle cx="1175.4" cy="1020.2" r="19.7" fill="#dcdddd"/>
<circle cx="1277.4" cy="1037.9" r="5" fill="#dcdddd"/>
<circle cx="1370.6" cy="995.8" r="22" fill="#dfe0e2" stroke="#8885c0" stroke-width="1.2"/>
<circle cx="1387.9" cy="971.8" r="3" fill="#dcdddd"/>
<circle cx="1412.5" cy="995.1" r="6" fill="#dcdddd"/>
<circle cx="1342.2" cy="1024.9" r="14.3" fill="#dfe0e2" stroke="#8885c0" stroke-width="1.2"/>
<circle cx="1135.4" cy="1041.9" r="3" fill="#dcdddd"/>
<circle cx="1158.1" cy="1052.7" r="4" fill="#dcdddd"/>
<circle cx="1134" cy="1084.3" r="18.2" fill="#dcdddd"/>
<circle cx="1334.6" cy="1073" r="6" fill="#dcdddd"/>
<circle cx="1304" cy="1081.3" r="4" fill="#dcdddd"/>
<circle cx="1377" cy="1102" r="6" fill="#dcdddd"/>
<circle cx="1422.4" cy="1094.1" r="9.9" fill="#dcdddd"/>
<circle cx="1109.2" cy="1123.3" r="17.3" fill="#dcdddd"/>
<circle cx="1174.8" cy="1118.8" r="9.9" fill="#dcdddd"/>
<circle cx="1230" cy="1123.7" r="10.8" fill="#dcdddd"/>
<circle cx="1281.9" cy="1133.6" r="30.2" fill="#dfe0e2" stroke="#8885c0" stroke-width="1.2"/>
<circle cx="1342.5" cy="1131.4" r="32.2" fill="#dfe0e2" stroke="#8885c0" stroke-width="1.2"/>
<circle cx="1143.3" cy="1139.5" r="13" fill="#dcdddd"/>
<circle cx="1066.7" cy="1148.8" r="14.1" fill="#dfe0e2" stroke="#8885c0" stroke-width="1.2"/>
<circle cx="1384.5" cy="1157.2" r="25.8" fill="#dfe0e2" stroke="#8885c0" stroke-width="1.2"/>
<circle cx="1133.2" cy="1173.3" r="4" fill="#dcdddd"/>
<circle cx="1165" cy="1184.5" r="15.8" fill="#dfe0e2" stroke="#8885c0" stroke-width="1.2"/>
<circle cx="1053.1" cy="1189.2" r="6" fill="#dcdddd"/>
<circle cx="1191.6" cy="1222.3" r="10.8" fill="#dcdddd"/>
<circle cx="1389.9" cy="1202.8" r="5.5" fill="#dcdddd"/>
<circle cx="1058" cy="1238.6" r="3" fill="#dfe0e2" stroke="#8885c0" stroke-width="1.2"/>
<circle cx="1401.2" cy="1240.4" r="2" fill="#dcdddd"/>
<circle cx="1454.6" cy="1009.7" r="7" fill="#dcdddd"/>
<circle cx="1491" cy="1031.6" r="13.4" fill="#dfe0e2" stroke="#8885c0" stroke-width="1.2"/>
<circle cx="1505.5" cy="1065.3" r="13.6" fill="#dfe0e2" stroke="#8885c0" stroke-width="1.2"/>
<circle cx="1472.7" cy="1091.8" r="15.3" fill="#dfe0e2" stroke="#8885c0" stroke-width="1.2"/>
<circle cx="1431" cy="1130" r="10.5" fill="#dcdddd"/>
<circle cx="1468.2" cy="1124.7" r="10.3" fill="#dcdddd"/>
<circle cx="1502.3" cy="1154.3" r="26.4" fill="#dfe0e2" stroke="#8885c0" stroke-width="1.2"/>
<circle cx="1525" cy="1190.8" r="6" fill="#dcdddd"/>
<circle cx="1553" cy="1225.6" r="16.8" fill="#dfe0e2" stroke="#8885c0" stroke-width="1.2"/>
<circle cx="1569" cy="1261.6" r="9.7" fill="#dcdddd"/>
<circle cx="1586.1" cy="1139.5" r="3" fill="#dcdddd"/>
<circle cx="1598.3" cy="1174.6" r="7" fill="#dcdddd"/>
<circle cx="1427.6" cy="1231.6" r="5" fill="#dcdddd"/>
<circle cx="1042.6" cy="1259.1" r="4.2" fill="#dfe0e2" stroke="#8885c0" stroke-width="1.2"/>
<circle cx="1076.4" cy="1259.1" r="3" fill="#dfe0e2" stroke="#8885c0" stroke-width="1.2"/>
<circle cx="1046.8" cy="1279.4" r="3" fill="#dfe0e2" stroke="#8885c0" stroke-width="1.2"/>
<circle cx="1074.5" cy="1287.4" r="24.7" fill="#dfe0e2" stroke="#8885c0" stroke-width="1.2"/>
<circle cx="1085.4" cy="1336.2" r="14.1" fill="#dcdddd"/>
<circle cx="1100" cy="1376.3" r="5.7" fill="#dcdddd"/>
<circle cx="1139.9" cy="1398.7" r="8.6" fill="#dfe0e2" stroke="#8885c0" stroke-width="1.2"/>
<circle cx="1186" cy="1389.7" r="3" fill="#dcdddd"/>
<circle cx="1181.6" cy="1412.7" r="2" fill="#dcdddd"/>
<circle cx="1206.9" cy="1415" r="3.8" fill="#dfe0e2" stroke="#8885c0" stroke-width="1.2"/>
<circle cx="1246.7" cy="1396" r="12.6" fill="#dcdddd"/>
<circle cx="1234.3" cy="1339.4" r="5.7" fill="#dcdddd"/>
<circle cx="1224.3" cy="1263.5" r="9.3" fill="#dfe0e2" stroke="#8885c0" stroke-width="1.2"/>
<circle cx="1258.2" cy="1264" r="9.6" fill="#dcdddd"/>
<circle cx="1261.4" cy="1290.8" r="10.5" fill="#dcdddd"/>
<circle cx="1282.1" cy="1371.2" r="13.6" fill="#dfe0e2" stroke="#8885c0" stroke-width="1.2"/>
<circle cx="1316.5" cy="1329.9" r="10" fill="#dcdddd"/>
<circle cx="1374.3" cy="1319.5" r="10.5" fill="#dcdddd"/>
<circle cx="1329.5" cy="1394.9" r="10.5" fill="#dcdddd"/>
<circle cx="1395.3" cy="1385.3" r="15.2" fill="#dfe0e2" stroke="#8885c0" stroke-width="1.2"/>
<circle cx="1315.6" cy="1425.5" r="15.7" fill="#dcdddd"/>
<circle cx="1266.4" cy="1441.4" r="9.6" fill="#dcdddd"/>
<circle cx="1361.5" cy="1457.6" r="5" fill="#dcdddd"/>
<circle cx="1245.7" cy="1480.6" r="5" fill="#dcdddd"/>
<circle cx="1288.8" cy="1484.8" r="6.7" fill="#dfe0e2" stroke="#8885c0" stroke-width="1.2"/>
<circle cx="1343.3" cy="1489.2" r="8" fill="#dcdddd"/>
<circle cx="1388.2" cy="1482.1" r="5" fill="#dcdddd"/>
<circle cx="1540.3" cy="1286.9" r="6" fill="#dcdddd"/>
<circle cx="1492.4" cy="1292.6" r="19.4" fill="#dfe0e2" stroke="#8885c0" stroke-width="1.2"/>
<circle cx="1430.5" cy="1275" r="7.1" fill="#dfe0e2" stroke="#8885c0" stroke-width="1.2"/>
<circle cx="1432.8" cy="1311" r="9.2" fill="#dfe0e2" stroke="#8885c0" stroke-width="1.2"/>
<circle cx="1474.6" cy="1323.9" r="6" fill="#dcdddd"/>
<circle cx="1521.5" cy="1348.2" r="18" fill="#dfe0e2" stroke="#8885c0" stroke-width="1.2"/>
<circle cx="1442.9" cy="1350.2" r="8.9" fill="#dcdddd"/>
<circle cx="1540.7" cy="1380.9" r="6" fill="#dcdddd"/>
<circle cx="1473.6" cy="1395.1" r="8.4" fill="#dcdddd"/>
<circle cx="1513.6" cy="1409" r="18.4" fill="#dcdddd"/>
</g><g stroke="#939393" stroke-linecap="butt" stroke-linejoin="round" fill="none">
<line x1="1190.6" y1="988.6" x2="1217.2" y2="1002.4" stroke-width="2"/>
<line x1="1190.6" y1="988.6" x2="1175.4" y2="1020.2" stroke-width="3"/>
<line x1="1175.4" y1="1020.2" x2="1158.1" y2="1052.7" stroke-width="3"/>
<line x1="1217.2" y1="1002.4" x2="1258.1" y2="1002" stroke-width="2.2"/>
<line x1="1217.2" y1="1002.4" x2="1135.4" y2="1041.9" stroke-width="1.3"/>
<line x1="1135.4" y1="1041.9" x2="1158.1" y2="1052.7" stroke-width="2"/>
<line x1="1135.4" y1="1041.9" x2="1134" y2="1084.3" stroke-width="2"/>
<line x1="1158.1" y1="1052.7" x2="1134" y2="1084.3" stroke-width="3"/>
<line x1="1258.1" y1="1002" x2="1277.4" y2="1037.9" stroke-width="2.6"/>
<line x1="1277.4" y1="1037.9" x2="1304" y2="1081.3" stroke-width="2.6"/>
<line x1="1304" y1="1081.3" x2="1334.6" y2="1073" stroke-width="2"/>
<line x1="1304" y1="1081.3" x2="1342.5" y2="1131.4" stroke-width="2.6"/>
<line x1="1334.6" y1="1073" x2="1342.2" y2="1024.9" stroke-width="2"/>
<line x1="1334.6" y1="1073" x2="1342.5" y2="1131.4" stroke-width="1.4"/>
<line x1="1342.2" y1="1024.9" x2="1370.6" y2="995.8" stroke-width="3"/>
<line x1="1370.6" y1="995.8" x2="1387.9" y2="971.8" stroke-width="2"/>
<line x1="1370.6" y1="995.8" x2="1412.5" y2="995.1" stroke-width="3"/>
<line x1="1387.9" y1="971.8" x2="1412.5" y2="995.1" stroke-width="2"/>
<line x1="1134" y1="1084.3" x2="1143.3" y2="1139.5" stroke-width="3"/>
<line x1="1109.2" y1="1123.3" x2="1066.7" y2="1148.8" stroke-width="3"/>
<line x1="1109.2" y1="1123.3" x2="1174.8" y2="1118.8" stroke-width="3"/>
<line x1="1174.8" y1="1118.8" x2="1230" y2="1123.7" stroke-width="3"/>
<line x1="1230" y1="1123.7" x2="1281.9" y2="1133.6" stroke-width="3"/>
<line x1="1281.9" y1="1133.6" x2="1342.5" y2="1131.4" stroke-width="3.2"/>
<line x1="1342.5" y1="1131.4" x2="1377" y2="1102" stroke-width="3"/>
<line x1="1377" y1="1102" x2="1422.4" y2="1094.1" stroke-width="2.4"/>
<line x1="1342.5" y1="1131.4" x2="1384.5" y2="1157.2" stroke-width="3"/>
<line x1="1384.5" y1="1157.2" x2="1389.9" y2="1202.8" stroke-width="3"/>
<line x1="1389.9" y1="1202.8" x2="1401.2" y2="1240.4" stroke-width="3"/>
<line x1="1342.5" y1="1131.4" x2="1430.5" y2="1275" stroke-width="1.3"/>
<line x1="1066.7" y1="1148.8" x2="1053.1" y2="1189.2" stroke-width="3"/>
<line x1="1053.1" y1="1189.2" x2="1058" y2="1238.6" stroke-width="1.3"/>
<line x1="1143.3" y1="1139.5" x2="1133.2" y2="1173.3" stroke-width="3"/>
<line x1="1143.3" y1="1139.5" x2="1165" y2="1184.5" stroke-width="1.3"/>
<line x1="1133.2" y1="1173.3" x2="1165" y2="1184.5" stroke-width="3"/>
<line x1="1165" y1="1184.5" x2="1191.6" y2="1222.3" stroke-width="3"/>
<line x1="1191.6" y1="1222.3" x2="1224.3" y2="1263.5" stroke-width="3"/>
<line x1="1412.5" y1="995.1" x2="1454.6" y2="1009.7" stroke-width="2.2"/>
<line x1="1454.6" y1="1009.7" x2="1491" y2="1031.6" stroke-width="2.4"/>
<line x1="1491" y1="1031.6" x2="1505.5" y2="1065.3" stroke-width="3"/>
<line x1="1505.5" y1="1065.3" x2="1472.7" y2="1091.8" stroke-width="3"/>
<line x1="1472.7" y1="1091.8" x2="1431" y2="1130" stroke-width="3"/>
<line x1="1431" y1="1130" x2="1384.5" y2="1157.2" stroke-width="3"/>
<line x1="1422.4" y1="1094.1" x2="1468.2" y2="1124.7" stroke-width="3"/>
<line x1="1468.2" y1="1124.7" x2="1502.3" y2="1154.3" stroke-width="3"/>
<line x1="1502.3" y1="1154.3" x2="1525" y2="1190.8" stroke-width="3"/>
<line x1="1525" y1="1190.8" x2="1553" y2="1225.6" stroke-width="3"/>
<line x1="1553" y1="1225.6" x2="1569" y2="1261.6" stroke-width="3"/>
<line x1="1586.1" y1="1139.5" x2="1572.3" y2="1163.2" stroke-width="2"/>
<line x1="1572.3" y1="1163.2" x2="1598.3" y2="1174.6" stroke-width="2"/>
<line x1="1598.3" y1="1174.6" x2="1586.1" y2="1139.5" stroke-width="2"/>
<line x1="1389.9" y1="1202.8" x2="1427.6" y2="1231.6" stroke-width="1.3"/>
<line x1="1401.2" y1="1240.4" x2="1427.6" y2="1231.6" stroke-width="2.2"/>
<line x1="1427.6" y1="1231.6" x2="1430.5" y2="1275" stroke-width="3"/>
<line x1="1401.2" y1="1240.4" x2="1430.5" y2="1275" stroke-width="1.3"/>
<line x1="1058" y1="1238.6" x2="1042.6" y2="1259.1" stroke-width="2"/>
<line x1="1058" y1="1238.6" x2="1076.4" y2="1259.1" stroke-width="2"/>
<line x1="1058" y1="1238.6" x2="1046.8" y2="1279.4" stroke-width="1.2"/>
<line x1="1058" y1="1238.6" x2="1074.5" y2="1287.4" stroke-width="2"/>
<line x1="1042.6" y1="1259.1" x2="1076.4" y2="1259.1" stroke-width="3"/>
<line x1="1042.6" y1="1259.1" x2="1046.8" y2="1279.4" stroke-width="2"/>
<line x1="1042.6" y1="1259.1" x2="1074.5" y2="1287.4" stroke-width="3"/>
<line x1="1076.4" y1="1259.1" x2="1074.5" y2="1287.4" stroke-width="2"/>
<line x1="1046.8" y1="1279.4" x2="1074.5" y2="1287.4" stroke-width="3"/>
<line x1="1046.8" y1="1279.4" x2="1076.4" y2="1259.1" stroke-width="1.2"/>
<line x1="1074.5" y1="1287.4" x2="1105.1" y2="1311.9" stroke-width="2"/>
<line x1="1074.5" y1="1287.4" x2="1085.4" y2="1336.2" stroke-width="3"/>
<line x1="1105.1" y1="1311.9" x2="1085.4" y2="1336.2" stroke-width="2.2"/>
<line x1="1085.4" y1="1336.2" x2="1100" y2="1376.3" stroke-width="3"/>
<line x1="1100" y1="1376.3" x2="1139.9" y2="1398.7" stroke-width="3"/>
<line x1="1139.9" y1="1398.7" x2="1186" y2="1389.7" stroke-width="2"/>
<line x1="1139.9" y1="1398.7" x2="1181.6" y2="1412.7" stroke-width="3"/>
<line x1="1186" y1="1389.7" x2="1181.6" y2="1412.7" stroke-width="2"/>
<line x1="1186" y1="1389.7" x2="1206.9" y2="1415" stroke-width="2"/>
<line x1="1186" y1="1389.7" x2="1246.7" y2="1396" stroke-width="2.2"/>
<line x1="1181.6" y1="1412.7" x2="1206.9" y2="1415" stroke-width="1.2"/>
<line x1="1181.6" y1="1412.7" x2="1246.7" y2="1396" stroke-width="1.2"/>
<line x1="1206.9" y1="1415" x2="1246.7" y2="1396" stroke-width="3"/>
<line x1="1246.7" y1="1396" x2="1234.3" y2="1339.4" stroke-width="3"/>
<line x1="1234.3" y1="1339.4" x2="1261.4" y2="1290.8" stroke-width="3"/>
<line x1="1261.4" y1="1290.8" x2="1258.2" y2="1264" stroke-width="2"/>
<line x1="1258.2" y1="1264" x2="1224.3" y2="1263.5" stroke-width="2.2"/>
<line x1="1224.3" y1="1263.5" x2="1269.6" y2="1311.9" stroke-width="2"/>
<line x1="1269.6" y1="1311.9" x2="1316.5" y2="1329.9" stroke-width="2.6"/>
<line x1="1316.5" y1="1329.9" x2="1374.3" y2="1319.5" stroke-width="3"/>
<line x1="1374.3" y1="1319.5" x2="1432.8" y2="1311" stroke-width="3"/>
<line x1="1316.5" y1="1329.9" x2="1282.1" y2="1371.2" stroke-width="2.2"/>
<line x1="1258.2" y1="1264" x2="1282.1" y2="1371.2" stroke-width="2.3"/>
<line x1="1282.1" y1="1371.2" x2="1279" y2="1405" stroke-width="3"/>
<line x1="1279" y1="1405" x2="1266.4" y2="1441.4" stroke-width="3"/>
<line x1="1282.1" y1="1371.2" x2="1288.8" y2="1484.8" stroke-width="1.2"/>
<line x1="1246.7" y1="1396" x2="1329.5" y2="1394.9" stroke-width="2.2"/>
<line x1="1329.5" y1="1394.9" x2="1395.3" y2="1385.3" stroke-width="3"/>
<line x1="1395.3" y1="1385.3" x2="1442.9" y2="1350.2" stroke-width="3"/>
<line x1="1329.5" y1="1394.9" x2="1315.6" y2="1425.5" stroke-width="3"/>
<line x1="1246.7" y1="1396" x2="1315.6" y2="1425.5" stroke-width="1.2"/>
<line x1="1315.6" y1="1425.5" x2="1361.5" y2="1457.6" stroke-width="2.2"/>
<line x1="1361.5" y1="1457.6" x2="1388.2" y2="1482.1" stroke-width="3"/>
<line x1="1388.2" y1="1482.1" x2="1343.3" y2="1489.2" stroke-width="3"/>
<line x1="1343.3" y1="1489.2" x2="1288.8" y2="1484.8" stroke-width="3"/>
<line x1="1288.8" y1="1484.8" x2="1245.7" y2="1480.6" stroke-width="3"/>
<line x1="1245.7" y1="1480.6" x2="1266.4" y2="1441.4" stroke-width="2.4"/>
<line x1="1266.4" y1="1441.4" x2="1288.8" y2="1484.8" stroke-width="1.2"/>
<line x1="1288.8" y1="1484.8" x2="1314.6" y2="1510.2" stroke-width="2.2"/>
<line x1="1314.6" y1="1510.2" x2="1343.3" y2="1489.2" stroke-width="2.2"/>
<line x1="1343.3" y1="1489.2" x2="1361.5" y2="1457.6" stroke-width="1.2"/>
<line x1="1430.5" y1="1275" x2="1474.6" y2="1323.9" stroke-width="3"/>
<line x1="1430.5" y1="1275" x2="1442.9" y2="1350.2" stroke-width="1.3"/>
<line x1="1432.8" y1="1311" x2="1492.4" y2="1292.6" stroke-width="3"/>
<line x1="1492.4" y1="1292.6" x2="1540.3" y2="1286.9" stroke-width="3"/>
<line x1="1540.3" y1="1286.9" x2="1569" y2="1261.6" stroke-width="3"/>
<line x1="1474.6" y1="1323.9" x2="1521.5" y2="1348.2" stroke-width="3"/>
<line x1="1521.5" y1="1348.2" x2="1540.7" y2="1380.9" stroke-width="3"/>
<line x1="1540.7" y1="1380.9" x2="1513.6" y2="1409" stroke-width="3"/>
<line x1="1513.6" y1="1409" x2="1473.6" y2="1395.1" stroke-width="3"/>
<line x1="1473.6" y1="1395.1" x2="1442.9" y2="1350.2" stroke-width="3"/>
<line x1="1442.9" y1="1350.2" x2="1474.6" y2="1323.9" stroke-width="2.2"/>
</g>
<text x="-1" y="23.8" font-size="31" text-anchor="start" font-weight="bold" fill="#000">a</text>
<text x="907" y="23.8" font-size="32" text-anchor="start" font-weight="bold" fill="#000">b</text>
<text x="58" y="951.5" font-size="32" text-anchor="start" font-weight="bold" fill="#000">c</text>
<text x="959.5" y="950.7" font-size="32" text-anchor="start" font-weight="bold" fill="#000">d</text>
<text x="1827.6" y="125.9" font-size="24.4" text-anchor="start" font-weight="bold" fill="#000">Scaffold Length (Kbp)</text>
<circle cx="1864.4" cy="166.9" r="2.9" fill="#dcdcdc" stroke="#444" stroke-width="1.2"/>
<text x="1906" y="173.4" font-size="22.6" text-anchor="start" font-weight="normal" fill="#000">10</text>
<circle cx="1864.4" cy="194.9" r="6" fill="#dcdcdc" stroke="#444" stroke-width="1.2"/>
<text x="1906" y="201.4" font-size="22.6" text-anchor="start" font-weight="normal" fill="#000">50</text>
<circle cx="1864.4" cy="222.5" r="8.8" fill="#dcdcdc" stroke="#444" stroke-width="1.2"/>
<text x="1906" y="229" font-size="22.6" text-anchor="start" font-weight="normal" fill="#000">100</text>
<circle cx="1864.4" cy="263" r="19.5" fill="#dcdcdc" stroke="#444" stroke-width="1.2"/>
<text x="1906" y="269.5" font-size="22.6" text-anchor="start" font-weight="normal" fill="#000">500</text>
<circle cx="1864.4" cy="326.5" r="27.7" fill="#dcdcdc" stroke="#444" stroke-width="1.2"/>
<text x="1906" y="333" font-size="22.6" text-anchor="start" font-weight="normal" fill="#000">1000</text>
<text x="1828.2" y="433" font-size="23.8" text-anchor="start" font-weight="bold" fill="#000">Taxonomy</text>
<circle cx="1839" cy="460.5" r="5.8" fill="#E07A74"/>
<text x="1859.3" y="469.9" font-size="24" text-anchor="start" font-weight="normal" fill="#000">Acidobacteria</text>
<circle cx="1839" cy="493.3" r="5.8" fill="#D28B30"/>
<text x="1859.3" y="502.7" font-size="24" text-anchor="start" font-weight="normal" fill="#000">Alphaproteobacteria</text>
<circle cx="1839" cy="526.1" r="5.8" fill="#A9A23A"/>
<text x="1859.3" y="535.5" font-size="24" text-anchor="start" font-weight="normal" fill="#000">Bacteroidetes</text>
<circle cx="1839" cy="558.9" r="5.8" fill="#7BBF4C"/>
<text x="1859.3" y="568.3" font-size="24" text-anchor="start" font-weight="normal" fill="#000">Betaproteobacteria</text>
<circle cx="1839" cy="591.7" r="5.8" fill="#62B273"/>
<text x="1859.3" y="601.1" font-size="24" text-anchor="start" font-weight="normal" fill="#000">Chloroflexi</text>
<circle cx="1839" cy="624.5" r="5.8" fill="#5DB79E"/>
<text x="1859.3" y="633.9" font-size="24" text-anchor="start" font-weight="normal" fill="#000">Firmicutes</text>
<circle cx="1839" cy="657.3" r="5.8" fill="#5ABBD8"/>
<text x="1859.3" y="666.7" font-size="24" text-anchor="start" font-weight="normal" fill="#000">Gammaproteobacteria</text>
<circle cx="1839" cy="690.1" r="5.8" fill="#5A95D8"/>
<text x="1859.3" y="699.5" font-size="24" text-anchor="start" font-weight="normal" fill="#000">Gemmatimonadetes</text>
<circle cx="1839" cy="722.9" r="5.8" fill="#8679C6"/>
<text x="1859.3" y="732.3" font-size="24" text-anchor="start" font-weight="normal" fill="#000">Nitrospirae</text>
<circle cx="1839" cy="755.7" r="5.8" fill="#A466BC"/>
<text x="1859.3" y="765.1" font-size="24" text-anchor="start" font-weight="normal" fill="#000">Planctomycetes</text>
<circle cx="1839" cy="788.5" r="5.8" fill="#DC66AA"/>
<text x="1859.3" y="797.9" font-size="24" text-anchor="start" font-weight="normal" fill="#000">Verrucomicrobia</text>
<text x="747.8" y="1098.6" font-size="14.4" text-anchor="start" font-weight="bold" fill="#000">Taxonomy</text>
<circle cx="759.9" cy="1118.2" r="8.7" fill="#8679C6"/>
<text x="776.6" y="1123.8" font-size="14.7" text-anchor="start" font-weight="normal" fill="#000">Nitrospirae</text>
<text x="747.4" y="1166.1" font-size="14.6" text-anchor="start" font-weight="bold" fill="#000">Scaffold Length (Kbp)</text>
<circle cx="788.6" cy="1186" r="3.4" fill="#dcdcdc" stroke="#333" stroke-width="1.1"/>
<text x="834.8" y="1191" font-size="14" text-anchor="start" font-weight="normal" fill="#000">10</text>
<circle cx="788.6" cy="1212.5" r="6.8" fill="#dcdcdc" stroke="#333" stroke-width="1.1"/>
<text x="834.8" y="1217.5" font-size="14" text-anchor="start" font-weight="normal" fill="#000">50</text>
<circle cx="788.6" cy="1238.5" r="9.9" fill="#dcdcdc" stroke="#333" stroke-width="1.1"/>
<text x="834.8" y="1243.5" font-size="14" text-anchor="start" font-weight="normal" fill="#000">100</text>
<circle cx="788.6" cy="1280.8" r="21.8" fill="#dcdcdc" stroke="#333" stroke-width="1.1"/>
<text x="834.8" y="1285.8" font-size="14" text-anchor="start" font-weight="normal" fill="#000">500</text>
<circle cx="788.6" cy="1352" r="30.7" fill="#dcdcdc" stroke="#333" stroke-width="1.1"/>
<text x="834.8" y="1357" font-size="14" text-anchor="start" font-weight="normal" fill="#000">1000</text>
<text x="1648.7" y="1156.3" font-size="14.6" text-anchor="start" font-weight="bold" fill="#000">Scaffold Length (Kbp)</text>
<circle cx="1671.9" cy="1175.6" r="5.3" fill="#dcdcdc" stroke="#333" stroke-width="1.1"/>
<text x="1699.7" y="1180.6" font-size="14" text-anchor="start" font-weight="normal" fill="#000">10</text>
<circle cx="1671.9" cy="1205.1" r="12.3" fill="#dcdcdc" stroke="#333" stroke-width="1.1"/>
<text x="1699.7" y="1210.1" font-size="14" text-anchor="start" font-weight="normal" fill="#000">50</text>
<circle cx="1671.9" cy="1245.5" r="17.4" fill="#dcdcdc" stroke="#333" stroke-width="1.1"/>
<text x="1699.7" y="1250.5" font-size="14" text-anchor="start" font-weight="normal" fill="#000">100</text>
<text x="1649.5" y="1304.1" font-size="14.4" text-anchor="start" font-weight="bold" fill="#000">Taxonomy</text>
<circle cx="1661.6" cy="1323.3" r="8.5" fill="#8679C6"/>
<text x="1678.7" y="1329" font-size="14.7" text-anchor="start" font-weight="normal" fill="#000">Nitrospirae</text>
</svg>
</body></html>
